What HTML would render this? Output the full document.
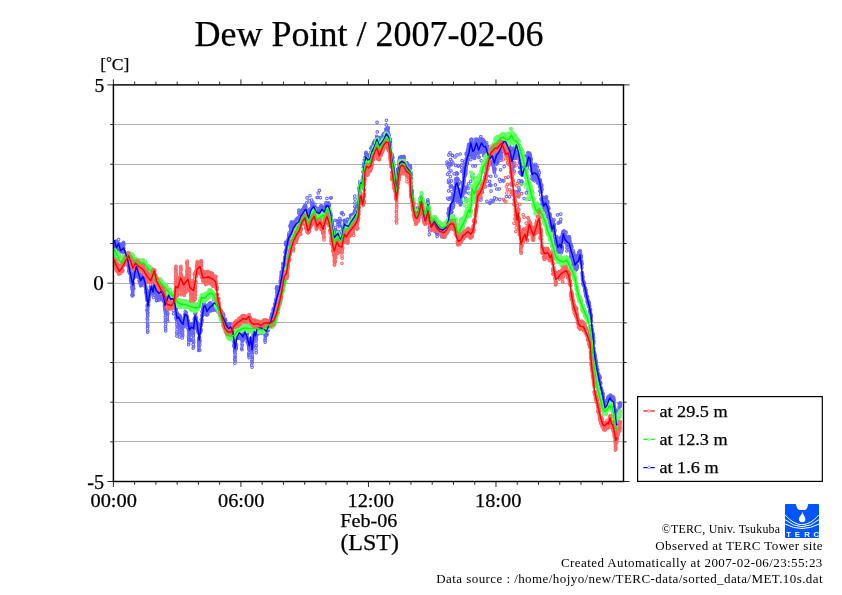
<!DOCTYPE html>
<html lang="en"><head><meta charset="utf-8"><title>Dew Point / 2007-02-06</title>
<style>html,body{margin:0;padding:0;background:#fff;}body{width:842px;height:595px;overflow:hidden;font-family:"Liberation Serif",serif;}svg{display:block;}text{font-family:"Liberation Serif",serif;fill:#000;stroke:#000;stroke-width:0.25px;}</style></head><body>
<svg width="842" height="595" viewBox="0 0 842 595">
<rect x="0" y="0" width="842" height="595" fill="#fff"/>
<g stroke="#adadad" stroke-width="1" fill="none"><line x1="113.4" y1="441.50" x2="623.5" y2="441.50"/><line x1="113.4" y1="402.50" x2="623.5" y2="402.50"/><line x1="113.4" y1="362.50" x2="623.5" y2="362.50"/><line x1="113.4" y1="322.50" x2="623.5" y2="322.50"/><line x1="113.4" y1="283.50" x2="623.5" y2="283.50"/><line x1="113.4" y1="243.50" x2="623.5" y2="243.50"/><line x1="113.4" y1="203.50" x2="623.5" y2="203.50"/><line x1="113.4" y1="164.50" x2="623.5" y2="164.50"/><line x1="113.4" y1="124.50" x2="623.5" y2="124.50"/></g>
<defs>
<marker id="mr" markerWidth="5" markerHeight="5" refX="2.5" refY="2.5" markerUnits="userSpaceOnUse"><circle cx="2.5" cy="2.5" r="1.3" fill="none" stroke="#ff6464" stroke-width="1.05"/></marker>
<marker id="mg" markerWidth="5" markerHeight="5" refX="2.5" refY="2.5" markerUnits="userSpaceOnUse"><circle cx="2.5" cy="2.5" r="1.3" fill="none" stroke="#64ff64" stroke-width="1.05"/></marker>
<marker id="mb" markerWidth="5" markerHeight="5" refX="2.5" refY="2.5" markerUnits="userSpaceOnUse"><circle cx="2.5" cy="2.5" r="1.3" fill="none" stroke="#6464ff" stroke-width="1.05"/></marker>
</defs>
<polyline fill="none" stroke="none" marker-start="url(#mb)" marker-mid="url(#mb)" marker-end="url(#mb)" points="515.8,153.1 576.7,262.2 124.7,255.2 428.6,208 303.3,214.4 162.8,299.1 373,146.1 264.2,327.8 228.3,332.5 259.3,329.4 144.5,280.7 581,256 261.4,332.6 224.1,323.3 224.1,320.6 467.5,151.4 134.7,270.6 548.3,206.9 204.7,308.8 543.2,202.5 573.8,264.3 160.8,292.3 311.6,211.6 153.7,292.3 615.4,413.6 137.3,274.4 220.1,310.9 304.8,205.9 162.9,292.1 331.5,221.6 143.5,278.1 450.3,186.6 197.8,327 593.2,336.8 447.3,164.9 188.5,330.3 613,403.5 147.6,312.8 150.5,289.7 408.9,167.9 546.9,213.9 534.7,176.6 173.6,313.7 478.3,199.9 540.6,194.7 327.7,208.7 132.2,294.6 461.3,203.1 311.8,207.9 353.7,215.4 472.9,149.9 236.6,335.6 347,225 262.9,331.2 568,239.2 542.4,202.1 193.6,341.1 313.3,206.1 213.5,310.3 502.6,140.9 456.9,182.7 419.7,203.3 288.8,238.2 237.4,334.7 613.6,397.1 610.5,399.3 327.3,209.3 472.5,155.6 348.3,227.3 333.2,230.3 618.9,412.8 439.3,229.7 360.8,181.9 562.9,236.4 381.7,140.2 568.9,240.8 173.3,299.2 399.6,158.9 521.6,181.5 341.4,236.5 316.6,215.1 435.7,226.9 427.9,201.7 249,348.9 511.5,167.1 198.7,350.5 488.2,150.7 359.8,184.5 343.4,230.1 364.7,161.7 433.4,228 271.1,317.3 272.5,315.9 328,206.9 388.3,133.6 469.3,144.2 199.9,344.6 495,155.6 603.6,403.4 190.8,325.8 586.6,297.6 313.1,207.7 201.2,323.5 230,326.8 550.8,229.9 370.6,159 534.8,170.5 244.2,330.7 570.2,244.1 451.8,216.7 216.9,306.1 567.7,244.2 184.8,320 533.3,168.2 250.8,338.6 336.2,234.7 234.8,359.6 201.4,323.4 261.4,332.2 399.4,161.8 199.3,338.6 598.9,378.6 127.3,257.5 246.2,337.7 347.3,222.4 458.5,189.4 436.9,230.1 436.7,232.5 135.1,268.5 172.1,298.7 273.4,314.1 491.8,157.2 538.8,183.1 278.6,288.2 294.9,221.8 452.6,155.5 505.8,141.7 585.4,289.1 387.9,128.2 526.8,156.5 371,153.8 237.3,337.7 583.9,285.3 503.2,137.7 171.9,306.8 146.3,292.3 222.9,317.4 118.2,245.2 294.4,227.4 506.9,153.1 456.6,172.7 145.1,279.2 374.8,140.9 297.1,224.6 505,137.1 404,157.2 598.6,377.2 342.4,229.8 606.1,405.6 461.6,192 208.9,305.5 196.7,325.6 153.6,297.5 415.6,210.3 328.3,208.1 547.3,203.8 299.2,210.8 359.7,185.9 424.2,211.5 233.7,336.4 266.2,329.8 210.4,302.9 378.1,145.8 294.1,226.5 280.2,286 493.2,158.1 276.6,289.1 429.7,215 206.1,306.1 409.1,169.4 468.7,188.1 155.6,289.9 571.6,246.5 495.5,159.5 293.5,229.7 275.7,303.1 444.1,233 147.3,310.3 576.5,269.5 365.5,159.5 173.8,299.2 457,181.7 226.2,323.9 206.4,306.9 235.8,347 170,293 212.1,305.4 208.2,307 389.1,135.6 433.2,229 472.9,166 246.6,338.4 315.7,210.9 525.1,175.2 582,263.7 400.3,161.7 592.7,334.7 497.4,160.2 294.2,222.5 240.8,330.9 227.8,323.7 122.9,247.7 518.4,145.3 521.4,171.3 555.3,243.6 606.5,406.1 510.9,148.4 520.3,157.3 581.5,261.3 589.4,306.1 520.9,183.2 206.3,306.2 496.6,198.9 505.4,149.7 416.9,211.3 226.5,327.3 379.2,140.2 234.2,339.1 574.2,261.3 358.2,204.5 252.6,341.8 290.3,225.3 551.3,225.6 196.2,318.5 261.2,332.4 253,346.2 337.6,237.3 158.8,289.1 463,191.6 475.5,139.4 221.3,318.6 491.9,154 504.2,149.3 301.3,218.7 335.6,227.8 212.4,309.8 544.7,212.3 377.3,131.9 152.9,291.9 447.9,226.6 596.5,366.4 265.2,328.2 598.6,374.9 506.7,146.3 508,154 429.3,234.6 516.9,146.5 359.3,190.2 491.6,156 616.7,426.4 184.8,315.4 531.2,163.3 156.4,296.6 501,149 607.1,400.4 466.4,153.3 475.6,144.2 503.9,180.9 371.4,147.1 506.2,141.7 189,324.9 127.9,260 208.7,305 562.4,234 547.6,202.3 222.3,315.3 179,323.3 343.1,232.7 219.4,309.4 119.5,245.9 117.2,244.4 289.1,232.9 144.5,281.8 507.9,141.4 332.4,224.4 364.8,161.2 274.9,304.4 197.5,329.2 297.4,221.5 451.1,164.4 451.8,212.1 369,159.9 377.2,138.9 486.7,151.6 244.6,330.3 544.1,204.6 390.4,142.1 231.9,333.6 278,293.2 483.9,155.3 115.5,248.4 143.1,279.2 565.2,236.7 509.8,151.8 619.9,405.3 563.9,242.4 201.7,321.1 538.8,175.8 597.3,371 396.2,190.6 155.1,285.5 376.2,140.5 147.7,316.2 377.1,122.4 589,303.2 440.2,229.2 308.9,214.1 533.9,172.6 209.8,309.6 322.5,208.8 235.8,347.3 363.9,163.4 532.4,172.3 374.1,142.5 198.5,331.4 529.3,154.8 115.4,248.7 599.4,379.4 489,152.3 243.7,338.5 340.3,239.4 188.5,336.4 354.3,214.3 188.2,321.5 210,303.2 579.6,254.3 182.1,323.5 264.2,328.9 533.6,176.3 281.4,275.6 164.5,306.3 495.9,176.1 287.7,240.9 379.7,146.6 616.9,423.6 583.9,284.2 500.6,169.8 553.3,227.5 295,223.6 424.1,210.7 214.2,305.9 141.8,276.1 488.1,150.7 574.7,265.1 602.6,398.7 335.2,220.3 399.1,168.5 347.9,225.6 157.7,295.4 329.8,211 228.8,326.8 136.6,263.9 567.4,244.6 206.8,312.2 242.2,337.2 183.8,326.1 576.5,264.6 338.2,237.6 263.9,328 427.6,203 402.8,163.7 191.7,324.4 187.1,317.4 439,229 529,157.1 591.3,317.5 226.3,324.2 304.1,214.2 135.3,267.8 139.4,279.8 551.9,227.5 586.3,296.5 578.4,259.2 256.1,350.4 460.3,201.9 213.5,308.6 141.8,278 496.6,156.3 401.7,164.9 466.2,167.9 399,165.3 446.4,232.2 537.7,175.1 235.3,348.3 529.2,159.9 521,173 438.1,227.9 274.6,309.4 474.9,144.7 182.6,327.9 148.1,306.4 293,225.8 411.4,178.3 470.8,142.2 225.9,327.8 530.5,157 354.8,218.5 391.9,160.2 116,250.8 276.3,301.2 122.7,248.7 501,150.8 281.1,277.4 323,209.2 496.4,154.4 582.4,278.8 202.2,315 299.5,219.1 482.9,141 171.7,299.1 439.5,227.5 518.4,191.5 279.7,291.6 293.9,230.8 577.9,261.2 415.7,213.4 400.1,164.6 376.6,138.3 222,314.8 474.7,158.5 479.6,150.1 338.2,236.8 550.9,222.6 321.9,208.9 583.1,283.9 372.1,153.3 204.8,305.5 252.2,347.4 411.8,193.5 207.3,307.9 179.6,337 461.9,195.8 587.2,296.4 120.5,245.1 115.9,250.2 398.6,169.7 179.2,334 503.8,135.2 124.5,251.8 355.6,215.8 525.4,156.6 486.2,151.4 581.9,267.5 510.3,152.1 442.4,227.4 445,227.5 460,195.4 430.4,218.7 311.1,212 302.6,210.1 533.5,178.6 317.1,211.5 482.6,139.9 358.4,202.2 458,199.1 122.7,244.9 198.9,339.2 167.5,298.1 352.8,214.9 393.8,172.4 460.4,204.3 176.5,318.5 136.7,265.9 209.5,305.6 199.3,341.4 235,356.5 158.9,292.9 527.3,166.5 127,255.9 167,298.3 309.3,200.9 138.3,272 410.2,165.9 468.5,159.5 393.9,166 393.6,166.8 447.6,174.3 321.2,206 432.6,220.5 242.6,337.8 509.3,155.9 335.6,229.7 232.1,332.4 489.5,162.2 447,223.5 216.4,307.6 300.7,215.4 401.9,164.7 337.5,224.4 566.7,241.2 463.7,178.2 579.3,255.7 479.3,145.6 526.9,163.9 492.5,154.8 201.5,319.5 262.4,326 139.2,281.2 530.8,158.5 392.7,157.8 309.9,209.4 421.7,203.7 611.1,398 330.8,215.2 566.8,247.8 141.9,276.7 416.1,211.4 264.4,328.6 571.4,250.8 452,208.5 301.5,215.6 411.9,192.7 303.8,207.4 504.8,137.6 193.5,327.1 442.5,229.3 234.8,347.7 556.6,243.2 120,251.4 543.7,207 324.6,213.1 464.2,177.5 516.3,149.2 256.1,334.6 465.1,163.9 500.2,147.5 175.1,302.2 581.2,256.1 309.2,218.4 306.9,215.4 521.6,181.2 234.2,340.5 372,153.5 116.3,242.1 444.3,229.6 247.8,340.4 393.4,169 537.2,179.9 222.1,317.6 315.4,211 189.3,325.2 478.6,148.8 466.4,158.7 556.7,238.8 347.1,225.1 554.5,236.6 144.8,279.2 522.5,172.9 201.1,330 288.7,237.2 239.6,330.9 453,202 182.7,321.5 280.9,282.4 373.8,142.9 216,307.8 151.6,288 149,294.6 209.6,304 584.7,288.1 129.5,272.2 169.9,300 587.9,301.2 217.1,303.4 551,228.7 420.8,197.1 422.4,208.5 498.2,158.5 259.7,330.6 270.1,325.7 116.9,245.3 125,255.2 181.9,328.5 602.7,396.4 605.1,403.3 563.4,233.8 528,165.3 371.7,154 577.8,261.1 570.6,250.7 335.1,233.4 141.7,277.1 143.1,280.6 604.5,407.8 559.4,247.4 147.4,310.4 396.9,185.3 409.8,172.5 412.2,193.5 179.4,327 199.1,338.9 544.3,204.7 260.8,325.9 538.1,180.4 431.3,223.1 131.1,275.4 186.9,317.7 327.7,207.7 317.6,213 178.7,317.9 438.2,224.4 156.7,297.5 156.2,290.3 511.5,165 446.6,222 151.1,289.4 291.1,225.3 331.5,220.8 260.5,332.5 562.8,232.9 425.8,213.3 427.2,206.1 166.6,297.3 560,246.9 449.5,216.6 253.1,341 349.6,225.1 441.8,236.2 119.6,246.1 259.4,325.6 365.7,158.8 211.1,306.1 264.7,327 599,380.7 356.2,208.4 138.4,270.3 399.4,162.8 434.8,222.5 233.2,330.9 147.5,328.1 185.7,316.8 423.5,217.4 560.9,240.8 521.9,169.6 264.8,327.4 453.3,207.5 514.7,150.8 531.3,162.9 443.8,230.4 585.5,293.4 489.5,155.9 215.1,305 309.2,211.8 130.4,273.4 244.2,330.3 243.9,338.1 473.3,152.7 506.4,196.5 376.2,140.2 187.4,327 303,214.2 124,252.7 197.1,321.7 389.6,141.1 132.3,288.9 611.4,402.2 193.5,325.3 559.4,250.3 266.3,328.8 376.8,141.6 296.9,223.1 581.5,261.2 321.6,208.3 443.8,228.2 299.3,219.4 206.9,309.6 271.6,317.1 543.3,197.4 437.8,225.9 225.2,320.1 339.5,225.1 198.5,330.2 597.1,369.7 133.8,277.9 273.5,313.3 263.5,326.3 537.2,173.5 114.6,241.7 284.9,258.1 436.6,232.6 550.5,220.6 345.9,225.9 450,152.7 469.4,150.2 582.9,277.4 610.8,397.2 203.3,309.5 263.4,327.8 538.3,174.8 159.5,298.8 127.8,258.8 289.8,236.2 422.3,205.7 379.3,141.6 535.2,165.8 575.6,262.3 432.9,221.6 540.5,180.1 151.3,287 524,164.9 400.8,160.3 282.5,274.2 200.2,330.6 522.6,171.3 440,229.8 158.2,294.8 375.3,144.2 580.7,253.9 452.8,194.5 280.9,281.4 257.7,332.9 530.9,159.8 609,401.4 336.5,235.9 175.4,307.1 518.8,196.8 287,243.6 471.6,139 377.2,139.7 387.9,129.3 254,330.6 182.4,330.5 138.6,270.9 467.2,157.4 218,308.8 291.3,224.1 355.1,214.4 613.9,400.5 391.5,161.2 537.9,175.1 173.4,310.4 520.5,166.8 493.9,169 289.7,234.6 468.2,151.7 585.8,293 609.4,396.5 353.8,214.5 514.5,148.8 521.3,181.1 458.6,197.3 142.2,282.6 199.8,340.6 451.7,161.1 512.9,156.7 573.1,262.1 517,155.3 541.4,199.5 202.3,312.1 213,308.4 353.3,215.3 598,372.8 611.8,401.2 240.9,331.5 449.6,214.7 319,216.8 539,181.3 344.2,226.3 204.4,304.2 574.5,266.9 363.2,171.9 291.1,229.4 426.9,210.4 209.2,304.1 483.6,140.6 117.2,247 613.7,398.6 194,328.8 215.8,308 156.4,287.6 137,266.4 369.3,162.3 314.9,208.9 370.5,157.6 418.7,214.4 149.6,294.7 178.4,317.9 427.1,213.5 330.8,213.8 245.6,332.5 188.8,331.1 183,324.6 432.6,223.7 555,240.1 544.5,209.1 560.8,219.4 247.4,341.3 569.6,242.8 357.9,206.1 455,197.4 258,331.7 511.3,184.9 187.7,320.5 559.8,244 267.4,327.4 507.7,145.8 167.1,298.2 392.8,163.2 391.2,158.1 450.5,176.6 366.3,157.7 280.1,289.4 142.4,281.6 253.5,341.3 553.4,227.2 367.1,159 596.4,365.4 427,213.8 578.5,254.8 164.7,304.7 198.8,345.4 270.1,325.3 299.4,216.8 190,327.9 617.4,424 443.7,227.8 327.1,209.3 117,245.4 461.4,201.5 121.1,249.3 144.8,277.9 269.7,322.3 550.8,229.4 280.4,282.9 346.6,228.3 176.1,308.9 596.7,366.7 251,343 237.8,335.1 311,213.4 157.3,296.6 160.3,291 239.1,336.3 245.2,329.7 340.8,237.2 300.7,214.8 195.7,312.8 154.4,286.9 465,167.1 258.6,325.4 481.2,151.9 324.1,211.1 558.7,246.3 358.9,199.7 590.4,309.5 430.9,222.9 345.2,224.7 560.6,239.2 252.3,356.2 491,164 600,377.8 190.6,340.5 159.3,290.8 180.2,320.6 141.5,275.4 386.9,136 600.2,382.8 317.5,212.7 560.7,238.4 582.3,272.5 238.3,337.1 510.3,157.7 532.6,170.1 234.1,344.6 197.2,323.2 432.7,221.2 204.1,303.2 458.2,184.7 411.9,190 256.5,333.4 328.6,202.9 319.6,208.6 476.2,142.1 153.3,287.7 499.8,199.4 558.1,245 316.1,208.2 372.8,152.6 147.4,323 184.2,323.5 301.6,214.1 493.1,156.4 148.5,299.8 429.7,225.5 432.4,222.8 314.1,210.7 198.7,341.6 277.9,295.6 172,304.8 415.9,211.9 300.6,214.4 450.3,210.1 516.4,145.8 342.2,212.5 536.2,176.7 491.1,162.6 606.9,406.5 318.7,213.1 385.1,133.2 481,197.4 396.1,190 591.6,326.8 267.1,330.6 462.1,160.5 373,146.5 165.3,308.2 315.2,210.3 157.4,293.6 309.6,217.1 347.7,227.2 603.6,402.1 574.8,262.8 557.9,248.4 615.3,411.4 560.3,242.1 331,197.9 217.1,304.7 180.6,317.4 573,263.9 407.2,165.4 374.5,141.9 417,210.8 234,346.4 483.1,151 466.5,158.7 407,170.1 428.3,209.2 202.6,311.1 295.6,227.1 229.7,329 565.3,240.2 196.1,318.7 511.7,167.3 322.6,210.2 170.8,302.6 381.8,140.8 387.7,137.3 431.6,224.5 161,287.3 254.4,336.6 242.7,339 608.8,396.6 453.1,201.5 546.1,205.3 474.5,157.8 226.8,330.5 537.3,167 600.9,388.9 497,160.4 135.5,270.3 374.7,143.2 493.7,159.2 496.8,189 559.7,246.3 459.3,197.6 366.8,161.6 314.3,208.8 374,142.8 125.8,258.2 215.6,307.2 528.1,153.5 590.2,310.5 145.4,282.6 352.5,216 221.7,316.2 478.9,156.9 509.5,155.5 228.6,324.8 258.1,331.8 524.9,166.2 180.9,318.3 312.7,204 167.7,313.2 497.7,155.8 386.7,132.7 341,237.5 335.2,239.2 401.9,164.9 347.2,224.3 485.5,155.8 339.8,223.3 617.6,417.4 274.8,308.4 403.2,161 198.1,331.7 502.6,151.3 614.6,409.8 212,305.1 579.4,252.1 474.5,151.4 441.2,225.8 138.1,277.3 453.6,205.1 593.8,341 566.9,251 401.5,161.8 182.4,326.9 478.4,152 137.1,272.7 493.5,161.7 503.3,135.6 202.6,312.7 286.1,249.8 241.1,333.1 547.5,206.7 508.5,155.8 151.3,286.3 367.8,155.6 116.3,241.8 521.8,184.1 548.5,208.4 198.8,346.7 500,144 588.5,303.1 150.8,292.9 126,259 515.9,158 179.5,316.7 147.3,305.1 560.7,240 595.2,355.2 134.2,272.4 292.5,233.1 401.9,162 575.2,257.5 386.4,130.5 448.7,168 460.8,195.7 420.3,199.9 619.7,407 598,374.2 400.4,161.2 554.2,224.2 376.4,144.2 560.2,242.6 235.6,345.2 619.3,403.5 173.7,306.8 295,224.4 457.6,192.9 526.1,161.2 413.1,201.1 330.4,213.2 455.1,194.9 485,151.9 531.5,169.6 468.5,156 517.5,153.5 260.9,326.8 455.8,193.8 384.3,137.7 236.3,348.5 457.9,194.6 123.4,250.2 552.2,230.8 488.6,157.2 266,334.5 335.9,237.5 452.1,199.1 238.7,332.5 506.1,144.6 370.2,161.4 238.7,330.8 461.8,192.9 236.7,335 439.8,233.7 412.1,191.2 170.9,298.5 344.6,222.7 292.6,231.7 265.2,327.7 472.9,147.7 609.3,401.2 518.6,151.7 115.4,245.2 145.8,288.5 171.3,298.3 565.9,232.1 463.3,186 350.6,215.2 541.9,189.7 451.2,206.6 447.7,198.2 251.9,352.3 538.1,179.8 492.5,153.1 189.9,329.1 321.8,209.1 253.3,336.1 316.8,215.2 352.4,217.5 273.7,308.5 475.5,141.8 601.6,391 128.5,260.8 363.2,176.7 367.3,161 231.7,331.7 282.2,275.7 212.4,309.3 127.5,262.4 135.6,267.8 455.7,165.4 255.1,331.8 448.8,166.6 609.9,399.9 146.6,297.3 158.5,289 428.8,208.9 191.7,326 338.2,237.7 198.8,338.1 614.2,406.1 432,223.8 355.8,208.2 317.5,213.4 223.6,314.5 350.2,222.8 426.6,212.2 524.1,163.9 549.3,218 574.9,270.1 448.4,213 463.5,186.7 511.7,168 347.5,222.9 564.1,230.9 446.1,223.9 183.7,324.7 310.7,212.1 305.5,206.3 223.6,319.3 344.1,226.1 456.8,174.7 166.4,299.7 541.7,184.9 491.4,149.9 560.1,244.2 322.2,209.3 155.5,293.4 395.2,181.1 485.8,153.5 397.1,185.9 494.5,197.9 484.6,143 520.2,162.8 591.8,329.3 516.1,192.7 437,229.3 369.6,160.8 588,304.1 406.9,169 540.3,190.9 606.6,402.3 221.6,319.6 545.4,197.5 534,165.3 178.2,319.4 360.5,185.5 447.6,227.2 398.9,170.3 240.5,335 181.1,326.9 501.9,141.7 584.7,288 157.8,289.9 251.2,340.9 465.7,174.3 267.8,330.6 251.5,348.5 421.9,198.6 502.3,142.8 273.4,313.9 266.4,328.9 290.8,233.5 281.1,279.8 176.9,333.4 327.8,206.6 286.5,249.7 413.8,207.5 133.2,287.1 572.4,259.2 154.8,290 495,162.2 398.9,168.2 161.7,287.8 393,161.8 575.9,261.9 466,169.7 222.9,313.1 542.9,209.7 417.6,212.9 449.4,215.2 365.1,159.9 498.7,147.9 454.5,189.2 340.7,239.5 344.3,220.5 462.1,183.6 205.6,310.1 265,340.1 176.9,315.3 352.1,219.1 554.2,224.9 578,256.8 309.7,210.8 326.6,207.2 246.4,334.3 215.3,302.9 135.1,270 616.6,425.8 114.9,242.5 541.9,189.3 143.4,283.1 376.5,144.1 406.2,163.4 125.7,254.9 131.5,280.2 249.7,341.8 167.3,297 181.8,328.3 127.6,261 170.7,299.6 339.8,218.3 612.8,404.8 189.4,328 572.9,261.8 245.3,329.6 374.3,141.8 301.7,210.3 603.3,400.8 344.6,223.8 317.3,212.8 594.6,353 379.7,143.7 480.1,143 161.8,288.2 216.7,309.5 346.4,228.1 327.1,209.2 439.2,228.9 389.2,138.9 513.3,150.3 439,226.8 204.7,307.8 136.6,264 489.8,154 246.7,334.3 530,160.3 520.6,163.7 176.4,319.4 301.4,217.8 336.2,238.8 295.3,228.4 436.8,232.1 562.3,246.5 389.2,138.4 413.7,202.3 324.8,213.1 253,346.2 257.2,326.7 337.3,234.8 456.4,180.5 408,167.2 511.3,148.1 174.7,303.9 150.1,292.2 307.8,216.9 194.3,322.1 609.8,400.4 461.4,195 510.8,151.2 604.4,404.5 159.2,299.6 488.5,154.5 406.5,165.8 175.9,308 600.3,382.8 585,289.8 589,304.3 481.1,147.7 612.8,402.1 123.7,243.8 377.3,137.3 465.6,171.1 175.8,314.2 590.9,317.1 197.8,324.2 318.8,212.2 141,283.9 249,346.6 205.5,308.9 574.8,269.9 484.9,144 197.5,328 542.2,204.4 183.8,325.1 475.7,145 345.5,227.3 368.5,159.9 564.4,239.1 446.4,231.7 528.3,181.2 272.7,314 198.3,329 257.8,332.9 524.8,167.1 289.4,236.8 520.4,162.7 582.7,276.8 193,329.3 608.3,396.6 292,233.1 284.1,265.9 564.9,239.6 356.3,209.9 265.3,336.5 502.9,145.4 242.1,340.4 577.4,265.8 322.4,211 509.3,159.5 475.2,143.7 551.7,224.4 258.1,325.4 237.4,335.3 253.8,339.6 400,164.2 464.2,180.4 165.6,315.5 185.8,320.3 247.1,333.5 619.9,406.4 426.2,216.5 324.4,210.5 452.5,201.5 415.7,212.8 391.2,154.7 182.6,334.2 344.8,221.9 418.3,213.6 421.8,203.5 531.7,165.7 606.4,404.6 283.1,268.7 372.1,151.9 421.5,199.3 147.6,313.1 308.2,216.1 478.7,151 271.8,316 235.2,357.6 283.7,266.1 177,320 272.8,316.7 534.6,173 175.1,302.1 521.2,162.2 435.4,231.4 167.3,319.2 252.6,342.7 478.1,153.2 355,216 513.7,163 245.3,331 543.9,206.8 338,237.2 420.6,198.4 229.1,327.8 122.3,246.9 481.7,145.6 190.2,339.5 523.5,162.6 262.8,331 229.9,325.9 273.3,313 522.3,175.2 279.9,288.3 421.2,199.6 366.4,159.4 580.4,260.7 149.7,296.3 164.7,303.8 150.4,286.9 433.1,227.9 592.2,333.5 290.4,226.5 498.7,144.7 270,325.9 498.2,153.9 262.5,326.6 315.6,210 183.3,322.9 472.4,156.4 277.7,296.3 535,165.6 265,334 548.1,209.4 449.2,211.9 382.8,140.1 228.8,324.7 583.5,283.5 520.7,173.7 460,198.2 543.6,207.2 405.1,163.4 380.1,146 436.3,226.5 521.2,162.5 164.2,301.9 487.7,155.9 562,249.1 325.6,205.3 228.2,326.8 297.9,223.9 256.1,336.7 570.1,245.5 119.3,247.3 279.6,289.6 381.1,144.5 397.3,180.1 555.5,245 524.3,163.6 393.2,168.8 261.9,332.9 130.2,269.5 268.3,329.1 486.9,201.3 339.3,223.7 388.6,135.7 312.4,209.9 322.4,209.2 380.8,138.8 248.4,343.3 276.2,300 442.9,232.6 479.5,143 354.3,219.4 512.8,166.7 547.8,201.6 138.8,276.3 314,208.3 526.8,160.5 495.2,162.8 276.5,288.7 311.1,213.2 186.3,318.4 429.5,213.9 550.7,228.9 385.5,137.7 141.4,277.6 509.1,142.5 489.7,181.4 132,287.2 417.6,208.3 460.4,198.6 176.4,316.8 443.2,236.5 498.4,150.5 457.9,193.6 530.7,159.9 457.4,183 130.2,273.8 165.4,326.7 272.1,315.4 519.3,158 218.9,305.3 170,292.3 160.2,296.3 479.5,150.2 132.8,291.5 300.9,218 566.4,236.8 452.7,197.7 230.9,327.2 223,316.7 589.9,311.1 167.3,295.3 145.9,289.2 488.7,147.5 330.4,215.7 199.5,337.4 599.1,379.9 152,289.9 252.1,349.6 484.8,155 433,220 476.5,195.2 312.2,205 454.1,173.8 198.1,330.6 324.3,212 470.6,142.5 164.1,298.5 362.7,180.5 602.9,394.2 448.8,209.9 366,154.1 367,157.5 498.9,144.4 470.5,151.8 607.4,406.3 515.4,153.4 372.3,152.9 497.8,150.5 408.5,173.1 325.7,205.2 386.4,132.4 294.7,226.9 381.5,146.2 241.8,335 176.9,336 284.7,257.5 592.4,334.3 501.7,156.1 389.1,139.9 298,218.1 437,231.5 212.7,307.4 418.5,210.2 318.3,193 481.2,160.8 181.7,328.2 500.4,147.2 476.8,205 512.6,172 175.4,305.9 114.8,242.3 356.7,214.3 364.9,164 147.2,318.7 613,403.9 525.7,172.5 326,206.4 125.2,255.9 467.7,155.9 540.6,186.6 577,255.7 326.8,205.5 136.8,264.4 373.3,147.7 485.2,143.3 617.1,425.4 181.1,325.4 612.4,396.9 136,266.2 593.1,334.4 276,299.9 379.5,145.9 282.9,263.6 575.3,256.7 386.3,124.9 460.7,201.6 359.1,188.1 138.2,277 176.8,312.2 575.4,260.1 348.2,226.8 219.8,315.3 149.2,293.2 533.1,171.1 298.1,223.4 348.9,228.2 404.7,167 140.2,274.3 131,275.6 523.4,164.6 192.4,331.5 417.4,209.8 173.1,298.3 241,335.8 451.6,205.6 399.7,160.2 311.7,200.1 298.6,224.5 538.4,176.8 592.2,332.1 525.2,174.4 407.6,166 465.5,166.9 348.7,226.2 144,279.2 580.2,256.2 246.3,338.3 267.7,324.5 322.1,207.4 336.5,235.3 132.8,283.7 184.3,320.3 528,152.6 581.2,263.6 459.6,193.3 295.8,224 334.7,234.2 222.9,320.1 547.1,205.5 235,349.6 242.8,338.2 238.9,332 599.1,377.5 610.5,399.6 524.5,168.7 139.6,281.4 592.9,333.2 617.3,424.3 606.9,403.8 239.9,332.4 179.5,332.4 511.8,192.7 252.2,357.4 503.6,136.4 548.9,208.6 571.8,257 263.2,331.9 378.9,141.5 544.8,202.7 333.7,231.5 566,232.7 364.3,160.2 361.4,181.6 468.6,146.4 485.7,155.9 301.6,212.7 609.8,398.9 580.9,257.3 601.2,389.1 186.2,312.5 579.6,255.3 214.3,303.4 267.6,325.1 466.3,153.7 613.6,399 133.1,285.1 527,166 127.6,264.2 598.3,375.5 531.4,169.4 507.5,141.4 438.3,223.2 132.8,284.3 288,242 186.6,317.9 440.4,228.8 603.3,398.8 210.3,303 150.5,292 551.5,222.1 510.9,162.8 485.2,149 152.7,287.1 449.2,209.1 181.5,327.8 200.5,329 287.6,243.5 172.6,297.2 182.4,324 277.3,295.6 220.1,313.7 426.4,214.1 191.8,324.4 528.2,158.1 482,140.1 125.5,253.2 163.7,300.6 232.9,333.9 416.4,212.1 445.3,224.9 320.6,214.2 525.7,177.2 314.9,208.2 554.5,233.1 237.7,333.5 513.6,165.9 144.2,275.5 519.3,153 511.9,167.7 380.1,141.1 207,309 295.1,221.5 256,335 380.9,140.8 486.6,147.5 365.7,157.4 118.9,248.3 184,323.6 223.9,323.5 531.7,169 593.1,339.8 468.8,193.3 353,214.4 523.2,163.9 406.7,162.9 541.6,187.7 333,227.9 235.9,346.5 608.1,403.9 169.5,294.4 357.1,214.5 168.8,294.7 285,256.8 400.4,162.5 364.8,164.7 207.4,311.5 126.6,254.1 585.9,292.2 196,321.2 306,213.3 463.9,183.3 382.8,138.6 151.5,288 482.4,150.7 420.5,198.7 605.5,406.7 234.6,343.3 145.7,289.7 567,239.8 258,333.7 158.7,289.5 479.4,149.4 570.2,247.6 204.9,306.4 193.6,342.5 472,175.3 240.8,331.1 314,208.7 464.3,174.6 186.6,318.9 334.6,236 417.6,208.9 140.4,275.3 399.2,160.5 603,396 455.8,193.9 545,205.1 374.9,146.4 258.3,330.5 143.3,285 165.4,306.2 335.5,237.9 408.1,167.4 427.3,205.2 572.2,259.1 517.4,148.7 469,144.6 384.2,133.4 331.6,221.7 270.7,322.9 276.9,292 424.9,216.9 152.8,287.6 386.9,137.9 475.2,155.2 311.4,213.1 342.3,233 232.9,336.1 470,155.3 283.9,267.6 191.8,323.5 330.1,214.1 203.9,305.9 536.4,171.8 310.8,212.1 216.1,308 484.3,144.5 361,186.3 422.2,201.1 530.7,158.5 119,244.3 410.7,176.2 174,298.3 429.2,216.1 362.9,179.2 172,303.4 392.2,155 333.3,234.7 593.4,339.7 247.7,342.8 239.4,337.9 368.6,160.4 482,143 245.3,330.2 312.8,210.9 339,239.6 516.1,158.5 427.5,203.9 412.8,199.5 471.5,141.8 154,290.3 440.8,232.2 591.6,328.7 488.1,147.1 172.3,299.5 346.4,226.8 314.7,210.7 165.6,320.1 242,338.5 607.5,405.9 597.1,372.8 568.2,247.5 192.8,324 326.7,205.5 251.2,343.2 494.5,172.8 490.9,159.5 560.6,237.9 361.3,186.8 328.9,204.4 314.1,210 496,151.3 423.1,207.7 202.4,311.5 610.3,398.2 343.7,230.8 549.2,216 459.6,201.9 242.2,338.8 248.5,341.9 360.4,186.3 285.6,242.4 350,225.4 575.3,270.3 601.6,394.3 463.4,182.4 351.6,216.2 145.2,281.8 464.6,171 326.4,208.6 581.4,262.8 456.6,184.6 402.2,160.5 327.5,203.8 333.3,233.2 471.1,143.6 325.3,207 170.4,293.7 119.9,250.3 323.7,208.8 351.2,222.6 259.2,324.8 255.5,332 231.5,328.3 364.4,164.2 582.7,277.6 361.4,184.3 463.8,181 285.5,252.3 609.3,398.5 557.6,252.1 204.6,308.3 190.5,340.1 456.3,183.9 500.2,145.8 503.4,136 420.9,200.9 552.4,221.4 408,164.6 488,149.2 534.2,175.8 319,214.4 131.3,278.4 295.6,226 218.2,312.3 416.2,215.2 245.8,331 419,213.5 609.5,397.7 366,152.3 465,161.2 501.9,142.4 288.1,241.8 130,266.5 308.2,217.5 281.4,272.1 443.4,237 385.2,133.5 304.6,206.2 541.4,192 432.1,225.9 205.8,311.3 457,154.9 233,333.4 462,193.1 462.4,182.5 183.6,321.7 130.2,272.3 339.8,240.2 212.4,306.5 398.3,171.3 337,220.7 380.5,137.4 570.9,256.5 341.7,236.7 342.3,226.2 612.7,402.9 217.8,307.5 515.8,158.2 601.9,393.2 319.8,209.2 451.6,180.9 446.1,225.4 442.7,230.1 298.8,223.5 128.3,266 362.4,184.2 201.7,319.9 613.9,401.1 321.3,205.8 235.4,345.4 154.7,291.2 292.2,229.1 610.3,398.8 405.7,163.8 557.5,249.8 282.7,270.7 557.3,244.8 275.4,303.3 403.2,159.4 189.7,328.5 590,309.4 382.5,140.9 126,256.9 156.6,300.5 395.5,185 531.7,170.2 519.5,162.2 195.3,313.8 497.3,163.3 567.8,241.4 243.5,338.5 607.6,402.4 185.4,315.5 566.3,242.6 118.4,247 234.9,363.3 250.4,339.9 479.8,144.5 159.8,290.2 598.3,375.3 341.9,236.7 274.3,311.1 618.3,413.7 536.6,174.1 501.3,158.4 540.7,192 548.3,207.8 129.1,270.8 546.6,205.1 221.2,312 411.3,178.4 615.4,418.3 420.2,207.4 343.3,229.5 243.9,332.3 319.6,208 487.5,151.9 586.4,293.8 325.5,208.6 519.2,190.1 298.4,224.6 478,190.2 237.8,335.6 528.8,159.6 192.2,331.5 485.8,172.9 386,133 498.1,157.7 167.3,316.9 504.2,166.6 424.9,218.1 465.9,163.1 326.1,202.6 203,310.3 143.3,282 187.7,324.3 194.7,318 473.1,152.6 193.3,328.6 598.9,379 576.9,259 378.8,143.4 510.9,158.1 517.7,148.4 139.8,274 267.9,330.5 500.5,142.4 499.6,154.8 384.8,137.3 368.9,162.1 274.3,311.7 546.5,199.7 308.3,220.5 594.4,355.5 147.6,309.8 192.2,326.8 486.1,153 163.3,297.4 409.9,168.3 518,152.4 320.3,212.7 254.6,334.5 208,307.7 150.5,290.1 444.9,224.7 189.7,330.2 409.4,166.5 200.5,332.6 267.3,328.9 611.3,401.9 150,290.9 174.2,306.2 620,404.5 377.8,142.8 161.1,291.8 419,214 571.1,244 508.5,148.1 532.9,175.6 420.8,201.7 477.8,142.3 357.9,205.4 370.5,159.1 298.1,222.1 517.6,148.4 527.6,165.6 601.5,389.4 352.4,216.3 262.1,329.7 482.9,139.6 471,139.6 454.7,189.7 123.1,250.8 114.8,245.8 493.6,166.8 345,224.3 369.8,160.8 375.5,145.7 503.8,139.6 148.8,299.2 256,343.6 199.8,350.3 413.9,211.1 211.1,308.6 149,299.6 189.2,340.5 476.6,139 479.2,151.3 519.7,161.4 217.4,307 561,240.6 185.1,317.4 277,292.8 485.3,155.8 212.6,309.2 348.4,225 187,317.8 408.8,172.9 556.7,237.9 341.7,239.6 419.2,212.8 486.1,150.1 603.7,403 471.9,139.7 528.4,155.3 579,252.5 583.3,280.7 386.5,120.3 244.1,336.5 330.9,217.8 302.9,214.8 558.7,246.5 179.7,330.8 389.6,141.2 225.8,326.7 571.6,246.3 228.5,332.4 137.5,271 550.1,214.2 390.9,153.3 471.5,144.4 407.4,164.8 278.6,287.9 156,289.7 251.3,340.6 252.2,349.1 512.4,165.3 233.6,334.4 288.6,238.4 235,350.8 605,406.4 248.8,348.2 452.2,198.2 307.3,211.4 502.5,180.4 292,229.5 310.6,208.9 595.8,361.9 488.9,165.3 410.5,167.3 472.6,150.3 308.8,213.1 290.2,226.5 183,321.4 497.6,160.6 327.8,206.4 559.4,247.9 453.8,194.8 306.7,210.9 188.1,321.2 534.2,178.9 413.5,202.9 157.1,294.1 404.9,166.4 428.8,207.2 379.2,146.3 348.5,227.9 568.2,243.7 365.3,157.2 431.6,225.7 170.9,301.4 286.9,242.1 350.9,215.8 261.8,331.9 493,201 197.9,324.8 318.9,214 530.2,155.5 494.9,168.5 385.8,137.4 338,235.7 125.7,257.2 515.5,152.9 555.9,245.2 559.7,249.4 269.3,324.3 287.1,242.3 332.2,227.8 390.6,152.9 421.6,200.9 418.4,216.1 124.3,251.6 559,249 586.8,296.7 256.7,329.8 270.9,323.2 119.4,246.1 512.8,167.9 126.3,257.8 617.9,420 225,319.4 302.2,212.8 214.8,302.9 177.6,319.3 577.7,257.3 222.8,315.1 305.3,205.2 209.9,304.9 368.2,159.3 347.3,223.8 577.5,260.5 308,216.3 571.8,247.3 459,191.6 484.1,151.2 490.4,163.7 569.2,237.6 466.6,200.8 289.5,234.6 474.3,155 505.9,145.8 472,142.1 301.3,216.8 265.4,334.9 387.8,131.8 361.8,187.1 268.6,326.3 453.8,188.3 208.6,308.7 444.2,230.8 513.5,150.4 142.9,281.5 477.3,140.7 268.2,329.6 425.6,222.4 164.1,296.6 523.9,164.8 396.3,192.5 394.4,174 545.3,206.9 149,297.1 230.8,324.9 183.5,323 429.2,214.4 600.6,383.7 262.6,332.5 185.8,314.6 492,150.9 438.8,227 594,353.4 313.7,206.9 223.3,316.9 239.9,330.2 430.7,220 539,180.8 275.3,304.6 218.5,310.7 467.4,159 528.6,156.6 129.1,271.4 575.5,264.4 326.4,207.1 239.9,338.3 191.5,325.5 179.7,328.8 433.6,221.1 429.6,215 254.1,334 491.2,162.6 477.2,140.8 215.1,303.4 369.1,162.1 375.1,146.9 365.2,161.5 437.3,226.2 125.3,257.9 473.4,149.3 273,315.8 185,316.3 196.8,323.7 146,292.2 496.6,155.2 448.3,163 238,334.1 384.8,140.5 617.1,423.5 317.7,216.1 294.7,228.1 254.1,331.7 132.6,293 307.5,217.6 434.3,222.8 605.7,407.1 140.7,285.7 219,305.9 383.9,136.2 403.9,158.6 483.6,141.3 450.6,214.4 253.1,339.2 555.6,245 116.5,242 203.9,304.2 300.6,212.8 570.7,252 588.9,303.1 319.3,209.1 573,263.7 393.5,164.3 360.8,183.5 540.9,185.8 581.6,261.4 549.3,213.3 615.3,415.3 557.7,242.9 126.7,256.8 552.6,222.2 529.6,158 616,424.2 500.8,149.8 204.5,306.3 441.7,230.6 273,310.4 137.1,274.1 203.8,308.8 355,215.8 178.3,318.8 554,219.9 414.3,216.1 235.1,347.5 616.2,424.5 612,399.1 526.9,157.7 549.1,217.7 237,334.8 465.4,190.6 362.3,182.7 359.1,188.8 463,186 187.8,323.6 517.3,155.6 200.9,325.4 195.5,312.7 135,267.4 337.6,235.2 336.6,234.9 302,212.7 158.6,289.1 390.2,141 429.3,212.3 137,270.8 338.6,231.6 253.7,339.9 229.2,327.3 391.9,161.1 555.1,239 510.5,155.1 426.7,208.6 277.7,294.6 354.7,210.7 518.9,187.9 208.6,305.4 226.3,326.7 600.3,383.7 595.9,360 395.2,180.6 620.4,403.7 129.9,271.9 527.9,164.7 381.4,146 122,250.2 385.8,137.1 579.1,252.1 510.3,156.5 560,242.7 243.5,338.6 591,315.3 363.9,165.1 605.8,406.5 310,195.7 122.1,246.4 318.3,214.5 489,160.4 214.4,300.9 435.3,228.6 413.2,199.6 595.3,358.7 560.5,238.6 615.5,418.4 291.4,224.7 607.7,398.3 322.9,210.6 122.4,251 151.4,286.3 336.9,233.9 128.5,266 390.5,139.4 604.1,404.4 149.2,296.2 517.9,148.6 299.9,219.4 556.7,242.7 545.8,207.5 250,342.1 598,374.6 227.6,326.9 516.2,144.8 460.5,204.9 391.5,160 270.3,322.2 248.6,344.1 604.8,406.3 534.6,180.8 550.2,223.1 456.5,183.8 452.7,198.7 455.5,189.1 230,323.8 405.2,166.2 439.1,224.9 568.5,249.7 318.6,215.5 378.5,142.8 544.9,206.2 198.7,343.3 500.5,145.9 159.3,297.6 269.3,326.3 177.1,314.9 542.9,199.1 524.9,173.3 167.4,308.5 254.2,331.8 215,302 499,144.6 205.3,309.6 265.9,333.8 308.8,214.4 553.1,224.7 255.5,334.8 158.3,288.7 605.5,410.5 218.6,311.6 266.6,330.2 356.9,215.5 446.8,229.3 486,148.9 514.3,158.6 472.7,178.3 290.8,230 367.8,157.5 466.7,162.7 219.6,310.5 608.9,401.8 363.5,167 350,221.9 544.6,211.9 243.4,334.2 437.2,223.7 452,208.4 359.4,191.2 458.3,166.1 474.8,152.2 227.3,327.3 293,225 374.8,141 259.7,327.3 511.5,164.7 152.3,293.8 436.3,232.1 316.9,215.3 260.1,329 385.3,132.8 513.1,151.9 192.6,327.8 477.1,148.6 347.4,219.1 261.1,330.9 530.6,158.1 333,226.7 416.5,216.4 439.6,230.1 548.8,215.5 312.7,209.5 213.9,308.3 382.5,141 248,340 118.1,245.8 348.1,228 239.2,337.9 527.5,166.5 491.9,151.5 187.9,323.3 470,147.1 182.8,324.9 451.4,207.3 233.6,333.9 455.8,187.1 515,155.6 202.8,310.2 285.2,252.3 373.8,143.5 447,162.1 227.2,330.1 561.7,250.9 311.9,205.5 375.9,144.5 469.9,151.6 542.2,206.8 572,252.9 494.2,169 337.5,235.7 403.8,156.3 191.1,329.5 440.9,228.9 124.1,252.7 233.4,331.4 537,175.6 132.5,289.7 415,211.9 413.4,200.3 400.3,164.5 611.3,398.9 439.4,230.7 302.4,209.8 576.1,268.5 611.8,399.5 229.5,323.9 591.9,331.3 430.4,224.9 327,203.5 193.1,327.4 388.7,135.6 140.5,283.2 353.7,218.4 359.8,183.3 344.7,223.2 163.6,300.4 358.9,197.8 553.5,225.9 369.5,155.4 234.6,350.8 572.7,258.1 137.6,269.8 480.2,143.4 302.5,216 412.6,195.2 349.5,227.7 277.7,295.6 215.1,305.2 588.6,303.6 450.9,210.7 595.5,360.6 481.5,151.8 514.6,166 314.3,210.5 283.1,270.7 456,184.9 405.4,166.7 276.2,303.6 147.4,310.8 133.7,288.4 409.6,167.4 589.7,311.7 441.9,236.7 515.5,145.7 422.4,208.1 310.4,214 403.2,160.8 250.2,341.6 414.4,216.1 187.8,320.5 232.5,328.3 486.9,149.6 177.4,318.4 494.2,171.4 468.1,150.7 582.4,275.6 470.6,181.3 384.4,134.8 153.8,291.6 316.9,215.9 149.4,293.6 474,156.6 353.4,215 415.3,214.4 213,308.3 377.7,138.9 543,204.7 347,224.5 459.2,189.2 238.7,332.5 372.7,149.2 202.1,316.6 562.2,236.1 137.9,271.7 360.1,181.6 380.4,138.6 452.5,155.4 161.5,287.4 283.5,267.3 473.8,155.8 518.3,146.2 481.9,148.5 120.4,247.8 142.3,282.2 583.2,284.3 366.4,158 236.3,347 568.8,236.6 254.9,336 620.1,402.8 330.4,216.2 522.1,167.5 570.5,249.3 503.8,137.7 208,312.2 557.3,251.4 406.7,162.8 279.3,288.1 268.8,323.8 320.9,213.6 289.8,236.5 310.4,215.3 157.2,293.8 581.8,264.4 188.2,324.2 375.7,145 573.6,252.4 350.4,224.1 182.7,335.5 567.1,245.1 535.6,164.3 190.9,339.7 299.3,214.4 574.1,254.4 177,324.9 568.2,237.8 474.8,150 496,149.5 380.6,138.8 154.6,284.2 569.8,244.2 333.7,231.1 438,228.6 303.9,212 176.7,313.7 175.9,311.3 424.3,213.5 422.6,207.5 350.8,216.1 167.6,314.6 123.5,242.4 142.6,281.9 167.9,302 273.6,309 351.4,221.9 234.6,342.9 303.8,207.9 365.3,160.2 600.6,382.7 562,249.5 169.1,292.1 220.3,315.7 235.5,348.8 452.7,200.6 340.2,241.8 577.4,256.5 535.7,166.7 120.4,245.8 544.8,212.1 440.4,226.2 245.9,334.2 209.4,310.6 487.2,176 559.1,222.4 211.4,309.7 379.7,145.7 567.5,238.9 341.6,237.1 337.1,236.9 265.1,332.8 343,235.1 490.7,162.5 608.2,404.7 481,199.9 349.1,228.2 250.8,340.3 438.6,229 241.4,334.1 329.9,213.3 284.4,265.3 466.2,166.5 396.6,189.2 459.4,181.5 182.7,331.8 389.6,144.3 268.9,324 184.8,320.4 497.2,161.9 261.8,331.4 537.4,173.3 335,236 583.5,283.4 457.8,199.8 178.8,317.6 214.7,300 235.2,354.1 337.9,234.9 555.3,241.3 606.5,407.2 203.5,306.1 472.1,157.5 419.4,212.3 564.1,235.3 265.4,328.2 195.6,316.5 181.4,325.6 582.6,274.4 203.6,308.8 167.8,299 212,307.5 358.3,204.9 582.2,273.3 572.2,257.9 441.3,225.4 313.8,206.1 547.7,209 421,202.4 492.1,158.4 454.1,196.3 318.3,216.4 287.5,241.2 447.5,225.1 408,165.6 231,329.2 398.2,171.7 484.2,141.1 123.8,244.8 224.7,324 533.9,175.8 405.8,169.2 509.6,150.2 197.5,330.7 607.8,398.7 127.2,260.7 366.8,161.3 367.6,160.5 166.9,296.6 276.3,298 518.3,149.4 401,157.1 279.9,289.6 325.1,212 284.3,263.3 535,165.5 529.3,156.4 514.2,153.1 504.9,137.4 544.3,206 275.5,306.2 198.3,331.8 519,153.6 318.7,215 607.9,403.5 201.1,325.5 249.1,357.6 603,393 181.9,328.2 546.4,203.9 447.9,228 148.2,300.7 458.2,179.5 576.5,264 347.4,219.8 453,163 465.2,175.2 138,274.7 385.8,136.7 146.9,300.2 599.5,384 349.5,227.1 419.5,203.9 422,199.7 449.1,208.4 602.3,394.8 270.8,320.2 131,274.5 384,134.3 247.8,340.8 594.8,355.1 536.6,180.1 610.9,395.2 132.8,287.1 542.8,201.4 265.5,335.3 288.8,235.1 490.2,202.7 307,212.9 180.4,322.5 587.3,301.1 287.4,244.7 128.6,266.8 509.6,146.4 200.2,330.6 293.6,224.3 312.2,204.5 290.6,226.5 188.7,342.8 409.2,169.2 448.7,190.9 449.2,172.2 235.1,347.8 256.2,352.8 565,239.6 247.9,342 584.9,287.5 564.7,237.2 477.1,147.3 360.2,181.6 450.7,213.4 331,197.7 318.1,213.6 230.6,324.5 430.8,227 557.8,241.3 411.9,191 522.2,167.1 529.7,162.1 387.2,136.7 489.9,151 140,274.4 175.1,305.5 207.5,310.1 165.2,304.2 404.5,165.5 353.9,214 449.9,215.5 234.8,348.7 598.8,378.7 538.6,182.9 526.1,157 608.4,403.1 352.7,221.4 136.4,262.6 547.8,210.3 461,202.1 467.7,152.1 153,288.1 473.3,177.5 482.5,139.2 163.3,292.6 210.5,310.2 311,210.2 344.9,224.3 573.8,265.3 361.3,186.9 281.7,272.7 437.6,221.8 596.3,363.4 550.2,223.3 324.7,212.9 332.7,229.7 250.4,340.5 257.4,327.8 596.9,369.4 434.8,218.3 608.6,398.2 162.5,299.4 387.6,133.5 509,157.7 331.1,218.7 218.2,307.3 256.2,333.6 389.5,142.3 591.6,325.7 167.3,310.4 539.6,180.5 146.5,294.7 354.1,213 373.7,148.4 211.1,305.4 193.3,336.2 557.6,250.3 551.9,229.9 406.9,164.7 255.4,335 146.2,289.3 495.7,154.9 587.7,300.5 494.2,169.2 323.9,208 429,209.2 415.1,217.7 373.3,152 405.1,165.9 523.2,163.7 258.8,324.9 610.2,395 320.4,197.8 476.8,146.5 343.7,229.1 603.1,397.1 464.3,191.3 285.1,258.6 520.4,172 445.2,225.1 388.7,138.6 269.1,324.3 149.8,293.4 369.2,161.4 176.3,309.4 402.8,159.4 426.5,211.9 177.3,317.8 512.2,162.2 499,151.9 262.8,330.9 414.8,215 335.1,237.7 524.1,164.9 272.1,315.9 423.6,218.4 364,167.7 210.5,310.6 383.3,134.4 426.3,212.7 414.3,213.4 443.9,226.8 457.6,173.5 161,289 434,219.1 224.6,322.9 339.3,224.2 478.9,157.5 290.8,229.6 176.1,317.6 416.7,212.2 450.6,187.1 119,249.1 148.7,305.1 487.3,146.7 229.1,326.6 551.3,218.9 178.2,319.7 532,175.7 559.4,251.4 424.4,213.9 116.5,246.5 552.5,223 455.4,192.4 167.6,303.1 132.3,295.6 314.7,210.4 545.2,207.5 514.3,149.3 618.8,411.1 162.2,292.7 241.7,348.4 355.7,209.4 165.8,324.5 147.1,299.3 247.3,341.6 285.5,252.3 442.5,225.4 327.1,208 139,271.4 155.8,293.8 375.6,143.2 373.5,147.3 266.5,333.5 346,225.5 382.6,137.6 165.4,310.6 221.1,311.4 437.4,226.2 122,247.6 614,403.6 153.9,293.9 162.7,299.2 286.6,247.8 267.3,328.8 287.6,244.1 317.1,197.5 144.9,279.1 490.8,176.3 342.5,231.7 145.4,287 486.2,148.2 329.8,212.8 281.8,273 200.5,328.8 546.9,211.7 259.5,329.8 491.4,157 343.7,229.5 116,241.3 386.2,129.1 604,404.9 215.6,304 185.1,313.8 523.9,164.4 143.7,278.2 288.1,240.5 221.4,319.2 447.1,225.1 500,142.4 525.3,156.1 416.5,218.5 300.1,221.1 527.2,168.1 574.4,261.8 199,347.7 415.1,213.7 298.4,224.3 468.7,147.2 562.8,232.1 590.6,313.5 255.6,337 462.3,188.2 367.7,158 115.2,245.2 388.4,134.8 511.4,165.8 223.6,315.8 513.2,149.8 503.2,137.7 242.3,336.3 169.9,300.4 345.7,223.1 225.3,319.6 133.9,274.3 238.3,336 190.7,333.8 529.4,199.2 554.1,226 543.7,207.5 296.4,224.8 191.3,332.9 278.2,293.2 339,238.5 619.3,403.8 173,299.7 461.8,164.9 375.7,146 131.2,279.7 270.6,324.9 265.7,334 226.2,328.5 296.1,225.6 256.9,333.6 445.8,225 562.3,236.2 604.4,404.1 139.7,281 487.5,149.7 403,159.5 146.6,295.7 210.9,306.7 597.5,370.3 451.2,208.4 353.6,220.6 440.6,233 563.2,236.4 505.1,146 547.1,216.3 166.8,299.6 409.7,172.7 214.4,303.5 155.4,292.7 403,159.5 328.9,204.7 592.7,334.7 377.1,138.4 199.8,341.8 444.7,231.9 306,210.1 296.8,224.8 451.9,191.5 405.4,165.6 352.3,217.2 395.4,182.5 466.9,164.3 191.4,328 457.6,196.2 419.2,210.7 614.5,409 412.4,198.4 232.8,330.6 372.5,152.6 376.7,136.2 222.1,315.8 166,302.4 206.6,313.3 159.9,294.4 378.8,145.9 572.5,259.3 172,298.4 202.9,308.2 342.5,230 307.5,215.2 420.4,198.2 359,197.1 141.1,281.3 166.8,298.6 329.4,211.1 134.7,271.9 571.1,256.2 401.1,157.5 274.1,309.1 150.3,290 239,338.2 430.5,221 128.3,258.8 299.6,222.3 354.8,206.8 131.1,273.3 424,209.6 175.4,305.2 145.7,287.3 282,274.9 156.6,300.3 252.1,347.6 358.5,203.3 465.5,171.8 502.8,151.5 217.8,306.9 485.5,164.2 593.5,341.5 583.4,282.4 486.7,142.8 473.8,156.7 440.1,229.8 474.6,157.5 606.9,400.6 538.1,180.2 150.1,290.6 531.4,163.8 519.9,161.2 418.2,211.7 371.1,148.5 320.1,208.6 115.1,243.8 545.5,198 586.7,296.7 492.7,150.1 117.5,243.9 403.4,159.3 408.6,168.5 474.1,155.5 127,261 217.1,301.8 189.1,334.3 332.2,226 224.3,319.3 500.7,154.5 465.7,198.3 469.2,155.2 378.5,144.2 458.7,165.5 319.9,212.8 228.4,329.2 193.3,332.7 194.7,319 427.5,203.6 597.1,371.2 350.4,224.4 601.9,391 365.5,157 241.5,331.2 577,266 165.3,317.4 231.2,328.7 170.3,296.1 272.4,313.2 271.8,314.3 305.6,208.7 303.3,211.9 180.1,316 291.5,221.9 604.2,404.5 188.9,331 225,325.7 497.1,163.5 596.8,366.1 412.3,191.6 530.9,159.7 505.8,139.3 254.3,332.5 117.7,242.9 196.8,324.6 504.4,136.1 588.4,301.5 388.2,127.7 263.3,328.5 214.4,300.1 522.8,173.8 539.5,180.8 532.5,170.5 228.4,329.6 315.3,210.1 534.9,170.4 206.5,311.6 206.7,314.9 585.1,290.1 548.8,218.5 293.3,224.7 413.5,201.4 595.8,361.5 174.6,301.9 241.9,339 448.1,220 297.5,222.8 168.1,299.3 135.9,274 299.7,217.7 263.6,330.1 542.3,201.4 306.2,213.2 195,321.3 567.7,238.5 325.4,209.9 579.9,251.7 117.3,247.2 258.9,327.5 177.8,314 392.6,157.3 153,292.1 217.1,304.9 379,139.9 293.7,230.7 519.1,154.7 188.7,340 178.7,321.3 338.8,237.7 564.4,237 489.4,156 486.7,146.5 603.3,403.3 273,315.9 370.6,158.5 302.5,210.9 351.6,216 309.2,218.3 249.4,346.9 533.5,172.5 126.3,260 287.9,243.1 282.5,277.3 278.9,289.8 530.2,155.1 426.5,211.2 576.6,269.4 163.5,300.6 567.2,241 346.7,229.1 420.7,197.9 424.8,213.9 437.8,223.4 375.1,148.1 403.3,160 417.9,208.4 226.8,330.7 355.1,199.1 594.2,355.4 357.8,206.5 577.2,267.8 299.7,220.5 605.2,407.3 614.4,408.4 333.9,234.3 460.2,154 258.3,329.7 310,215.2 544.1,208.9 225.6,320.6 450.7,197.6 540,187.4 234.2,345.9 404.7,166.6 461.7,167.8 563.1,237.5 578.5,255.1 561.4,252.8 381.4,145.3 260.7,327.3 524.9,172.1 338.2,221.5 309.9,216.2 548.1,215.3 358.6,201.1 445.7,225.3 241.3,333.4 253.6,334.4 152,293 155.2,287.9 476.1,146.8 605,405.8 468.9,144.5 415.1,210.3 505.5,142.9 397.7,177.6 401.6,165.1 423.6,209.3 240.4,335.6 403.6,156.8 524,164 173.6,304.9 249.5,345.1 613.8,399.9 504.3,145.6 569.6,239.9 363.2,171.7 476.5,141.4 230.7,325.5 237.2,336.2 482.4,168.8 168.8,292.3 360.8,182.9 199.1,340.1 443.1,230.7 275.9,301.3 395.8,187.5 491,159.8 390.7,147.5 152,290.8 192.4,329.3 553.7,228.8 616.1,424.4 488.7,148.7 217.7,307.5 194.4,319.7 560.4,222 482.4,192.3 115.7,250.1 342.8,227.4 203.2,306.3 332,221.6 476.2,144.1 503.9,137.9 279.1,288 252.8,341.7 545.9,202.7 184.2,323.8 151.8,290.1 164.9,309.6 615.6,419.7 499.1,151.6 508.9,144 215.5,307.6 569.1,236.7 492.7,155.4 442.6,225.5 172.5,300.6 165.5,313.4 360.5,186.5 200.5,330.8 605.9,403.6 459,190.1 459.3,190.7 594,348.5 522,181.8 412.5,195.8 184.2,320.7 316.6,216 227.4,327.6 217.4,305.7 528.4,161 352.1,220.9 201.5,319.3 458.8,198.2 195.9,318.9 390.5,145.1 476.2,189.9 478.7,152.6 543.8,204.3 315.9,210.3 169.4,297.6 490,151.9 564.9,237.6 518,147.4 282.9,264.5 240.6,335.1 404.1,158.1 473.9,156 588.1,300.7 482.6,139.5 524.2,198.5 496.7,164 577.2,267.1 277,286.6 549.5,218 247.2,334.4 345.9,227.1 343,234.5 228.9,325.9 457.4,184.7 366.7,160 305.8,207.6 297.7,218.1 511.1,150.9 592.8,335.8 180.4,325.4 123.4,248.8 447.9,219.7 140.8,285.4 407.4,164.8 450.5,214.1 500.6,147.9 613.4,399.8 398.7,164.9 402.6,163.7 359.9,183.8 610.9,396.7 519.5,172.2 563.8,239.4 308.5,220.4 260,327.8 563.3,234 300.2,219.7 529,153.3 193.7,346.7 548.9,217.2 331.7,220 593.2,337.3 400.7,159 203.5,314.5 418.5,209.3 487,147.2 354.9,217.1 570.6,253.3 541.7,186 126.7,258.1 158.1,288.4 180.3,319.2 378.1,142 265.1,327.4 361.5,181.5 506.9,154.9 397.7,170.2 290.2,234.3 568.5,245.4 584.3,282.3 368.6,161.2 271.3,321.3 211.6,304.5 163.2,294.1 148.3,299.9 204.9,304.7 284.3,263.4 493.4,201 146.8,297.6 194.3,323.7 429.4,227.9 306.7,202.8 425.6,217.5 443.7,229.3 206.9,311.2 277.2,295.3 323.5,208.3 463,192.5 333,228.8 478.4,144.8 223.9,322.7 157.6,291.9 307.1,197.9 186.5,317.5 407,163.7 439.3,228.4 181.3,325.5 141.2,280.1 394.5,177.6 362.4,183.9 182.5,324.6 305,211.2 318,197.4 356,207.7 300.3,215.9 392.1,154.8 339.9,233.4 331.7,222.8 376.3,143.7 201.8,321.7 395.5,183.6 343.4,214.6 131.7,282 495.7,159.9 205.2,311.6 235.5,349.5 291.8,231.9 433.6,226.7 148.1,304.2 372.6,152.1 298.2,221.9 595.4,357.8 496.6,161 552.9,222 143.8,276.8 211.6,310.5 512.9,166.7 394.7,178.8 172.9,296.7 297.4,220.3 350.6,217.6 162.9,293.1 524,171.1 443.6,235.3 383.2,135.4 187.1,325.3 383.8,137.8 307.6,216.7 295,221.6 508,158.7 413.9,213.4 135.5,268.4 516.7,152.3 262.2,325.2 387.2,130.2 128.9,270.1 220.8,316.7 377.5,140.6 219.5,309.1 450.9,205.5 399.9,164.3 446.9,222.2 288.4,240 373.1,152.5 495.9,154.9 582.5,276.1 584.2,284.5 252.5,344.7 256,341 192.9,330.5 612.5,401.5 377.1,141.4 396.8,188.2 188.7,344.8 482.7,140.4 269.9,326.4 161.8,289.6 319.4,190.4 183.3,322.5 364.1,170.4 300.3,217.2 253.3,335.1 257.1,327.1 254.8,335.3 318.5,216.4 512.4,171.7 229.9,332.1 480,145 166.6,298.4 160.9,293.4 519.8,167.4 373.3,143.6 472.3,145.8 552.2,223.5 416.6,210.8 396.1,188.8 372.1,153.3 309.4,217.3 123,245.8 461.2,193.7 241.3,337.5 498,162 308.9,212 331.2,220.7 447.3,226.1 354.8,203 553.7,229.7 470.1,152.2 515.7,147.4 448.5,216.1 486.5,148.4 330.2,215.3 475.3,155.4 437.6,223.5 480.5,142.6 382.3,144.2 331.9,224.2 601.5,390.2 155,288.6 219.2,306.5 229.8,324.3 327,198.4 244.4,329.8 470.8,148 489.5,185.5 362.8,181.3 526,172.2 403.9,158.2 293.8,229.5 285.8,244 467.5,162.9 147,293.6 526.6,168.6 165.7,328.7 529.8,153.3 209.7,307.1 355.7,214.3 393.9,173 541,191.9 211.6,310.4 388,127.9 404.2,165.1 136,265.5 595.2,357.9 502.1,139 492.4,155.5 179.2,324.3 236.2,347.2 514.6,155.9 341.5,213.3 216.6,304.5 162,291.2 366.1,153 558.1,250.8 416.7,213.7 455.5,194.6 195.7,323.8 460.4,199.5 535.5,167.5 332.4,224.5 172.8,294.7 435.6,230.3 148.7,301.3 552.1,230.1 280.3,281 286.7,246.5 137.4,273.9 316.4,215.3 377.6,139.8 152.7,290.8 229.3,326.5 397,185.8 557,236.9 362.9,180.5 550.6,223 170.4,301.2 447.7,227.5 238.9,332.3 520.2,160.6 605.7,405 223,316.3 489.7,159.8 601.6,391.9 238,336.9 518.9,180.6 448.9,199.5 379.9,147.7 166.2,302.4 493.2,166 392.2,156.9 367.6,161 328.6,203.7 512.2,162.4 363.6,167.8 153.9,290.6 189.2,332.8 300.8,218.7 489.7,156.9 446,227.5 444.7,229.2 592.2,329.8 319.4,209.4 588.6,306.4 589.2,302.5 424.6,211.4 267.1,330.8 381,139.8 586.2,295.2 506.3,147.9 395.7,184.3 425.1,217.6 242.2,345.5 494.5,170.4 198.8,349.8 211.1,310.8 213.3,309 505.5,143.2 329.4,205.7 335.5,229.9 599.8,377.2 620,405.4 120.5,244.4 213.2,305.6 142.6,281.7 588.6,301.9 524.6,166.8 129.4,267.4 293.6,223 418.2,208.6 164,298.2 331.6,222 378.1,143.3 132.6,291.5 484,155.4 521.4,163 177.1,329.1 225.8,330.5 193.3,339 431,225.7 391.7,160.4 614,406.3 575.5,260.3 282.3,276 165.6,311.1 619,412.3 240.2,334.4 362.1,183.2 385,133.2 501.3,153.5 323.1,210.8 349.6,223.8 144.2,281.5 367,161.5 302.7,213.4 286.3,250.5 451.5,185.8 266.7,333.4 404.6,163.3 157.5,293.2 578.1,258.3 390.9,154.3 405.6,167.7 192.8,325.3 589.4,305.2 402.6,164.2 224.5,323 493.4,162.3 527.3,167 278.3,289.4 556,242.9 353.3,215.2 609.5,397.3 409.3,166.6 415.2,217.9 397.7,173.8 312.8,202 425.5,222.5 133,285.9 209.3,304.2 168.4,298.8 571.1,248.7 406.4,167.6 536.9,174.9 246.9,335.5 180.1,319.2 271.2,322.4 501.9,143.8 431.5,226.7 460.1,197.8 362.9,178.4 619.1,413.1 317.4,213.6 264.8,327.4 276.7,287.2 157.8,297.1 248.7,346.2 371.7,155 539.2,180.8 489.8,203.3 384.6,137.3 205.6,306.7 518.8,153.7 259.1,324.9 334.1,237.3 120.9,245.8 447.5,225.3 123.8,251.2 220,311.9 151,289.5 438.2,225.9 313.1,208.9 487.4,155.4 590.5,310 165,307.9 126.8,256 356.4,209.9 292.4,233 125.5,254.7 448.9,154.9 208.7,305.5 265.9,335.1 154.9,286.5 449.4,213.3 168.6,300.3 618.5,410.1 468.5,150.2 305,209.7 341.7,240 171.3,297 455.2,197.9 228.1,326.7 480.8,136.6 160.2,295.6 426,217.6 448.7,180 244.8,328.9 169.7,293.7 448.7,228.5 171.4,298 147.3,307.1 487.3,181.2 323.3,208.4 557.4,248.2 556,243 466.5,154.9 445,230.6 284.6,262.6 507.2,145.1 233.8,337.6 191.6,326.8 226.6,325.3 261.5,332.7 153,288.8 513.4,149.5 419.4,211.7 156.9,300 339.8,221.8 321.1,206 139.2,274.7 179.4,328.3 443.6,234.6 397.3,181.2 123.6,245.3 172.5,300.6 512.1,166.3 465.3,188.4 600.8,387.1 388.9,134.2 223.7,324.9 285.7,254.5 561.2,238.8 532,169 439.6,224.9 395.2,179.6 386.7,137.5 392.7,157.3 169.3,293.3 585.1,291.3 252.3,359.4 580.7,257 230.2,324.4 333.9,233.4 459.5,195.9 146.2,293.1 136.3,263.4 533,179.6 559.1,250.5 357.4,209.6 313.3,207.5 397.9,169.2 450.6,163.6 432.1,225.9 182.3,338 471.5,143.6 196.6,322.8 125.2,256.6 555.1,230.4 416.1,215.7 399.9,157.3 551.4,224 427.5,204.9 248.5,345.6 606.5,402.4 302.3,215.4 285.2,257.5 492.1,153.8 572.3,255.2 489.3,151.3 249.9,339.6 424.3,215.4 142.6,282.4 532.5,166.2 526.3,162.8 454.6,199.3 312.5,207.1 240.3,336.5 549.7,215.4 303.9,209.1 242.5,335.6 289.1,236.2 251.7,346.2 203.2,308.9 245.5,331.5 343.7,229.1 579.8,252.4 398.7,171.2 127,257.9 612,402.2 198.8,332.4 274.4,309.2 252.2,362.8 237,336.3 506.2,143.1 471.2,139.8 220.3,310.1 165.3,322 444.3,229.6 490.3,154 248,338.3 356.5,212.8 507,151.4 597.6,373.6 281.2,274.5 578.7,253.8 566.1,240.8 121.6,249.2 152.5,290.3 408.7,171 116,241.2 436.8,226.5 132.7,295.6 304.1,211.7 379.3,145.8 533.5,175.4 308.1,217.6 386,129.5 552.9,225.5 380.9,139.2 232,332.1 152,287.9 159.4,299.9 476.6,141.1 464.6,174.4 457.3,178.4 328.3,204.9 164.6,305.6 307.8,212.7 423.2,217.3 490.9,159.7 504.4,136.1 219,307.1 351.2,219 155.9,291.9 236.1,348.4 466.7,187.9 246.7,337.2 302.7,212.9 540,191.1 422.9,209.1 499.7,153 270.3,320.5 230.6,328.8 124.7,255.4 526.6,163.3 516.8,152.1 301.8,212.1 432.4,223.5 493.7,165.6 214.2,299.2 185.1,317.8 274,310.4 268.8,323.6 597.6,373.7 124.5,253.1 243,340.5 179.7,315.4 435.2,219.7 260.5,332.5 453.7,205.5 129.4,269.1 500.7,143.5 129.3,269 507.6,139.7 546.1,198.5 169.9,294.4 141.7,275.9 595.4,358 406,165.2 441.5,225.2 148.6,302 280.1,288.9 540.1,186.5 193.4,335.1 163.9,300.3 117.8,243.5 234.4,342.3 450,210.6 231.2,326 564.6,235.8 305.8,206.5 292.9,223.5 602.3,394 286.8,248 153.4,289.7 386.6,137.3 165.1,308.1 333.9,232.6 296.8,225.1 255.3,333.1 410.6,175.4 128.8,265.1 145.3,281.7 455.4,183.3 174.3,305.8 447.3,223.6 116.9,251.3 410.9,174.8 296.2,222 454.5,200.6 332.3,223.6 405.8,164.9 499.2,155.2 456.6,188.2 296.3,219.4 495.2,157.9 583.1,280.5 249.2,349.9 464.4,174.7 121.9,250.6 339.3,226.6 126.9,258.8 430.1,223.1 476.7,153.1 293.8,230.9 181,325.7 248.8,354.1 466.8,160.2 477.7,141.7 556.2,243.5 501.5,156.8 454.5,190.1 485.8,186.6 602,393.1 381.8,143.3 188,320.9 340.2,238.3 280.9,278.1 132.1,286.5 224.3,323.7 189.6,329.4 378.5,144.6 480.5,140.1 338.6,233.9 260.7,331.8 523.2,162.5 558.6,252 118.3,246.8 294.4,227 185.3,311.6 410.6,168.8 559.1,252.3 249.1,352.5 454.8,200.6 198.2,330.8 198.9,333.4 351.8,215.1 264.7,327.2 147.8,330.7 526.2,158.3 169,293.1 280.7,282.3 578.8,257.8 306.6,213.2 374.1,143.8 463.1,170.6 394.2,172.9 552.8,222.2 304.5,211.1 613.4,399.5 528,190.3 518.8,156 501.6,157.9 224.8,319.4 193.4,330 319.6,209.8 334.2,236.3 450.5,159.4 394.3,174.8 538.5,170.2 351.3,217.3 469.9,154 370,160.6 248.6,344.9 283.8,267.1 345.2,222.4 340.5,241.7 255.9,347.5 158.2,291.8 590.9,316 278.9,293.1 195.3,313.7 289.3,237.2 484.6,144.3 573.9,265.8 567.5,240.5 303.6,214.2 474.4,155.9 509.3,147.9 165.2,306.2 163.3,292.2 463.2,192.3 334.6,238.2 580.4,257.5 535.7,165.9 523.7,164 401.4,157.6 431.4,226.2 124.8,255.8 478,143.1 410.8,174.8 414.7,211.8 483.2,146.6 464.7,176.3 204.1,305.1 463.8,173.9 304.8,206.2 420.1,200.9 346.3,227.4 118.7,243.4 606.1,403.6 368.3,158.6 429.5,211.5 579,252.3 535.9,166.2 408.4,169.1 451.4,197.8 430,217.9 322.1,211.9 608.3,399.8 259.7,329.6 292.5,233.3 276.5,299.8 549.5,221.6 446.3,222.7 520.8,165.7 329.7,211.6 140.4,283 411.5,182.4 354.7,218.6 257.4,331.4 427.9,202.1 323.6,210.9 503.1,144.1 226.7,330.6 308.6,216.5 208.1,310.1 457.7,201.8 209.1,307.4 483.1,146.8 349.4,225.9 490.1,155.3 167.6,298.9 340.3,220.3 528.7,161.3 341.2,238 256.5,332 320.6,215.1 179.4,322.5 504.9,137.7 255.8,337.8 217.5,302.3 320.4,214.5 484.2,146 387.2,135 453.2,202.6 523.1,166.4 442.3,236.4 147.7,332.3 232,331.6 290,234.3 306.6,214.4 550.2,217 152.3,293.4 142.6,280.8 555.1,239.4 190.2,333.4 462.7,195.9 482.5,140.1 249.1,346.5 279.4,290.6 136.2,266.3 282.3,275.5 147.7,309 305.9,210.3 585.6,290.1 191.1,325.1 407.4,165 444.6,227.8 326.4,206.5 494.8,153.3 612.1,399.3 619.9,405.9 545.2,206.1 449.7,213.5 298.9,210.1 299.7,218.9 434.7,217.6 445.2,226.6 337.2,235.9 116.5,242.6 266.9,334.7 207.8,313.9 252.2,353.8 263.8,331.8 537.5,171.9 520,167.7 183.2,324.6 193.8,328.9 337.8,236.4 222.5,314.5 463.8,177.4 616.7,423.4 193.7,333.2 614.8,409.7 206.1,310.6 398,169 452.9,203.9 137.8,270.4 496.3,163.8 162.3,297.4 256.3,336.3 220.5,315.4 177.7,316.4 430.4,225.3 568.8,240.8 604.7,403.3 435.6,228.4 411.6,185.9 121.4,244.5 150.8,290 321.1,208.1 128,262.4 490.3,155.9 448.2,213.4 614.9,409.7 478.6,153.1 134.8,269.8 232.6,327.2 303.1,216 145.7,285.6 264,332.9 175.7,308.7 440.6,227.7 539.8,184.8 465.9,173.2 468,148.9 470.4,153.4 355.4,212.6 341.9,236.7 525.4,175 218.2,306.4 396.7,190.3 327.7,207.4 469.8,153.4 480.8,139.5 154.6,286.1 263.1,328.8 411.5,187.6 463,190.6 369.5,159.6 329.2,204.9 319.8,215.9 266.8,335.1 169.3,298.1 309.4,210.1 357.1,213 594.5,352.5 494.7,168.9 410,168.4 377.5,137.5 343.7,230.5 600,377.8 473.2,144.6 474.3,152.5 277.7,295.5 240.3,334.8 428.2,204.2 350.9,218.4 215.9,308.6 141.3,277.8 213.8,304.8 607.1,406.9 376.8,141 227.8,329.2 553,220.9 298.4,224.9 548,210.6 145.2,279.8 597.3,369 590.4,311.1 347.9,227 558.3,245.2 578.3,259.1 154.4,283.6 212.4,306.8 458.9,192.9 261.6,332.8 466,199.8 367.9,158 616.4,425.7 415.8,211.6 182.4,322.9 305.2,207 431.5,224.8 192.2,333.1 250,343 189.1,328.7 442.9,234.4 368.1,154.9 167.2,295.1 461,196 487.7,146 505.1,148.4 174.6,303.5 360.6,183.1 160.6,291.2 193.1,329.1 340.5,237.2 238.4,334.9 168.7,297.9 609.9,398.4 449.5,182.9 372.5,152.6 536.1,171.2 189.2,336.8 587.3,298.1 225.5,320.5 394.8,179.2 561.1,237.4 323.6,207.4 394.4,176.3 617.1,424.6 233.1,338.4 355.4,215.5 524.8,169 278.9,290.8 443.1,234.1 505.6,142 435.4,231.5 554.2,228 204.8,305.5 407.5,165.1 551.9,225.4 574.6,262.7 618.1,417.7 256.8,327.8 591.5,320.8 434.1,220 251.8,350.5 581.3,257.5 610.6,399.5 557.6,214.9 138,276.4 181.4,326.4 178.3,315.9 362,180.5 285.9,244.6 554.5,234.6 287.3,241.7 267.4,327.5 584.3,284.9 251.9,361.1 197,323.2 422.7,209.9 231.5,330.4 614.8,411.4 190,335.7 289.7,238.3 155.4,292.8 564,233.2 231.6,330 213.9,299.5 451.6,212.1 406.1,165 177.9,316.5 268.1,330 171,299.2 177.6,314.2 468.5,146.1 534.3,176.9 414.8,211.7 121.8,249.1 433.4,226.4 284.7,259.9 590.9,317.1 382.1,144.1 281.7,272.6 138.9,276.6 574.6,269.3 516.6,141.9 356.8,215.3 579.7,255.5 602.6,394 251.8,352.3 540.6,182.1 394.9,179.9 492.2,154.8 338.5,232.8 171.5,297.3 552.7,221.5 383.4,143.5 357.8,206.3 577.7,261.4 546.7,203.6 115.7,243.4 135.4,272.4 509.8,150.7 212,309.5 471.8,147.5 180.6,317.6 329.2,206.1 325.7,204.5 587.6,296.9 512.7,169.5 363.6,167.9 481.3,170.9 509.9,148 265.2,342.1 171.7,305.5 397,186.8 118.8,245.3 437.2,234.5 596.2,364.1 409.2,169.3 284.7,262.2 587.5,299.3 241.7,337 342,236.5 323.1,210.8 242.8,339.3 491.1,191.1 507.1,153.9 123.1,247.2 404.6,164.4 140.5,284.3 431.9,223.8 176.7,317.7 215.7,304.9 161.3,292 159.6,291 461,197.1 298.8,212.6 168.9,292.7 433.8,223.1 394.6,176.7 558.5,247.5 436.4,229.1 556.9,245 563.6,231.2 357,214.7 328.6,209.2 542.2,205.9 546,204.6 322,212.1 244.4,329.7 484.6,144.6 570,241.4 138.7,275.6 160.1,297.4 207.3,309.3 268.4,329.1 186.9,315.7 499.6,149.8 314.5,208.2 242.2,341.4 364.8,164.4 387.3,135.5 221.2,311.1 185.6,316.5 384.7,140.9 127.8,259.3 448.8,222.4 234.9,352.8 420.1,201.4 147.6,320.1 316.5,215.9 354.5,219 274,308.5 451,170.9 418.3,209.7 605,406.1 566.4,241.2 174.2,304.5 508.2,177.1 220.9,316.9 458.4,183.3 184.6,318.7 515.2,154.8 467,186.3 315.8,212.6 587.4,302.2 243.2,334.9 436.3,225.1 518.8,149 608.3,403.6 361.8,187 320.3,212.7 401.3,158.6 134.4,273.8 513.9,155.7 189.1,333.3 196.5,323 454.9,198.9 341,234.5 197.5,327.2 206.5,309.3 428.5,206 421.2,201.7 616.3,423.3 540.9,191.5 521.9,174.7 275,306.1 435.1,219 591.2,315.1 271.7,315.1 546.4,196.7 592.7,335.1 207.6,314.8 495.5,158 571.8,257.3 167.3,306.4 508,147.5 502.2,145.1 143.7,278 157,300.6 572.5,258.4 358.2,206.5 355.7,209.1 350.6,219.2 259.1,326.8 213.3,308.7 250.8,342.6 447,233.2 174.9,300.8 260.4,331 202.3,315.2 436,222.6 118.1,243.3 599.3,377.8 203.6,311.5 128.8,270.8 522.8,164.3 499.8,148.2 337,236.2 434.3,221.4 358.6,201.7 286.3,249.7 543.5,201.5 541.3,198.7 160,294.8 491.1,200.3 251.9,346.5 423.1,214.9 569.4,243.4 456,193.4 165.7,310.9 448.4,182.2 534.1,175.3 526.4,192.9 210.6,310 251.8,365.1 336.6,233.5 380.2,144.8 480.1,138.2 589,303.4 456.2,181.4 431.2,225.2 466.9,162.3 469.3,155.5 411.5,190.1 193.2,348.1 424.9,217.4 493,153 332.5,229.5 396.3,192.9 599.6,375.8 514.8,147.2 168.2,295.3 307.2,212.4 594.8,355.5 275.7,306.3 501.1,160.2 351.7,215.8 340.8,241.6 118.6,239.6 580.6,259.8 363.6,167.1 455.6,178.9 565.3,241.2 179.5,317.2 495.9,155.3 161.3,286.8 263.4,330.8 412.9,200.8 304.7,208.1 304.6,211.3 326.7,207.2 423.8,213.5 242,349.8 589.5,306 246.2,338 305.1,211.4 571.3,249.9 321.6,208.1 147.7,324.8 516.3,150.1 537.6,182.9 504,140.3 294.1,228.8 457.4,185.6 344.3,220.3 450.3,210.3 494.8,170.1 481.7,151.1 133,294.9 481,150.5 480.2,195.2 292.7,228.5 367.4,162.6 580.1,250.5 468.9,146.2 339.1,239.1 318,215.2 548,215.4 132.8,289.7 530,162.8 325.8,207.3 575.9,266.2 283.5,268 199.2,340.1 122.3,249.7 601.4,389 441,230.5 410.8,174.9 402.3,163.1 617.4,419.8 147.5,309.4 477.6,142.2 354.4,218.9 576.4,265.5 269.2,322.3 282.7,267.8 419.7,201.4 591.2,319.8 435.9,224.2 427.8,199.9 573.1,265.4 244.7,335.4 441.6,228.2 503.8,136.5 251.4,346 334.3,238.2 618.3,412.7 452.3,197.8 368.3,159.7 252.4,344.1 306.3,212.4 618,414.3 193,326.8 286.9,243.9 532.7,173.9 210.8,310 398.4,169.6 335.9,232.3 555.5,246.3 480.7,144 451,212.5 155.9,292.7 346.1,226.4 495.4,184.9 120.9,245.8 513.4,149.2 458.7,197.6 115.5,249.1 465.5,171.8 199.7,339.9 472.9,148.4 287.8,244.1 542.4,204.9 373.4,144.7 131.2,282.9 343.2,230.7 116.7,248.8 536.8,173.3 500.3,181.5 531.9,178.7 426.8,209 130.2,268.4 479.9,147.4 316,207.5 612.5,399.2 183.5,326.9 188.8,339 464.4,161.8 239.4,329.7 249.4,345.2 441.4,225.2 274.7,308.7 519.5,158.9 227.9,327.9 424,214.6 449.2,163.8 440.8,232.8 353,216.2 295.3,222.2 263,328.1 320.9,206.3 470.8,141.9 119.7,248.4 406.2,166.5 453.5,197.6 121.6,250.5 311.5,211.6 561.6,251.3 496.7,158.5 565.5,240.1 481.1,143.6 579.8,254.9 165.6,312.3 166.1,302.5 413.8,203.9 129.6,273 365.7,153.7 462,191.5 291.5,224.4 391.3,155.2 242,344 216.3,310.2 168.2,294.2 399.8,157.8 179.9,318.8 163.2,296.3 368.6,162.1 436.3,226.4 209.1,308.5 244,338.1 390,144.3 472.1,147.8 395.8,186.4 147.8,326.3 607.4,406.1 262.2,327.3 469.8,147.8 323.7,207.4 311.8,203.3 409.6,166.8 454.2,187.8 231.5,332 179.8,316.6 351.1,218.8 396.4,191.9 162.9,291.9 530.3,155.9 491,185.3 553.9,225 586.7,296.3 392.7,160.2 346,228.7 562.1,247.7 517,152.5 506.6,147.2 174,299.3 340.4,239.4 140.2,275.6 570.7,256.3 325,206.7 289.9,236.5 249.1,344.8 502.4,142.5 249,355.7 170.4,302.9 593.6,337.7 156.3,288 429.7,231 378.4,146.3 265.3,338.4 120.6,246.8 143.9,278.6 283.8,266.6 225.6,324.3 159.1,290.3 411.1,172.8 615,415.9 383.6,138.2 507.9,144.3 436,228.2 132.9,288.8 279.3,290.9 139.6,273.5 517.4,152.9 464.8,169.6 323.1,210.3 132,281.3 590,310.8 485.8,145.8 345.6,225.1 554.7,236.2 186.6,320.5 497.9,153.5 576,266.9 382,143.1 412.6,202.4 563.1,235 189.7,326.3 566.2,242.3 445.4,228.4 157.2,296.6 257,331.9 246.1,335.7 225.6,324.2 134.5,273.4 525.8,173.3 275.4,307 519.2,158.5 423.2,213.9 587,297.4 556.5,240.5 462.7,188.7 220.5,315.6 334.7,234.2 222.4,314.1 358.1,203.3 476.6,143.1 249.7,347.5 423,212 410.1,165.6 370.2,161 584.5,285.8 484.8,144 425.2,218.3 594.1,351.5 147.7,312.5 504.6,136.8 201.8,319.9 600.2,383.5 357.4,212.4 498.6,150.4 469.1,145.3 478.3,144.3 243,336.3 292.1,229.1 245.1,329.5 227.9,328.9 507.3,144.5 315.3,211.2 603.8,403.8 328.9,204.4 585.9,290.7 619.4,412.8 508.7,156.1 270,325.4 349.9,224.1 522.4,173.3 134.2,276.2 400.9,160.2 475.5,148 169.2,292.1 430.2,222.7 536.3,171.2 483.3,152 453.7,199.1 348.7,229.7 232.1,334.9 222.7,316.8 445.8,226.2 549.7,215.4 288.4,238.7 236.6,344.8 277.5,295.5 528.8,161.6 324,208.6 283.5,267 214,299.8 153.7,291.4 179.4,323.5 611.6,400.4 616,423.3 250.2,345.9 388.9,138.6 539.4,172.7 464.5,167.8 142,281.3 161.7,288.1 428.5,205.2 200.8,330.9 613,402.1 176.8,322.5 488,150.2 273.8,310.1 179.2,324.6 329.5,209 434.1,222.3 457.8,200.2 194.5,318.9 301.4,214.8 563.6,238.7 256.3,345.7 562.8,238.9 288.8,235.9 324.7,212.3 502.6,151.7 597.7,369.8 179,326.6 121.2,244.6 217.9,306.9 454.2,187.6 370.2,161.5 382.2,142.4 330.9,216.1 310.7,209.8 211.6,304.9 455,157 534.8,166.4 539.2,180.6 366.4,158.3 272.8,314.1 258.6,325 342.7,226.5 304,211.6 318.1,213.3 349.1,228 275.8,304.7 317,213.5 583.6,285.3 237.4,335.2 565.9,235.8 194.7,325.1 416.9,216.2 583.8,285.8 173.3,302.1 229.5,323.9 565.1,238.6 467.2,159 182.3,324.6 315.9,210.5 611.1,401.4 461,193.7 221.4,317.7 585.8,290.1 148.1,305.2 134.2,276.2 481.3,151.3 269.5,323.8 341.3,238.2 467.8,150.6 315.1,207.1 185.9,314.1 144.1,277.5 224.9,319.1 257.2,326.9 456.9,179.7 477.4,140.1 573.3,250.8 281.5,272 279.2,291 140.5,284.8 278.4,289 393.2,166.3 380.1,145.9 521.7,193.6 611.6,400.2 324.5,213.6 216.5,307.5 573.8,264.1 121,248.9 495.6,162.5 536.2,176.3 476.1,143.8 421.6,199.4 605.4,403 544.1,206.9 434.6,220.6 161,287.5 117.3,250.3 213,309.1 434.7,217.7 138.9,273.8 487.2,147.9 614.6,408.3 510.4,153.4 194.4,323.9 516.5,191.9 349,227.6 417.4,208.1 307.1,212 578.6,253.4 182.8,320.7 524.3,167.2 369.9,160.8 261,324.7 236.4,338.5 599.6,380.7 256.3,339.4 357.4,211.9 247.5,342.2 472.3,155.3 216.7,307.4 478.3,144.2 550.3,225.5 499.3,188.9 497.3,163.2 207.2,309.8 419.6,205.7 371.2,148.2 592.5,335.3 119.4,246.8 283,271.3 450.2,214.9 602,394.3 267.5,325.1 177.8,316 566.9,240.5 312.4,211 598.1,374.9 311.9,205.2 130.6,277.5 320.8,213.3 513.8,157.5 310,215.9 514.3,171.3 558.3,223.2 369.1,160.5 574.2,258.5 506.6,150.8 195.3,312.7 539.8,181.3 393.2,167.7 433.6,226.6 177.2,315 470.5,154 569.4,240.8 353.6,215.4 480.8,144.4 609.6,401 118.6,246.1 596.4,365 437.9,225.6 133.9,277.4 339.9,240.8 255.8,334.3 405.6,162.7 172.8,294.7 473.1,150.8 451,165 326.1,205 602.7,398.6 256.1,333.3 563.6,234 296.9,220.8 255.2,337.7 196.4,317.8 429.7,223.2 481.8,142.4 515.1,147.3 390,147.5 230.2,324.2 278.4,289.7 529.8,162.5 251.5,350 425.4,216 569,236.8 130.7,280.5 238.6,332.3 271.3,318.4 191.3,328.1 119.9,250.9 329.3,208.7 429.9,217.3 536.7,172 205.7,309.9 417.1,208.3 352.5,219.4 548.9,216.2 370.8,158.9 448.6,221.7 316.3,212.1 401.3,156.7 187.6,325.2 407.6,167.2 261.4,332.4 264.4,332.8 343.3,229 400.9,158.3 133.4,285.2 473.5,156.5 132.8,285.9 585.8,295.4 123.7,247.9 383.4,136.9 499.4,179.3 386.7,128.7 250.2,340.1 194.1,328.1 393.5,168 438.5,226.6 177,331.9 345.3,225.5 535.6,166.5 330.6,215.9 386.6,134.1 266,334.2 269.3,323.8 208.3,306.1 272.7,317.6 290.9,231.9 297.2,218.5 514.5,154.2 464.6,172.3 477.1,189.3 244.8,329.4 117.7,244.9 425.4,221.5 561.3,249.1 272.2,319.3 456.6,180.2 556.2,243.3 249,349 612.4,401.2 349.1,227.8 594.8,356 336,237.2 327.5,206.4 239.4,329.7 619.1,407.3 121.1,244.7 131.7,279.1 160.2,297.2 130.8,277 272.1,314.9 347.7,227.6 527.5,166.6 247.2,337.6 482.1,142.1 437.2,236.5 462.6,185.8 271.2,318.6 402.3,161.6 565.2,237.3 585.1,290.9 182.1,325.2 540.1,186.4 227.1,330.8 498.9,144.2 440.8,233.2 120.1,252.9 545.9,206.5 520.5,172 470.8,159.6 255,330.7 147.6,315.1 391.4,157.9 561.8,249.3 177.2,326.7 307.9,212.2 441.8,233.7 314.9,204.3 280.7,281.2 417.9,208.3 159,293.6 356.3,214.6 457.2,178.7 449.9,214.6 306.7,214.8 385.6,138.2 296.6,225.9 489.3,158.6 600.8,390.3 354.3,218.9 296.2,222.2 398.3,170.1 136.1,265 433.3,226.6 525.8,160.3 590.1,312.2 459.2,192.3 508.3,154.8 383.8,137.1 509.6,196.8 543,215.4 593.8,343.2 387.6,131.7 218.5,311.9 493.9,163.1 166.4,305.2 179,322.4 296.5,225.3 345,224.5 604.4,403.9 144.6,282.2 165.6,311.7 312.9,203.9 423,206.9 336.1,236.1 556.1,244.4 245.1,332.8 442.1,234.1 565.7,242.4 461.6,171.2 499.4,150.4 364.2,167.1 515.1,155.7 537.4,172.1 385,138 174.3,301.1 232.7,331.4 241.8,336.4 292.2,231.4 282.3,272.5 371.5,149 475.8,153.4 413.2,199.8 254.8,335.6 151.8,289.8 452.7,200.3 371.7,154.7 392.1,155.9 397.4,177.1 361.8,182.9 303.1,215.1 465.2,192.7 313.5,206.4 259.9,326.7 221.6,318.4 616.6,422.4 264.6,332.7 161.9,289 195.1,313.3 124.4,251.8 218.7,310.8 463.2,182.8 546.5,197.4 426,214.2 195.6,314.2 165.7,331 252.1,367.2 490.1,184.8 580.6,257.8 134.9,268.7 338.8,233 125.2,255.2 618.2,416 381.9,140.7 186,318.4 493,156.4 594.9,356.3 352.4,215.6 418.7,215.3 285.6,244.5 219,305.8 333.4,233.7 248.1,339.7 257.9,334 615.8,422.7 560.8,214.1 322.6,210.3 569.5,243.2 618.7,410.2 328.2,208.1 270.8,322.2 310.3,215.1 371.4,148 393.9,171.9 518,144.6 532.2,167.4 586.4,296 508.5,148.8 554.8,239.2 336.8,236.6 205.5,307.9 382.8,139.1 250.6,340.4 219.8,313.2 194,326.1 465.3,165.9 569.7,238.3 360.4,185.9 237.5,332.5 446.6,221.8 344.4,221 483.4,148.4 175.5,307.7 120.2,250 220.7,317.2 532.2,171.6 133.6,288.7 589.5,306.8 235.2,361 558.7,247.2 468.6,183.7 208.9,304.9 584.2,284.7 510.7,152.7 558,250.6 573.6,253.8 189.3,331 210.5,303.9 165.8,301.1 354.8,196.1 390.2,148.8 383.4,135.6 187.3,327.4 356.2,215.5 475.4,165.9 242.5,334.9 459.8,202 296,224.2 313.3,206.5 333.6,232.7 162.3,299.8 588,300.8 566.5,242.7 384.1,133.8 551.7,222.1 362.5,181.4 617.7,422.4 220.8,316.5 182.2,326.1 231.2,330.5 133.2,283.1 483.9,155.4 477.1,143.9 164.9,304.8 487.7,156.9 246.2,333.3 223.2,315.6 390.6,151.7 201.2,324.1 421.3,200 149.7,294.2 600.7,389.9 517.4,153.8 438.7,226.9 402.5,164.1 596.3,364.6 596.1,361.4 233.7,340.7 388.1,131.6 429.1,209.9 381.3,144.6 463.1,193.4 527.1,162.9 428.3,205.1 167.7,321.1 291.3,222.8 529.3,159.2 139.2,277 514.1,155.2 408.2,172.7 375.2,145.2 279.9,289.7 133.3,286.8 383.2,137.3 462.5,186.5 525.4,156.5 270.3,325.4 296,220.9 297.8,222.4 319.4,211.5 268.3,329.6 445.5,231 608.9,399.3 522.8,165.7 260.2,327.8 122.6,243.9 304.5,211.3 432.2,227.3 126.2,258.4 376.1,144.1 476.7,197.4 434.4,218.8 133.4,286.6 129.5,271.7 619.6,406.5 450.5,215.7 154.2,295.3 506.5,146.1 193.2,344.6 219.8,313.2 325,210.7 274.6,310.1 588,302.4 359.6,186.9 539.1,179 437,233.2 414,211.8 370.8,152.2 618.3,416.5 567.8,242.1 508.6,144 374.4,145.4 227.2,331 463.9,174.7 258.7,328.2 165.8,301.4 490.5,158.3 320.4,214.1 293.2,223.5"/>
<polyline fill="none" stroke="none" marker-start="url(#mg)" marker-mid="url(#mg)" marker-end="url(#mg)" points="345.2,232 324.5,218.1 343.7,234.2 451.5,216.3 369,164.1 235.6,330.2 450.6,219.8 286.3,268.8 389,139.2 182.3,302.3 552.9,246.5 166.7,286.8 491.8,153.2 557.1,258.7 280.7,298.7 275.2,322.9 204.9,300.6 449.9,222.3 344.5,225.5 559,259.1 278.1,307.3 213.7,296.8 339.4,239.2 154.8,276.2 307.4,221.9 499.1,143.7 534.1,199.5 273.1,320.7 429.6,211.3 272,323.6 344,230.3 386.3,139.5 439.2,222.5 226.8,330.5 609.8,403.4 120.6,266.2 574.4,272.1 303.8,215.2 576,285.8 261.1,329.8 311.8,218.6 144.9,263.8 464.2,221.9 216.5,307.6 231.5,338.4 442.9,225.8 220.6,318.2 553.7,252.2 343.2,233.9 278.8,304.3 529.5,188 324.3,215.4 283.1,289.8 211.3,294.4 556.5,260 580.2,299.1 160.9,281.5 455.2,221.7 586.3,318.6 407.1,171.7 231.7,338.8 523.6,160.6 401.3,160.5 555.8,253.1 234.2,336.9 423,201.9 433.5,217.2 179.8,301.4 545.1,223.6 366,159.8 121.9,261.2 618.3,417.5 204,297.1 301.4,224.2 336.7,242.1 525.3,169.2 174.8,301.2 299.8,225.6 331.9,231.9 408.2,170.2 279.6,304 207.8,296.2 255.1,326.6 431.9,225.8 408.4,170.2 525.2,168.9 265,329.6 133.1,256.4 533.7,205.5 248.1,330.1 155.4,277.4 301.9,222.4 137.3,263.5 380.4,150.5 277,313.6 404.3,161.4 425.5,212.7 463.5,217.7 557.1,258 188.1,302.1 142.5,261.6 372.2,155.1 133.4,263.4 298.1,223.8 579.9,296.4 615.5,423 566.8,257.5 236.8,332.2 184.4,300.9 583.1,309.5 202.3,295.4 218.2,311 404.3,165.3 570.3,271.6 611,406.3 187.6,305.7 124.8,257.7 118,254.2 285.2,280.7 241.2,329.2 440.1,224.7 616.5,428.3 223.6,321.6 557.2,259.2 549.4,237.1 371.7,157 171,294.4 370.8,156.6 339.8,241.5 576.6,285.4 509.5,138.6 482.8,163.7 264.2,327.4 531,189 244.9,327 606.9,408 196,309.9 506,137.4 344.2,226 169.8,295.3 419.5,205.8 580.3,297.3 541.7,213.5 451.5,217.7 232.8,335.7 409.1,175.5 121.7,259 261,331.2 514.6,140.3 265.1,324.7 501,139.5 562.2,265 136.2,263 340.1,245.1 579.1,301.7 357.6,210.5 416.6,216.4 129.8,253.2 341.6,239.8 115.1,254.1 285.1,281.4 521.6,149.1 547.1,231.9 507.8,144.9 275.7,318.5 288,265.2 465.5,214.1 523.7,157.4 134.8,264.5 508,139.7 464.2,221.8 609,404.1 359.3,193.5 472.7,199.3 443.6,231 338.4,240.5 115.4,255.4 350.5,227.6 416.5,218.9 302.1,222.6 250.4,331.7 558.5,257.2 425.8,216.9 233.5,337.2 518.3,141.8 505,138.5 544.7,219.2 457.7,231.3 484.6,163.9 619.8,416.4 596.5,383.5 415.6,210.9 584,312.8 378.1,144.1 144.6,266.4 433.8,222.4 319.7,221.6 483.6,169.4 571.6,269.9 460,229.7 257.2,326.6 239,328.3 289.2,257.5 354.1,223.1 528.5,195.8 603.5,412.7 228.7,332.4 116.3,256.8 422.8,199.5 214.3,294.4 591.5,341.6 132.8,256.4 267.2,323.4 278.6,305.5 206.9,292.8 253.4,329.2 178.8,304 477.8,186.9 385.3,136.7 343.4,233.8 522.4,158.1 225,326.2 589.9,331.9 250.5,329 553.5,251.1 374.7,152.5 425.7,213.8 586.7,316.3 461.9,218.2 206,294.9 294.1,235.7 598.4,390.8 567.6,263.9 214,294.4 432.6,221.8 448.1,219.5 497.5,137.6 312.4,214.1 536.3,205.6 393,163.5 616.1,426.8 221.2,318.9 302.2,219.4 199.2,306.3 402.5,166.3 148.7,270.6 503.8,139.5 459.6,228.3 606.9,410.4 549.5,239.3 619.4,414.8 581.5,305 145,264 529.5,182.8 524.9,170.4 464.7,218.1 503.8,140.5 193.3,309.7 423.4,203.8 244.6,324.8 480.7,184 572,271.6 127.4,255.1 535.4,212.7 367.7,164.3 528.1,180.6 545.6,222.4 228.2,337.4 134.4,260.8 576.3,285.2 145.6,262.9 139.1,265.8 346.7,229 386.5,133.8 230.1,339 535.2,213.8 171.8,295.7 581.9,304.4 263.8,330.3 475.7,185.4 608.6,402.9 406.8,173.2 132.3,259.2 144.1,263.4 348.6,230.5 510.4,142.1 230.2,339.1 393.1,165.9 334.7,237.8 185,304.2 295.3,231.1 340.7,240.9 188.3,303.1 476.5,185.8 580.6,301.1 138.6,265.9 205.1,295.2 310.7,214.3 276,319.2 155.5,279.7 454.1,221 555.5,254.5 518.8,149.3 540.3,210.9 553,247.7 164.3,288.4 389.6,147.4 150.8,272.9 304.5,213.5 513.9,138.4 293.6,239.2 277.2,311 375.7,142.7 324.1,212.4 262.3,327.3 347.2,226.5 394.6,182.1 269.1,322.2 426.8,207 337.6,235.4 418,212.4 158.6,279.5 497.3,146.3 172.8,293.6 425.2,212.5 469,210.8 575.3,280.5 154.6,277.7 482.5,171.8 302.8,218.2 209.2,291.7 492.5,148.3 514,135.5 342.4,241.4 494.3,146.6 250.9,327.9 532.5,191.1 286.7,267.3 284.3,284.5 284,286.5 325.8,215.8 171.4,295 307.6,220.7 358.3,203.3 579.9,298.7 126.6,260.3 541.4,210.4 245.6,326 271.3,323.3 358.5,200 560,257.9 510,140.1 171.9,292.8 270.2,323.9 288.4,255.6 169.1,294.7 568.9,264.8 351.3,224.9 181.3,303.5 397,186.8 282.7,289.5 478.9,184.9 376.4,143.4 517.3,146.3 199.1,304.8 226.3,331.7 422.5,203.2 399.3,171.9 396,193.6 279.2,304.8 221.7,317.9 480.6,183.9 440.5,222.6 328.2,209.8 297.6,227.3 473.8,198.5 175.9,296.2 472.9,187.9 509.3,134.9 569.5,263.2 612.2,409.4 334.1,240.2 247.8,330.6 535.6,211.2 556.8,257.2 179.2,303.2 216.4,305.9 465.2,219.1 199.4,303.9 442,223.8 389.4,146.6 427.3,204.8 274.5,320.9 479.4,180.9 375.2,146.5 590.4,334.3 593.8,365.1 502.4,134.3 586,316.1 440.1,227.6 429.4,207.5 174.7,301 157.4,283.6 350.3,227.6 488.2,155.7 335.8,237.1 275.9,319.3 224.6,325.8 195.7,307.2 374.3,147.3 615.3,422.8 369.4,163.2 389.1,145.6 138,264.8 438.8,227.7 492,154.6 397.9,181.1 480.8,184.9 316.1,218.8 527.1,180.7 587.6,320.8 426.2,216.8 491.5,151.8 393.3,171.4 476.7,190.9 248.4,328 427.6,209.3 126.8,260.1 308.8,223.9 554.9,256.3 610.7,404.8 294.7,234.1 511,128.6 551.6,240.6 352,223.9 530.3,190.9 147.5,267 202.4,295.4 602.9,405.7 179.9,305.9 309.1,220.3 436,220.5 575.1,276.9 142.4,262.1 135.6,258.6 314.3,210.3 609.3,402.1 368.1,166.3 512.5,142.1 123.4,256 402,167.2 178.8,304.2 358,209.1 350.9,227.8 212.9,292.7 312.3,216.7 281.7,294.5 551.5,241.3 231.9,335.2 231.8,338.9 315.1,213.9 465.4,214.4 141.2,264.1 220,310.2 311.9,217.2 276.4,315.9 604.2,408 513.5,140.4 300.1,226 194.9,307.1 289.6,255.6 616.1,430.6 375.9,141.2 537.4,204.9 144.3,266 157.1,279.2 563.6,263.7 401.5,165.8 407.9,171.7 364.3,169 370.3,159.1 114.9,251.4 501.8,142.7 213.8,293.3 313.3,209.9 321,218.2 456.2,224 590.8,335.1 313.6,209.9 584.9,313.5 403.6,161.6 294.7,233.9 617,425.2 484.7,167.4 487.6,159.6 442.1,229 186.9,302.4 240.4,331.7 516.9,146.2 541.8,213.9 170.3,291.4 526.2,176.7 523.4,162.6 321.4,213 277.6,314.6 427.1,208.5 159.9,283 457.6,235.2 499.3,144.6 136.9,259.9 158.3,284.6 166.2,285.5 620.2,412.3 566.9,257.4 270.8,325.8 255.9,325.5 558.8,258.4 351.6,222.7 153,278.3 398.6,173.2 307.4,221.7 185.7,306.9 180.3,306.4 325.1,218.2 325.4,216.6 450.9,218.3 267.1,324.1 119.9,259 425.7,213.8 355.1,222.3 406.3,171.7 339.3,235.9 417.3,215.1 175.7,301.7 232.2,333.6 524.6,161.6 476.9,177.5 505.4,135 489.2,154.9 396.7,191.1 591.8,346.9 518.1,144.5 173.4,296.3 191.4,304.2 526,176.8 600.7,397.8 277.8,313.2 134.2,264.5 560.9,259.2 613.3,413.5 397.5,186 391.3,162.4 316.8,216.4 287.1,268.8 292.8,238.1 440,227.2 345.9,230 212.4,292 360.4,186.2 598.4,393.5 475.7,182.6 162.4,283.1 447.9,219.6 117.5,254 147.9,269.7 498.3,140.5 306.3,220.9 561.6,265.1 560.6,261.5 195,305.2 303.2,219.5 279.1,304.8 213.6,298.2 409.5,174.4 255.8,325.5 496.6,145.6 234.7,335.1 271.2,325.2 295.7,229.9 201.2,298.2 564.3,260 159.3,283.7 208.2,297.4 127.5,254.8 429.6,211.9 251.7,328.3 398.2,175.9 404.7,169.1 300.7,224.3 222,318.5 615.8,428 242.9,329.4 582.8,311 489.9,157.5 159.4,285.4 442.4,229.6 525.8,175.7 430,214.8 563.5,263 273.5,324.5 120.5,265.5 546.5,223.2 156,277.5 259.7,332.5 249.9,328.8 343,238.2 470.6,172.3 559.5,256.5 329,208.9 272.5,323.3 470.6,194.1 210.3,290 319.5,221.7 369.7,161.1 429.1,209.5 515.3,140.3 334.7,243.3 365.3,161.8 260.1,332.4 388,140.4 283,290 207,295.8 306.7,222.3 267.7,327.5 367.7,167.2 279.5,306.3 224.4,325.6 275.3,322 234.5,335.4 383.5,139.8 613.1,412.5 184.8,302.9 378,141.9 197.9,309.6 379.3,146.7 124.7,256.7 447.8,219.8 256.7,330.6 450.8,221.2 611.8,402.6 391.5,163.5 343.1,237.4 204.6,299.7 517.3,146.5 154.5,277.7 551.8,246.1 247.5,331.3 600.9,402.4 605.3,410.6 371.5,158.6 306.5,217.7 498,141.2 154.2,272.6 230.2,337.1 161.7,282.1 317,220.2 588.9,321.4 587,315 190.1,302.9 451.8,217.6 262.9,327 303.4,220.7 617.2,424.8 491.2,151.5 372,152 136.7,262 460.8,219.7 292.1,243.4 231,337.1 539.4,214.5 531.7,197.2 271.4,321.6 394.9,183.7 412.6,200.4 229.6,334.9 611.4,404.3 459,228.9 353.2,221.4 475,191.9 364.8,170 520.5,150 556,259.8 328.5,214.6 589.8,331.3 498.4,136.4 290.7,247.3 273.3,320.9 167.4,293.1 447.4,225.5 547.5,229.4 365.3,161.4 401.3,160.8 469.2,206.7 342.2,242.9 540.2,211 547.9,234.5 596,380.2 325.3,217.9 457.4,234.2 435.2,220.5 288.9,259.3 289.6,253.6 455.6,223.4 371,155.2 137.2,264.2 398.8,174.7 359.1,200.8 149.3,269.9 304.9,212.9 541.9,213.9 288.4,256.9 522.9,152.6 270.6,321.7 526.5,169.7 401.7,167.4 495.8,138.9 424,213.1 481.5,171.6 182.6,300.8 485.2,158.2 389.8,150.1 195.4,304.7 260.6,329.1 492.9,147.8 389.4,147.3 436.4,224 270.4,321.8 577,287 351.9,225.7 277.5,313.9 598.1,392.8 560.5,257.1 476.8,178.9 504.3,139 441.4,224.9 432.8,224.6 194.2,309.7 168.8,294.5 578.2,290.7 519.7,153.6 389.7,146.6 499.8,142.5 191.1,308.5 175.7,296.8 559.7,259.7 593.7,363.7 578,292.6 250.8,329.2 118.8,258 205.2,293.8 466,206.5 354.8,222.9 298.4,225.1 213.2,294.1 506.4,144.9 338.1,237.1 196.5,309.8 448.4,218.6 417,211.3 118.9,256.3 361.5,185.1 132.4,261 255.9,326.2 136.6,265.8 609.3,405.2 375.5,148.8 388.1,136.5 249.7,329.7 152.8,278.1 209.1,290.3 277.4,312.3 230.3,337.5 170.8,296 393.2,169.8 477.8,186.6 583.5,308.4 271.8,327.1 545,221.4 139.7,263.2 325.7,216.2 227,331.5 444.9,223.6 147.8,265.8 575.8,282.5 556.6,257.3 159.6,284.6 417.8,212.3 123.9,259.3 617.5,427.6 189,306.3 468.5,206 464.3,205 198.5,304.2 419,207.6 418.3,212 594.1,364.2 613.1,415.4 307.6,222.2 393.9,175.2 335.3,243.9 589.4,327.7 501.6,142.8 219.9,312.4 293.3,241.4 254.6,328 500,142.2 500.4,140 143.6,265.5 606.5,411.8 531.5,191.6 203.5,294.5 541.6,215.2 295.9,234.8 327.9,211.8 182.7,302.9 361,181.9 412.7,199.4 441.6,229.6 254.9,327.6 312.9,213.3 176.7,298.5 243.6,325.3 243.7,327 445.5,227.1 233.9,337 218.7,307.4 567.3,258.6 336.8,240.7 484.2,163.3 533.6,206.3 121.7,261.8 582.6,310 135.1,264.4 309.5,219.3 595.9,377.1 221,319.4 183.7,302.3 581.6,306.2 304.8,212.3 430.5,222 326.7,213.1 465.8,214.1 442.6,224.7 610.6,407.5 173.1,294.2 183.3,303.8 375.1,148.4 585,314.5 618,418.1 333.4,238.3 359.8,193.4 238.2,331.2 447,224.8 376.9,143.3 378.9,147.5 201.4,301.6 204.4,295.4 598.7,390.2 408,168.4 356.5,218.3 408.4,169.3 427.7,209.4 548.3,230.6 606.8,407.9 619.7,414.5 359.9,191.8 231,338.5 607.9,404.6 178.8,303.7 516.1,139.7 512.1,136.6 479.2,181 489.4,154.8 244.5,325.8 348.9,228.2 361.9,183.5 473.8,194.6 542.5,213.8 378.2,143.7 380.5,146.5 348.7,230.5 343.5,234.7 354.9,216.9 126,257.6 207.3,294.7 355.7,220.7 462.9,227.7 415.2,210 525.9,187.5 450.7,218.3 274.1,323 396.6,188.4 514.5,141.8 492.3,145.9 278.1,307 433.7,218.1 579.2,296.8 222.3,321.6 340.8,237.1 520.3,150 299.1,226.3 381.6,144.5 387.8,136 349.8,222.5 515.9,143.1 268.6,328.3 311,214.5 453.9,217.6 149.3,271.2 270.1,324.3 432.6,224.6 124.6,258.1 445.8,227.1 249.2,329.3 212.8,292.1 177.8,300.9 473.9,201.5 500.6,141.9 467.9,213.4 548.3,234.9 489.3,154.3 382.6,145.8 508.1,140.9 514.6,136.9 566.8,259.5 618.8,418.1 188.3,304.2 453.2,215.5 217.1,303 385.6,133.5 223.2,321.6 467.5,217.1 559.9,257.7 260.8,330.9 599.8,397.2 350.4,228.2 266.6,326.8 586.6,315.1 348.4,229.4 234.6,332.8 270,323.5 253.3,328.8 366.4,158.4 442.7,224.4 247.8,330.9 500.6,135.4 390.9,157.7 328.6,213.4 593.9,364.4 282.2,291.8 146.5,267.5 379.8,149.8 375.4,146.1 265.6,330.5 136.4,262.6 338.6,239.8 596.5,382.5 536.8,206.8 233.9,336 383.5,139.6 619,413.4 182.1,302.3 117.7,253.9 130,253.5 614,414.3 566.8,260.1 507.1,134.2 302.1,218.5 605.8,411.1 354.3,222.5 585.5,312.1 406.3,171.3 610.2,403.3 151.2,269.3 150.6,273.7 440.6,223.6 321.8,216.7 468.9,213.7 310.1,220.6 441.6,227.8 253.7,327.8 215.3,301.1 518,139.6 186.2,306.4 437.7,227 264.3,331.5 397.6,181.5 137.3,260.4 384,138.8 253.4,330.2 221.8,317.3 492.3,148.7 334.3,239.3 331.8,229 238.2,330.8 510.3,143.2 449.5,217.3 370.8,156.1 415.4,210.1 311.4,216.5 520.1,152.3 282.2,293.4 194.2,311.1 330.9,222.4 527.1,180.8 342.5,235.6 451,218.5 410,172.9 309.1,219.9 544.3,216.8 475.5,188.3 117.9,253.8 597.5,384.8 315.7,216.5 304.1,212.8 589.4,330.2 407.2,168.8 352.2,226.1 602.1,405.7 419.7,202.4 285.2,282 312.8,212.2 137.6,261.1 547.7,232.5 317.4,218.5 139.5,260.7 491.7,150.4 208.1,298.1 352.9,222 222.8,321.1 120.4,261.9 149.9,267.7 156.1,282.4 489.2,156.7 235.6,335.3 424.6,209.8 161.1,284.1 454.7,221.6 547.4,233 413,198.2 603.4,411 440.7,223.9 154,274.1 470.4,213.2 180.3,307.2 533,197.1 118.4,256.9 190.6,307.5 484.4,165.6 469.7,212.1 541,210.4 471.5,199.4 585,313.9 410.3,176.7 612.7,409.5 520.2,146.5 590.1,331.9 312.8,212.9 392.5,162 190.4,302.9 562.4,259.8 601.1,403.2 420.2,203.7 141.2,265.3 295.9,231.5 186.9,302.2 151.8,276.2 521.5,149.2 490.4,149.2 240,329.5 446.5,225.3 131.2,258.7 291.3,246.3 358.2,210.1 150.5,270.7 348.5,229.6 486.5,161.8 149.4,271.1 422.7,201.8 197.2,304.3 522.1,155.4 384.6,140.7 376.1,143.4 371.4,157.2 157.8,284.2 547.4,226.6 135,264.7 461.5,218.9 289,258 182.3,305 143.2,264.3 254.2,326.3 143,259.7 523.4,162.4 283.6,290 233.2,335.4 130.1,253.8 152.9,277.9 290.5,247.7 488.3,154.2 399.2,172.4 154.3,274.6 554.4,252.4 520.7,153.8 279.9,303.8 561.3,262.6 356.8,217.5 481.4,181.3 349.5,225.3 408.2,169.8 402.2,164.8 268.7,323.7 337.9,232.7 400.1,162.2 196.7,304.4 236.9,329.1 534.3,205.9 185.4,307.8 517.5,143.6 122.6,263 362.5,179.9 484.9,166.3 509.8,142.2 125,261.8 188.1,303.7 477.2,185.6 282,294.2 424.1,208.4 321.4,216.2 148.6,267.8 419.3,206.9 172.5,298.7 516.3,140.2 231.1,338.6 197.2,307 256.4,331.3 430.4,220.8 517.8,145.9 269.5,325.2 463.2,222.2 585.8,314.5 525.6,170 185.3,307.8 454.4,221.4 470.2,199.1 474.3,188.6 223,321.1 246.5,327 263.9,328.6 496,138.6 469.5,213.8 291.8,240.1 594.8,373.6 136.2,262 605.1,410.4 393,164.1 336.4,239.3 478.3,192.5 134,263.4 466.7,216.8 505.2,134.1 130.6,255.8 593.3,363 446.1,228.4 511.7,136.6 412.9,201.6 531.2,190.6 295,231.2 145.4,263.1 174.8,295.7 250.2,328.6 166.5,286.8 149.5,270 507.3,136.3 605.8,407 366.3,160.2 529.7,183 367.8,167.7 410.7,171.6 188.6,306.8 155,274.5 403.3,162.2 358.9,197.7 298.9,228 478.7,176 551.5,241.6 254.4,327.2 183.6,301.5 171.5,295.7 608.6,405.9 413.3,205.6 209.8,290.1 133.4,262.7 331.7,228.9 363.3,178.7 526.4,167.8 283,290.3 348.6,230.2 138,259.7 418.9,209.9 493.9,148.3 302.6,220.1 493.7,149.8 210.9,293.2 173.6,300.3 202.8,297.4 517.8,145.3 261.9,327.8 342.4,240.6 241.7,325.9 490.3,156 156.7,279.2 373.3,152.5 453.7,218.5 163.9,290.2 589.8,330.7 318.7,216 259.2,328.8 116.4,256.4 192.5,310 139.7,261.4 600.4,397.8 192.2,304.8 230.5,334.4 164.3,290.4 241.2,326 579.4,299.4 220.5,318.9 231.4,339.8 411.7,193.8 233.6,333.5 217.3,307.2 599.7,395.3 182.9,304.7 213.8,293.9 540.4,207 498.3,138.7 258.8,332 141.7,266.6 205.5,298.5 485.5,155.7 605.9,414.3 258.5,331.9 120.9,265.4 536.2,205.3 532.3,191.9 421.4,192.5 574.6,273.3 544.5,222.7 141.5,264.4 247.6,327.4 568.4,261.4 381.9,142.2 357.2,216 474.6,194.9 588,316.9 468.2,209.5 501.2,138.9 417,211.8 493.2,152.9 416.6,217.8 203.7,295.4 548.7,231.8 262.7,332.6 572.5,272.1 150.4,269.2 508.3,139.5 373.3,150.3 145.3,261.4 471.7,177 552.3,239.5 494.8,146.2 561.8,265.2 546.8,230.4 612.5,411.3 153.1,278 517.4,139.7 318.8,219.4 467.4,216.6 572.8,273 142,266.7 473.8,196.4 116.5,257 447.2,224.4 538.4,210.7 545.1,224.9 387.8,138.5 154.6,279 483.1,166 280.2,302.2 472.3,192.3 370.2,161.9 251.5,330.6 519.4,152.8 135.6,260.1 333.5,235.4 486.8,156.4 445.9,228.3 613.8,412.7 155.4,279.5 118,253.5 352.8,218 354.3,219.6 532.2,196.5 372.3,153.2 127.9,256.4 431.2,217.4 247.2,325.5 274,321.2 313.4,209.6 363.8,171.9 123.8,257.2 398.1,179.1 190.6,308.7 377.7,145 135.6,261.3 281,295.1 360.2,188.1 181.9,302.3 526.2,177.5 175.4,297.3 243.3,328.6 208.9,296.7 343.8,234 281.4,293.1 491.8,145.9 329.6,215.1 543.3,217.2 490.7,150.4 510,143 474.3,191.1 507.1,134.2 212.9,292.2 562.5,258.3 558.4,262.5 524,163.8 605.7,407 477.4,191.3 436.3,222 602.2,408.9 132.8,255.7 403.7,163.3 487.9,154.7 315.8,213.2 319.6,219.9 251,327.3 153.8,275.2 456.9,230.4 184.1,306.3 516.2,142.3 569.6,262.3 165.9,285.7 425,216.1 615,427.7 532.8,192.9 453.1,223.1 500.2,141.5 501.6,136.8 248.5,327.9 442.9,225.5 447.2,225.9 170.5,291.5 270.8,322.7 236.2,334.9 473.4,177.2 485,163.4 242.5,329.1 506.3,144.2 504.7,135.7 185.3,307.8 529.1,182.1 477,187.1 115.6,255.2 224,327.3 312.8,212.4 612.4,411.2 217.4,306.6 488,155.6 578.6,295.9 364.6,170.1 240.3,327.6 225.6,330.1 294.4,233.6 118.5,259.6 232.6,335.9 410.8,171.9 120.7,266.1 589.3,328.5 386.6,133.2 347.7,227 462,226.1 305.9,219.9 556.9,258.9 456.2,228.3 226.2,332.2 586.8,315.7 135,265.1 619.6,415.6 369.3,159.5 583.1,305.6 520.7,149.6 164.5,288.4 269.7,324.5 495.1,149.5 530.1,192.7 605.6,409.1 482.4,169.7 415.1,214.5 536.4,209.6 168.1,295 536.8,208.4 471.2,193.9 152.6,275.6 342.8,241 598.5,393.2 558.5,257.2 577.8,293.9 587.1,319.7 336,240.3 222,316.7 508.9,133.2 349.2,224.2 290,250.5 240.5,331.2 392.7,163.4 393.9,173.5 442.8,225.4 527.9,178.2 247,325.6 200.5,297.7 223.3,321.6 503.3,142.3 597.5,389.9 555.6,253.5 363.3,179.8 237.3,331.5 433.7,222.6 168.1,292.6 483.1,161.2 461.4,220.4 362.3,183.5 517.8,148.7 484.7,161.2 460.3,224.2 164.9,284.1 496.9,137.9 424.9,211 581.7,306.7 379.6,147.8 179.3,301 192,303.9 193.8,304.4 183.3,300.9 428.1,210.1 177.8,300 307.1,222.7 371.1,153.6 497.9,141.6 150.1,268.5 504.2,136.4 382.2,141.6 600.8,400.7 326.1,215.6 177,299.3 119.1,255.7 171.4,295.1 420.7,201.4 514.2,143.4 451.4,221.3 386,139.8 495.8,139.3 214.5,297.6 428.7,211.8 216.6,308 204.5,294.4 320,214.8 210.5,293.8 431,220.8 476.3,191.4 253.6,326.3 605.5,411.9 181.6,306.3 344.7,232.2 493.7,145.2 451.2,220.4 278.6,305.9 241.3,326 202.9,298.2 257.6,329.6 562,264.2 241.6,325.9 363.1,181.4 266.9,326.9 439.8,226.7 165.9,286 531.6,195.2 520,153.4 313.9,209.3 353.2,221.7 571.6,268.3 194,305.7 186.5,302.6 364.6,170.9 284.9,276.7 368.5,160.9 139.9,264.4 278,312.7 322.2,212 463.7,220.4 340.9,238.9 137.1,266.4 176.5,299 409.9,173.2 291.1,247.2 349.6,222.7 206.5,296.6 374.3,147.8 132.1,258.5 253.9,325.5 352.6,222.8 268.1,327.4 393.7,170.8 140.8,266.2 320.3,217.7 138.6,263.6 522.5,154.2 597.2,386.1 237.5,331.3 611,403 578.8,297.5 120.2,258.7 200,301.9 228.6,337.5 199.6,306.8 547.7,232.7 326.1,209.4 374.4,148 553,245.5 383,145.4 462.3,229.8 204.2,298.3 577.2,287.2 340.2,243.7 617.9,419.5 585.9,315.4 283.2,287.7 219.6,315.2 498.5,140.7 516.6,140 614.9,424.6 614.7,418.5 252.3,328.9 619.5,414 610.5,405.3 216.3,305.9 538.5,209.1 319,221.9 337.4,239.6 339,235.4 599.1,394.8 151.4,268.6 297.7,229.4 118.2,254.2 471.1,211.7 383,140.6 216.3,306.6 562.8,259.7 513.4,138.3 342.8,240.1 140.8,266.8 181.2,300.6 495.6,141.3 470.5,213.9 274.4,320 525.8,174.6 519.4,145.2 388.4,135.2 361.3,183 267.8,325.5 217.8,305.8 308.5,220.1 119.7,259.7 167.7,293.8 549.7,235 485.1,156.8 592,349.7 611.2,405 285.9,271.2 592.3,349.9 481.1,183.1 415.9,218 431.5,224.1 508.5,142.5 501.2,142.8 327.3,213 180.6,303.4 582,306.7 588.7,320.8 453.7,218.9 601.1,405.1 475.8,188.7 141.3,264.6 228.1,337.6 374.3,147.4 156.5,275.9 375.6,145 532.6,192.3 570.5,271.5 381.6,143 532.4,193.3 558,258.6 203.7,294.8 480.2,180.4 582.3,304.8 495.2,148.4 171,291.7 248,328.7 530.3,195 371.7,153.5 581.1,303.4 603,408.3 618.2,417.7 441.8,225.5 512.7,142.3 188.3,302.6 380.9,145.1 579.7,299.2 537.5,204.1 202.9,296.2 205.8,299.1 317.8,218.5 565.3,264 407,168.8 596.1,382.7 419.8,200.3 416.1,216.3 134.9,264.8 145.8,267.7 190.5,307.7 506.3,146.5 334.2,238.8 381.1,143.6 270.6,323 123.3,258 571,269.9 125.4,257.8 345.4,232.6 589,328.5 220.5,314.8 255,329.2 332.3,229.3 334.3,241.8 115.7,256.3 337.1,235.9 415.7,214.3 313,215.8 426.7,212 339.4,238.7 509.3,133 493.2,148.9 355.7,219.7 471.9,195.7 261.2,328.6 209.7,290.2 367.2,162.4 478.3,191.7 329.9,212.7 226.8,331 351.1,222.1 203.9,294.6 559,259.6 616.8,431.5 273.8,326 491.2,151.8 355.4,215.9 235.1,331.4 119.6,258.5 402.1,162.2 454.6,221.5 225.9,329.6 334.6,242.1 164.6,289.4 306,219 578.5,295.6 494.1,146.2 159.8,279.2 418.1,212.6 566.5,257.9 119.2,261 250.5,329.4 325.3,217.4 527.6,198.4 272.3,325.8 313,216.1 189.2,308 129.4,255.5 417.1,210.7 298.7,229.3 306.6,222.1 587.8,315.9 196.4,309.9 335.6,242.9 185.1,306.2 302,222.5 303.9,217.7 415.3,210.5 122.4,258 157.4,283.9 549.8,235.2 315.5,214.5 148.3,269.4 148.3,269.8 389.2,145.3 200,300.9 135.2,264.9 384.7,138.7 285.4,273 602.6,404.5 229.7,335.2 423.7,212.4 263.7,326.3 191.8,304.4 459.3,228.3 584.4,310.6 517.9,147.6 406.4,170.8 118.2,253.9 210.7,289.8 289.6,252.3 510.8,138.4 473.4,197.9 601.4,406.1 352.7,220.2 240.8,330.6 396.4,190.7 301.6,218.3 176.2,296.7 478.5,190.4 486.7,161.9 538.8,209.7 201.9,295.4 195.1,304.3 463.5,218.1 157.8,280.4 491.7,148.8 410,170.9 142.4,260.7 411.8,195.7 526.2,185.3 227.1,331.1 457,234.2 511.7,138.7 491.1,153.8 531,193.2 142.4,262 386.5,133.3 562.7,257.7 432.2,225 371.4,157.6 552.7,249.5 469.8,208.8 194.5,309.8 523.2,159.8 537.5,204.7 590.7,333.3 254.4,325.5 333.6,235.9 455.8,223.2 291.9,242.2 147.3,267.9 169.3,292.3 142.9,259.7 472.4,186.7 610.2,405.8 227.6,337 160.6,286 456.3,226.6 145.8,266.7 194.6,307.7 436.7,219 224.3,328.3 394.7,180.3 600.5,399.3 459.6,228.9 160,280.4 376,143.6 355,220.9 439.9,224.4 189.9,302.8 446.8,228.8 424.1,207.6 312,217.1 165.7,287.1 161.7,283.6 477.3,186.7 525.8,175.8 432.9,223.1 342.7,232.1 191.4,306.1 335.2,244.5 491.6,146.8 216.1,305.6 136.6,262.3 602.9,404.8 174.2,300.7 232.8,335.1 608.4,405.9 584.8,315.1 196.7,305.8 164.9,289.2 575.8,283.8 328,211.8 427.8,209 164.9,286.7 123.1,257.7 578.7,297.9 525.6,174.3 430.3,220.3 364.2,170.2 175.4,300.3 234.8,333.8 330.7,217.5 436.8,221.2 541.8,213.3 451.7,217.6 568.2,259.8 594.7,372.2 268.1,325.1 457.3,235.5 504.5,134.6 457.1,234.1 280.7,300.4 296.8,230.9 246.3,327.5 301.3,217.2 552.3,240.3 408.1,172 465.9,202.4 343.7,233.5 470.9,210.8 364.2,169 526.5,171.7 411.4,190.1 316.4,215.3 290.4,247.2 436.1,220.9 362.1,183.4 511.7,139.2 373.9,148 147,269.7 208.7,296.8 267.5,324.5 229.2,338.7 419.7,200.7 486.8,162.5 411.3,188.3 160.9,279.8 387.6,142.3 258.9,331.7 328.3,212.6 390.6,149.6 305.2,217 297,229 532.2,191.6 417.7,211.1 590.6,335.1 533.6,206 591.2,334.3 292.1,243.8 311.2,214.7 232.4,335.3 310.4,222 178.4,302.8 391.4,162.2 566.2,256.8 253.9,326.2 341.8,240.5 244.4,325 156.1,282.3 259.6,329.2 151.5,268.7 432.3,224 127.7,254.1 300.2,225.5 358.8,196.4 408.7,175.2 341.2,239.2 481.9,169.2 225.9,329.1 569,263 480.4,175.3 326.9,211 328.1,210.5 593.4,362.2 280.5,301.2 239.5,329.8 263.2,332.3 444.2,228 412,199.9 573.8,275.7 554.5,251.8 244.8,328.9 457.9,230.5 334.3,244.7 264.8,331.2 558.4,257.5 141.7,267.1 568.5,259.4 283.5,287.8 181,303.3 455.3,222.8 322,217.2 151.1,272.7 608.4,408.8 554.8,253.9 614.2,415 133.8,261.9 439.2,228.2 446.8,227.3 522.2,157.7 468.5,209.9 142.1,262.9 195.1,310.5 349.9,222.1 174.1,298.3 297.4,230.3 505,140.8 192.9,310.7 445,227.1 216.2,306.6 493.6,143.4 270.9,322.3 551.4,240.8 211.7,291.4 235.5,332 617.6,423.4 305.8,219.8 183.1,302.7 320.2,214.7 335.8,242.9 476.1,189.9 456.4,226.9 464.2,221.7 453.2,216.9 419.1,204.5 237.8,330.8 319.1,221.6 495.6,138.1 143.5,265.7 198.5,304.2 556.4,257.7 218.9,307.8 421.9,196.7 284.1,280.2 212.5,292 324.9,218.4 405.8,165.6 309.8,218.4 391.9,164.1 431.5,223.5 552.6,246.1 539.8,214.3 258.9,327.4 509.5,137.1 267.8,323.7 599.9,398 277,313.9 524,164.3 220.7,318.5 236.4,331.3 255.4,326.5 492.6,149.3 584.3,309 442,225.6 353.6,217.1 160.6,286.2 328.8,209 347.9,228.5 322.1,217.4 580.4,300.4 469.5,213.7 494.5,145 284.9,282.3 591.6,341.1 401,166.5 178.5,306.7 521.1,184.9 437.8,225.4 612.4,410.4 491.3,152.1 391.3,162.9 595.6,374.4 272.7,321.9 251.8,331.5 192.1,303.9 355.3,215.6 323,211.6 470.5,207.3 345.8,231.1 565.6,259.6 377.6,145.1 360.6,182.9 259.7,332 585.5,315.8 548.9,232.3 117.2,255 193.4,304.6 460.5,221.9 272.8,323.1 318.1,218.9 275.5,320.5 503.2,142.7 318,219.5 560.6,259.8 340.9,237.3 114.7,250 608.8,403.1 185.6,307.3 473.1,196 129.1,259 499.9,142.2 498.8,141.9 182.4,302.6 311.8,215.2 555.3,257 186.7,302.5 597,384.5 510.7,134.1 492.7,151.1 433.6,217.4 365.9,162.9 217.8,306.9 527.9,177.2 292,238.7 298.3,223.7 135.9,260.6 611.3,404.2 220.2,311.3 276.1,317.8 551.1,239.7 296.6,231 362.9,180.1 351.9,222.2 368.9,165 595,371.4 514.8,137.2 143.9,266.4 248.7,325.8 381.8,142.4 445.4,223.9 397.1,182.7 299.5,224.8 529.2,185.4 265.9,327.3 564.8,263.3 368.3,165.3 503.8,139.4 414.3,212 615.8,427.2 321.1,217 466.1,200.3 200.9,300 198.8,304 470.6,212.4 136.8,263.3 328,211.5 163.3,286 324.9,218.3 370.3,162.6 203,297.1 218.5,312.4 536.7,210.2 412.3,199.1 496.8,138.2 286.2,272.7 204.2,299.1 174.4,301 285.9,272.6 572.7,274.9 382,142.1 118.6,259.1 442.3,226 493.1,148.4 372,154.4 126,256 463.5,221.6 511.9,132.5 209.2,293.4 429.9,215.2 149.1,270.9 571.3,268 438.2,225.2 124.6,256.7 363.7,176.1 301.9,222 612.5,410.6 531.4,191 581.3,303.8 347.2,229.7 414.4,212.2 459.7,225.9 357.3,215.4 151.6,272.9 235.8,332.9 434.3,219.3 516.6,143.4 392.3,164.5 359.7,190.6 296.3,229 556.2,256.1 123.7,260.3 353.6,218.8 365.2,165.2 394.3,176.6 162.9,284.3 137.6,261.9 387.9,138.5 466.3,215.2 283.6,287.5 295.7,229.4 394.9,182.2 571.3,267.5 474.1,195 494.9,146.1 191.7,304.5 483.5,167.9 467,211.9 390.5,149 559.1,256.3 438.8,221.3 348,228.3 193.5,303.8 132.1,257.7 501.9,139.3 448.7,222.1 370.7,156.6 135.4,259.9 207.1,296.7 363,181.7 128.9,259.9 608,404.9 177.4,305.8 287.5,266.5 466.4,214.3 526.2,184 128.6,255.3 593.4,360.7 208.5,297.7 545.8,223.2 368.6,164.5 402.9,168.1 372.7,156.8 468.2,213.8 397.4,182.6 381.8,142.7 523.2,157.9 183.4,305 363.9,173.4 483.2,166.6 607.3,406.9 324.7,218.2 380.2,151.5 500.3,142.5 306.1,219.8 429.4,208.1 318.6,220.6 339.8,241.8 374,148.1 128.4,254.9 531.9,194.4 210.9,295.4 143.4,261.9 128,255.4 497.8,139 607.6,405.3 490.9,147.5 341.1,239.9 394.3,180.7 614.1,412.9 420.3,205.1 258,328.6 183.6,302.4 293.4,241.8 322.8,216.1 164.2,286.2 607.6,405.9 315,212.7 288.7,258.7 452,217.7 464.7,216.2 457.8,233.5 502.7,135.9 129.2,259.6 386.5,138.7 320,214.9 265.1,330.3 544.9,224.9 227.3,336 363.4,177.9 304.4,214.8 378.1,143.2 218.9,310.1 428.3,207.4 590.5,335 616.9,431.2 143.1,262.3 267.4,324 417.8,213 418.6,212.3 117.5,254.3 272,327.1 116.1,252.8 387.4,141 488.7,159.8 292.5,242.7 181.5,300.8 389.8,144.9 212.3,291.2 292.9,239.9 264.7,329.6 116.7,255.2 522.9,153.4 398.5,174.8 351.4,227.1 225.8,331.1 472.1,194.6 471.7,185.4 192.3,309.1 445.1,228.1 120,259 294,233.4 451,219.8 273.3,321.7 266.1,329.3 146.1,264.2 492.2,150.7 165.8,287.1 322.2,217.2 488.3,152.6 264.5,330.7 222.6,318.3 487.5,163.5 331.2,223.6 452,220.2 179.1,306.5 265.7,328.4 295.9,233.9 121.1,260.6 391.5,159.9 359.2,194.6 551.8,245.9 283.2,291 561.8,264.5 161.2,281 416.2,217.4 439.6,225.1 337.3,239.4 405.4,170.3 421.4,193.8 431.8,226 257.5,326.5 287.4,262.1 602.5,404.1 333.9,239.1 529.9,183.9 535.5,212.1 565.4,263.7 546,224.8 340.6,239.9 587.2,315.2 274.8,320.1 443,225.5 549.7,239.3 345.2,231.7 281.4,293.5 574.5,273.1 408,170.8 293.1,236.1 379,150.3 543.4,214.1 448.4,219.1 338.3,240.5 383.6,139.7 585.6,314.2 128.3,254.7 414.8,212.4 597.9,387.5 471.1,202.2 564.1,259.6 582.6,310.7 376.5,140.5 521.3,149.1 291.5,244.7 241.9,325.9 474.3,184.6 122.5,260 563.6,263.2 259.1,332.1 485.8,162.8 212.7,291.9 435.1,219.1 149,271.4 236.8,329.3 282.5,290.8 171.3,295 245.4,325.4 583.2,307.8 240.7,331.6 570.6,267.5 221.6,321.3 387.1,136.4 552.3,244.1 471.1,204.1 533.9,199.5 447.4,221.5 584.3,310.3 533.4,200.7 223.8,323.6 365,167 572.9,273.7 207.5,293 219.3,312.3 329.2,209.6 462.6,226.3 513.6,138.5 250,327.9 123.9,261.3 550.3,240 570.1,267.3 128.5,255.6 326.9,210.3 509.5,136.8 607.3,407.7 241.8,328.2 176.9,302.1 400.8,164.8 479,183.1 437.6,225.4 315.8,218.7 434,216.7 420.9,198.5 438.2,221.9 436.4,221.3 230.6,336.9 378.3,149.3 434.9,218.2 202.2,299.3 538.2,211.2 584,313.3 129.6,253.9 530.6,185.7 315.1,215.2 229.5,337.6 400.7,165.2 237.8,327.9 563.5,261.7 304.4,214.1 354.6,221.1 562.8,261.4 513.8,141 159,280.3 575.6,279.1 490.6,148.6 144.7,266.5 560.2,258.3 317.1,219.2 350.9,224 481.6,172.6 500,142.3 569.3,262.1 550.1,240.2 521.1,153.8 370.7,156.5 547.1,232.2 480.5,179.5 370.5,162 240.1,327.2 604.1,412.9 141.4,265.4 362.8,179.5 615.3,421.9 414.3,208.1 471.2,172.6 219.2,312.1 601.4,405.9 514.9,141.8 553.8,247.5 256.4,330.7 557.4,259.3 256.8,326.8 271.4,323.4 353.6,218.2 385.5,134.3 290.3,250.5 561.3,265.1 143.5,264 593.4,361.9 163.2,288.4 435.4,218 475,193.2 508.5,139.8 490,159.2 424.1,207.7 594.9,370.7 620.2,411.7 453.9,221.7 418.7,211.2 184.1,303.9 360.8,183.3 333.3,239.5 466.9,216 206.7,293.9 390.4,147.7 537,215.7 156.7,280.1 150.4,273.6 122.2,260.1 409.7,173.8 191,307.1 170.1,290.5 128.9,258.6 545.6,222.3 358.7,197.2 595.7,375.9 264.5,328.4 224.6,324.7 409.2,173.1 292.2,243.7 297.8,228.5 595,371.3 377.2,139.2 376.1,141 601.5,406.3 115.9,256.3 539.5,208.9 210.1,290.6 339.5,240.6 572.4,272.5 309.3,219.5 377.9,143.7 341.5,240.3 434.7,219 129.7,253.9 138.4,263.5 245.9,326.9 567.3,258.7 588.6,320.4 552.5,244 458,230 369.4,164 119.4,260.2 226.7,330.7 314.9,209.2 413.3,204.1 169.7,293.4 219.1,310.5 297.8,227.8 261.6,330.7 378.9,146.7 614.7,420.4 231.2,338.3 600.2,397.5 313.8,209.1 620.1,410.6 358.5,201.3 332.7,231.8 214.9,300.7 572.3,272.9 346.6,230.5 318.6,218.6 584.1,313.1 394.2,172.3 543.3,214.9 522.9,152.8 185.5,301 251.6,328.7 214.3,294.8 561,263.2 458.7,228.7 355.8,218.4 542.3,212.1 206.4,294.1 369.3,160.8 337.6,239.8 596.8,383.4 234.1,337.2 383.9,138.8 509.9,142.3 130.5,257.6 386.8,135.8 545.5,222.2 379.2,147.9 385.2,140.6 242.5,328.3 584.8,316 175.6,299.8 594.6,370.2 372.7,149.8 423,201.9 472.2,173.7 155.6,280.6 424.8,213 367.9,167.9 469.3,212.2 294.3,238 255.5,325.9 263.2,329.8 249,330.6 359.1,200.2 392.1,166.8 504.8,137.8 460.6,223.7 526.5,177.4 235.1,330.9 605,412.3 487,154.4 475.2,190 274.1,321.3 373,150.5 141.2,263.2 412.8,199.2 124.2,263 296.4,233.8 492.6,150.8 291.3,246.3 280.5,302.1 375.8,142.6 204.1,295.9 238.6,332.1 345.8,231.7 393.7,172 541.5,214.4 398,178.5 413.6,207.5 215.3,303.5 529,184.8 197.9,308.9 439,228.4 510.5,140.6 587.1,317.4 189.9,302.7 187.1,301.6 514.8,136.5 538.9,207.6 535.4,203 410.8,180.6 596.4,381.1 464.9,219.6 140.5,264.3 289.1,255.2 346.6,229.2 377,141.2 257.4,329.6 585.3,311.8 453.3,218.1 162,285 182,302.4 392.2,165.5 525.9,182.7 500.6,141.3 594.2,363.6 313.2,215.6 198.2,306.2 402.2,167.2 219.8,314.6 394.5,179.3 516.5,137.5 320.6,217.5 304.5,212.8 588.4,317.7 243.4,328.4 585.5,314.5 130.3,255.4 189.5,304.8 260.3,328.5 562.1,264.2 569.7,265.2 146.6,269.2 411.2,185.5 155.3,276.2 465.1,216.8 159.1,283.9 510.1,136.5 435.5,218.4 405.1,167.1 465.1,218.2 445.3,223.1 263.6,328.8 332.1,227.8 602.4,407.3 527.2,185.1 226.4,329 352.3,223.8 351.1,221.1 213.1,293.5 357.5,212.5 354,223.2 386.2,140 489,161.3 281.7,294.8 171.5,295.4 305.5,215.4 306.7,215.3 400.1,161.1 426.4,212.4 174.2,299.7 258.8,328.8 266.3,329.5 508.6,144.6 390.7,155.2 613.7,416.2 536.9,214.1 252.5,327.5 470.6,212.2 177.2,301.9 301.1,217.8 599.3,400.1 362.4,188.5 541.5,214.7 518.8,148.7 117.1,252.6 244.1,325.5 533.2,205.1 200.4,301 567.8,258.7 115,254.3 525.2,168.4 387.5,137.6 169.2,292.2 232.9,333 604.6,414.7 479,181.5 523.8,169.5 251,326.9 534.6,209.2 610.1,404.1 193,309.3 259.5,328.1 238.5,333.5 277,313.3 550.7,238.5 449.6,220.1 214.9,298.3 213.3,296.3 231.5,339.4 228.3,337.6 156.4,277.9 372.4,151.4 606.6,410.4 346.4,229.4 540.6,207.4 578.6,295.9 289.2,251.5 478,190.4 434,222.7 497.5,140.8 403,161.3 206.9,297.3 303.1,214.1 201.5,295.5 413,199 242.2,325.9 431.5,218.7 515.2,140.5 134.6,262 323.5,215.3 522.5,160.5 356.9,213 238.9,328 321.6,218.2 248.5,325.4 257,326.7 188.4,305.9 247.3,329 279.2,307.1 550,236.4 249.8,328.1 280.1,304.5 576.2,288.9 291.5,241.8 422.2,201.1 268.4,328.3 144,266.4 368.4,167.6 314.3,210.6 179.2,300.1 114.9,251.2 228.7,333.4 468.7,206.7 442.6,226.3 485.1,169.2 472.1,192.9 181.6,302.3 544,222.6 197.6,304.2 613,408.6 240,330.9 415.3,210.9 242.7,330.2 238.3,333.7 422.3,199.2 315.4,212.3 276.3,318 526.7,168.9 325.1,218 152.4,269.7 508.9,140.5 587.3,322.4 440.5,223.7 557.4,257.6 162.2,287.7 401.2,166.2 278.2,306.5 326,213.6 380.4,144.9 243.2,327.2 453.4,219.7 179.6,303.1 574.8,273.8 256,330.8 507.1,137.4 428.6,206.7 414.9,212.7 282.4,289.4 249.4,331.4 327.6,212.9 274.8,319.1 131.4,257.4 524,159.1 604.9,411.8 488.2,157.4 200,303.8 235.2,336.2 158.5,278.6 405.3,169.6 594.5,364.6 360.2,186 517.6,140.5 532,194.5 120.9,264.7 382.8,139.8 572.3,272.3 163.3,288 233.1,333.7 449.2,221.1 578.1,290.1 461.1,223.4 371.9,153.4 581.6,307.9 170.7,296.2 359.5,196.3 209.8,290.1 540.7,212.7 550.8,234.9 387,136.6 128.1,256.6 446.6,223.1 327.5,213.7 434.3,217.3 400,161.7 222.6,319 189.5,303.3 573.2,274.6 570.5,269.5 525.1,169.9 388.3,139.4 318.3,219.7 571.2,267.5 569.7,263.7 395.4,184.8 138.9,263.3 220.4,313.8 552.1,239.9 281.4,293.1 319.7,217.2 462.8,222.9 295.1,236.3 284.6,277.8 264.1,329.4 278.4,306.1 559.4,256.5 588.1,318.8 459.8,228.8 400.2,163.9 585.8,311.4 132.5,254.3 344,233.2 338.8,240.5 298.6,228.8 473.5,174.5 192.6,304.6 295,234.9 463.1,226.3 123.1,258 524.9,171 329.5,214.5 248.5,325.4 365.1,169 356.2,215.7 268.5,326.9 177.3,300.7 154.1,274 603.7,409.1 149.7,267.2 475.6,190.6 272.2,327.4 609.3,405.9 418.9,210.8 254.5,329.9 498.9,145.2 439.5,225 591.6,343.6 120.1,259.2 385.2,134.9 290.5,248.1 421.1,198.2 259.3,325.9 366.7,160.4 499.8,144.2 501.9,143.9 396.1,193.8 581.6,304.5 229.7,336.9 181.2,302.8 197.3,304.2 451.2,223.7 168.9,294.9 331.8,228.1 243.5,327.5 478.3,191.1 190.8,309.1 239.6,329.9 276.6,315.9 599.1,392.3 586.2,315.9 261.9,327.6 137.9,260.7 380.1,149.8 539.4,210.7 470.5,200.6 179.6,300.1 239.3,327.1 512.9,134.8 510.6,140.6 180.1,307.3 435.6,216.8 511.5,138.5 403.8,162 197.6,305.4 145.1,263.7 531,187.6 354.7,221.1 267.5,325.9 156.7,279.5 265.5,330.6 454.4,221.6 334.9,244.4 219.9,311.8 395.1,186.3 299.4,221.4 301.1,217.8 232.4,333.7 555.4,254.4 326.2,211.2 347.5,229.4 618.4,415.5 223.6,321.6 583.4,310.6 507.4,145 302.3,219.9 487.2,162.7 286.8,271.8 184.4,304.3 370.2,161 291.4,241.5 437.2,224.6 597,384.2 420.9,197.7 305.1,212.1 506.2,146.8 242.6,328.1 402.1,162.7 412.4,196.9 210,292.9 535.9,207.9 240.2,328.9 136.2,261.4 215.2,303.4 205.8,299.3 616.6,427.5 449.4,222.4 176.8,302.9 422,201.5 535,204.6 519.4,149.7 583.6,307.1 340.2,242 513.9,136.6 252.7,329.1 528.1,179.7 269.2,322.5 200.6,300.3 467,208.5 487.5,163.7 155.1,275.9 368.5,161.7 611.4,404.2 409.5,174.7 323.9,218.5 466,216.2 512.2,142.4 138.6,261.9 588.8,321.8 271.4,321.5 167.1,290.2 526.7,171 416.6,216.4 260.6,327.8 563.4,260.5 420.4,204.9 233.8,335.4 117,257.2 229.1,336.1 165.3,287.3 554.5,255 425.3,213.4 433.1,223 480.1,185.8 173.9,300.5 467.6,212.4 115.4,254.9 320.7,216.2 346.1,225.4 308.8,224.1 228.3,338 130.3,255.1 361.2,185.3 579.4,300.4 465.5,220.5 570.5,268.8 582.3,309.9 552.3,240.9 135.1,262.9 163.6,283.9 436.7,219 366,160.7 393.4,171.2 152,272.4 614.2,413.9 550.8,234.4 566,258 299.9,224.4 343.2,233 486.3,162.1 344.8,228 486.1,160.1 196.7,304.8 534.9,204.7 232.2,336.7 447.2,224.5 443.6,225.2 144.3,265.9 374.6,151.4 323.6,218.6 574,273.6 131.9,258.7 396.1,191.6 336.2,240.5 485.7,161 461.2,222.2 143.6,261 480.8,183 314.1,212.3 115.1,253 577.6,294.2 448.4,224.7 468.7,204.8 181.2,300.6 615.7,426.7 225.2,330.7 610.6,406.2 421.5,198.1 527.4,181.7 598.5,390.4 253.9,326.3 461,231.3 515.4,140.5 502.8,133.9 561.2,259.9 133.6,262.9 224.7,328.9 576.6,287.3 593.2,354.4 131.4,257.2 501.4,134.9 116.9,252.8 355.3,220.4 388.7,138.1 122.4,262.3 447.7,220.1 560,256.5 316.4,219.6 211.3,291.9 158.3,283.4 190.9,310.2 178.3,301.5 318.4,218.3 193.4,305.7 222.4,318.6 341.9,243.1 381.6,142.6 182.3,302.6 150.2,267.9 527.7,183.7 117.6,254.4 410.8,176.3 226.4,331.3 352.6,219.3 383.2,140.8 559.4,258.6 253.1,330.7 198.6,304 395.4,183.4 243.9,329.7 121.3,261.9 432,225.6 151,273.2 302.8,219.2 204,297.3 547.2,231.9 277.5,312.7 265.5,328.9 472.2,194.1 441.7,226.7 453.8,222.1 406.6,173 427.1,206.3 617,427.7 564.4,257.4 408.9,175.3 477.8,185.2 497.8,137.7 190.3,303.6 266.1,327.3 200.2,300.6 467.1,211.4 421.7,194.6 161.2,283.7 156.9,279.4 555.1,253.6 258.2,328.5 267.1,323.3 503.7,141.4 227.8,333.8 250.3,331.7 129.3,259.9 537.2,214.1 546.8,230.6 212,292.1 480.3,179.6 495,147 439.2,223.4 403.3,162.5 345.5,231.8 460.5,224.5 278.8,304.8 384.1,138.9 225.5,330.6 398.9,174.4 534.2,204.7 479.9,180.2 221.4,315.1 467.9,212.7 200.8,298.5 326.6,212.4 312.2,217 386.8,136.4 140.7,265.1 207.9,296.5 346.8,226.9 384.1,142.4 357.5,214.6 242.2,326.9 257.9,328.9 147.4,268.5 446.1,227 310.7,215.7 393.1,167 236.6,328.9 363.6,175.2 487.5,162.4 231.7,338.9 261.9,328.3 236.5,329 595.6,377.4 458.4,235.2 604.7,410 458.3,233.2 435.1,221.9 199.4,306 600,399.2 539.1,208.7 274.9,320.5 593,358.6 616.9,429.5 452.6,222.3 152,269.5 487.8,162.6 494.4,146.6 175.7,299.3 184.5,307.1 557.4,258 222.4,321.1 406.9,172.9 527.8,183.1 559.3,259.4 306.9,222.3 177.6,303.2 502.7,134 302.8,215 131.7,256.3 317.8,218.1 533.9,199.1 373,152.7 197.4,304.4 160.3,280.2 145.5,263 345.5,231.3 366.4,160.8 262.6,328.5 316.3,220 342.7,240.2 235.4,335.3 324.4,216 276.4,318.1 342,243.8 167.1,293.7 409.3,172.5 339.1,240.1 193.9,303.9 237.1,328.3 546.5,226.5 487,163 249.6,331.2 403.2,160.6 129.2,259.4 507.6,141.1 211.2,292.7 450.2,217.4 153.4,272.7 501.6,142.1 549.1,231.7 481.5,171.7 245.7,324.9 565.2,263.8 139.4,262.2 305.4,216.4 474.9,189.2 617.5,426.1 326.3,209.6 557.9,262.1 298.4,228.4 256.1,331.2 367.4,165 173.7,299.7 275.7,320.3 530.8,185.9 173.3,296.1 513.1,142.6 493.3,149.3 140.2,260.1 496.2,144.1 489.8,158.1 529.7,182.6 590.8,331.8 147,270 425.9,216.6 402.2,164 150.7,273.2 285.9,270.9 620,413.8 565.3,264.4 568.2,259.3 413.9,205.6 136.2,262.5 566.1,262.3 188.7,305.9 498.7,141.1 166.2,286.8 542.7,218.9 263.7,330.8 384.6,139 411.2,184.8 414.6,211.5 274.4,321.7 270.4,321.8 508.2,144.4 453,222.2 328.9,208.4 572.7,272.3 138.9,264.8 365.3,165.5 190.4,309.5 125.5,258.8 223.8,323.7 472.5,195.5 308.8,223.9 371.5,159.4 496.1,142.2 584.5,311.6 488.9,152.7 166.7,287 352.2,223.8 128.7,255.4 158.7,283 468.4,208.7 286.5,268.4 546.3,228.2 493.4,145.1 380.3,148.6 321.5,214.7 378.4,148.3 322.6,216 239.7,328.8 589.2,327.4 347.3,231.4 202.4,298.6 473.4,196.2 290.8,248.5 434.1,217.3 140.2,260.7 517.1,145.9 551.5,244.3 431.9,224.8 122.8,263 426.4,216.4 319.1,221.4 408.5,171.4 577.2,293.7 130.1,253.8 589.5,327.6 207.6,294.9 505.6,139.6 479.2,181.5 162.5,285.4 528.4,181.9 564.9,259.8 293.8,240.5 240.8,332.4 527.3,182.4 201.1,301.1 391.1,157.7 258.3,331.8 317.4,215.9 305.4,214.3 290.7,250.9 222.1,319.4 428.5,209 293.4,239.8 513.9,139.1 573.9,273 191.3,309.2 597.4,386 472.8,199.4 402.5,167.7 420.1,203.1 317.2,217.9 278.8,303.7 567.8,259.5 167.2,293.9 478.6,183.9 184.6,305.8 542.6,214.2 153.4,278.3 580.3,297.9 444.1,227.8 539.9,215.4 323.4,213.6 189.6,302.6 389.6,148.6 319.5,220.3 380.2,149.6 614.9,425.5 535.7,210.3 379.5,147.2 152.2,272.9 218.8,307 404.1,161.6 189.4,304 226.7,328.9 126.5,259.9 128.6,257.6 281.8,296.8 399.4,165.3 213,292.2 534.6,208.3 123.5,256.1 499.6,142.7 576.8,283.8 167.4,293.5 227.9,336 618.7,413.8 420.7,199.6 376.5,140.3 126.2,258.9 460.6,223.4 195,305.6 324.1,212.3 476.9,181.7 490.6,154.5 176.2,297.3 527.5,182.7 507.9,137.5 430.9,220.9 245,326.3 614.4,416.5 436.9,222.1 486,162.4 575.7,277.4 603.7,411.9 169.7,289.6 471.3,195.7 239.2,327.9 608.5,406.7 147.2,267.1 330,212.1 163.5,287.6 201.5,295.4 432.4,225 334.8,237.4 316.8,220.4 479.6,179.5 521.8,151.5 185.1,307.2 387.3,139.6 537.6,206.1 438.5,221.5 187.3,304.1 206.1,296.3 539.9,214 609.4,402 560.5,256.8 458.9,230.5 308.3,219.4 568.7,264.3 611.7,404.8 228.8,333.4 569.3,262.3 495.6,138.9 495.2,139.6 619.2,412.8 317.7,216.8 180.7,303.4 234.1,336.9 596.3,380.9 394.6,178.6 490.4,151.5 488.6,158.2 332.5,234.4 463.3,219.9 482.1,171.6 254.5,326.3 196.9,307 550.4,235.1 248.9,325.4 394.3,178.2 332.2,228.1 320.7,213.6 398.8,175.3 194.1,307.6 249.2,330.4 328.9,208.9 147,269.9 200.2,300.6 242.7,330 334.5,245.3 320,214.7 309.2,220 203,296.1 387,136.8 336.9,239.1 563,260 479.3,183.1 616.5,426.6 592.2,350.3 359.4,194.9 502.5,134.2 330.1,214.6 372.5,154.6 577.4,294.6 258.1,327.4 537.8,205.2 464.8,218.7 506.6,139.9 581,300.4 220.1,311.5 352.9,218.6 120.9,263.6 309.8,220.1 399.6,163.4 303.1,217.2 358,213.2 322.5,214.4 410.3,174.5 366.2,158.3 568.7,260 471,210.8 546.4,222.7 363.3,170.5 449.9,218.4 213.8,293.2 294.1,236.4 383.1,141.3 261.3,329.3 437,224.9 385.2,138.8 168.5,294.1 264.1,330.5 307,223.1 241.4,329.8 518.6,141.8 617.2,423.9 347.8,227.4 338.8,238.7 182.4,300.8 441.1,228.7 544.1,221.8 193.2,306.7 612.1,410.2 169.5,289.2 412.3,199.5 444.6,223.7 318.9,219.2 279.6,301.5 122,258.5 360.3,184.5 413.6,208.2 441.4,224.9 164.6,289.1 296.3,230.4 236.3,333.3 262.7,332.7 617.8,420.7 435.4,218.3 496.6,143.1 145.7,263.3 307.4,223.1 385.6,135.9 524.6,161.5 320.5,218.4 350.3,224.4 452.6,222.9 390.1,151.4 577.7,295 457.9,229.3 477.4,189.2 298.4,222.9 223,321.3 162.9,283.6 301.5,224.3 603,408.2 287.3,267 142.7,260.8 276.1,316 563.9,262.7 233.6,334.7 329.3,209.1 337.6,234.3 397.3,181.3 347,225.2 546.4,229.5 259.2,327.4 467.2,199.4 221,318.3 412.8,202.4 471.7,204.2 539,209.4 331.3,224.1 461.8,220.7 530,194.5 162,287.8 361.5,182.8 307.9,222.3 196.1,309.9 186.1,304.7 516.6,138.2 175.2,300 245.2,326.6 210,290.5 378.3,150 392.7,162.2 478,185.2 298.7,229 452.2,220.6 333.6,235.7 251.2,328.1 173.9,298.3 542.8,218.2 137.9,260.1 463.9,219.7 477.6,191.2 300.2,225.3 225.3,331.8 356.2,216.3 330.4,217.7 155.3,274.7 118.8,256.8 353.2,217.3 498.8,145.1 287.2,269.5 269.8,324.4 216,306.3 168.3,289.2 436.1,222.5 360.9,182.4 160.1,279 287.7,265.8 249,325.4 230,338.6 170.2,291.5 447.5,221.4 211.6,293.8 571.7,272.1 233.5,334.6 165.2,287.6 445.4,222.4 317,219.5 170.5,295.1 528.3,178.3 457.2,232.9 384.5,138.3 592.9,357.4 395.2,184.5 344.5,230.7 598.8,394 369.9,164.8 127.3,257.2 600,396.5 200.9,299.1 163.8,288.2 144.9,266.4 550.4,235.5 276.5,315.4 580.5,300.7 331,226.4 159.7,280.4 184.7,302.6 565.4,260.4 448.6,218.5 596.2,378.7 618.6,414.2 303.8,220.4 385.7,133.5 564.5,262.2 332.4,231 519.2,141.2 571,271.9 600.8,400.3 310.6,215.5 365.6,164.1 443.7,225 483.3,166.7 116.8,256.7 482.7,167 143,260.7 433,222.5 157.2,280.4 614.5,416.8 448.6,218.7 444.5,228 162.3,288.1 127.7,252.9 181.3,301 147.8,265.9 391.8,165.2 390.4,152.6 529.1,197.7 479.9,184.3 148.2,270.8 186.4,302.1 565.7,262.6 180.6,303 237.4,331 467,210.5 344.1,232.9 469.1,200.3 509.2,140.3 288.5,257.9 292.8,241.1 457.1,233.9 534,199.1 314.7,209.5 215.7,299.5 140,260.5 424.4,208.1 219.5,312 238.9,328.3 246.3,326.8 202.1,297.6 152.1,269.6 212.2,293.5 175,300 449.3,221.5 175.8,295.2 459.4,231.9 514.2,143.5 125,259.4 338.7,240.7 496.3,143.2 564.4,259.7 427.8,209.6 426.5,211.5 256.7,326.6 242.2,326.2 192.3,308.2 368.7,164 416,218.4 605.4,412.5 405.6,163.3 606.1,414.4 507.4,142.3 464.6,222.1 265.7,329.3 260.6,330.2 168.6,294.8 616.2,428.6 430.5,220.7 520.5,149.5 556.7,257 426.1,218.6 329.3,209.1 301.6,222.7 567.9,259.6 540.5,208.2 255.5,325.8 127.1,260.1 505.6,136.9 411.4,190.5 169.3,290.3 609.9,405.5 612.8,410.1 459.1,236.7 198.3,308.6 122.6,263 140.7,266.9 217.1,305.7 583.7,305.7 538.8,207.2 172.3,293.3 327.5,213 328.3,212.2 501.5,139.8 180,307.3 127.3,257.3 354,222.9 329.8,214.3 311.4,214.4 168.6,295.2 167.9,294.5 183.1,300.9 235.8,336.1 425.7,213.6 524.3,159.6 430.6,219.4 493.1,151.1 567.6,261.4 305,211.8 613.2,412.7 404.8,164.6 524.5,159 266.6,327.2 609.9,405.1 425.2,214.7 570.6,271.1 349.1,226.7 478.6,188 568.6,261.2 467.6,214.5 602.2,407.7 294.9,236.5 485.8,161.4 230.9,334.2 157.3,281 374.9,151.4 408.8,173.7 160.3,284.1 483.8,166.3 433.3,217.4 271.6,324.9 533.4,204.9 246.5,325 448.1,220.1 187.3,305.6 590.7,335 313.8,209 248.2,327.4 532.6,195.1 404.5,168.5 126.8,261 179,302.6 580.7,301.7 405,169.2 284.8,276.4 145.2,262.9 554.1,251.8 119.5,258.3 212.9,293.3 357.5,213 559.7,257.5 354.4,223.3 548.7,229.8 230.4,336.4 486.6,165.9 294.1,234.2 275.5,317.6 340.2,242.1 599.1,399.4 429.6,212.8 282.1,293 239.2,327 356.9,215.1 460,230.3 597.7,386.3 117.7,252.9 138.2,261.9 584.7,310.9 131.1,254.3 458.5,229.5 544,216 597.2,383.3 521.6,150.9 287.9,262.5 351.7,223 574.8,280 209.4,290.2 582.2,310.4 379.4,148.9 239.8,330.2 333.3,240.9 471.7,199 516,138.9 290.1,247.1 261.5,327.4 282.8,289.1 156.4,280.2 388.9,140.1 502.7,133.9 487.9,158 373.5,147.4 244.1,326 611.2,405.1 132.5,255.4 594.1,365.4 536,204.8 454.9,221.7 272.6,324.3 327.4,212.7 552,246.4 606.6,410.4 261.6,326.9 347.8,225.9 278,307.9 471.7,200.3 131.6,254.9 286,272.5 271.1,324.3 184,307 473.6,201.2 483.8,166.4 562.3,263.7 384.3,140.7 187.6,302.2 591.2,338.5 376.4,143.9 576.1,285.2 519.9,153.8 588.5,319.7 120.6,265.5 454.4,220.1 433.2,217.8 442,224.5 172.9,293.8 323.9,219 227.5,336.6 287.3,269.4 187.9,307.1 137.4,260.5 419.6,202.9 388.6,137.1 502.8,142.8 499.6,143.6 526.6,171.3 251.8,329.8 362,183.4 150,270.4 178.1,303.3 475.1,190.8 327.3,211.2 438.5,221.7 280.6,302.4 395.7,185.7 295.4,230.5 470.5,212.8 369,161.8 152.9,276.8 443.2,225.5 572.9,273.3 603.6,409.9 545.3,221.3 395.8,191.2 341.9,242.3 516.8,146 332.9,232.9 523.5,164.3 500.8,140.6 444,226.2 573.5,273.4 504.1,136.5 196.4,307.2 611.8,408.8 284.1,279.6 426.1,216.1 257.8,328.7 427.1,206.4 423.3,202.5 469.5,211.7 479.9,183.2 573.5,277.8 426.7,211.4 478.2,192.5 182.9,306 469.7,215.2 449.7,222.8 429.1,211.7 524.7,169.7 299.4,224.1 481.6,171.3 178.1,302.3 489.9,157.6 398.1,179.7 588.1,316.5 124.1,263.1 160.4,286.4 381.2,143.8 256.2,330.9 402.6,166.6 322.3,216.7 448.1,224 334.9,244.3 468.6,205.4 317.8,221.1 166.4,285.5 536.3,205.7 430.1,217.1 575.6,282.4 281.1,295.2 237.2,331.2 192.9,306.1 313.6,209.4 167.6,292.4 341.5,236.6 479.2,181.5 519.7,152.7 344.5,232.2 474.3,189.9 298.8,228.5 229.2,336.5 475.8,186.1 606.4,413.6 463.6,200.1 206,295.2 279.1,304.6 476.8,186.8 152.6,275.6 455.3,218.6 549.7,236.1 465.1,219.3 548.3,232.5 198.3,305.6 335.3,243.3 152.2,269.5 295.4,230.2 476.5,188.1 189.7,306.9 177.2,305.1 452.2,215.8 480,186.4 252.1,331.7 556.6,257.9 544.2,215.6 550.3,234.5 127.9,253.5 357.1,214.9 170.1,295.4 308.4,221.6 597.7,388.6 455,221.6 411,180.9 211.5,293.6 249.1,325.9 430.1,219.5 404.2,162 440.6,222.5 139.9,262.3 280,302.3 602.6,405.5 543.6,219.1 598.7,392.6 582.3,306.2 324.1,216.4 348.3,229.1 495.5,138.3 286.7,267.1 209.1,295.6 218.3,308.3 157.2,281.1 565.7,261.7 268.9,325 405.6,167.9 434.9,220.3 542.2,213.9 133.5,261.9 538.2,206.5 124.4,262.1 592.6,355.8 227.6,335.8 195,306.7 227.8,337.1 548.7,230.4 512.7,143.5 166.7,287.9 618.2,419.7 310.2,215.3 202.6,296.5 309.8,218.8 131.8,257.9 310.4,215.1 439.2,223.7 407.3,168.7 455.1,220.2 619.7,416.4 458,235 391.9,163.2 363,184.3 125,262.3 171.7,297.6 365.6,162.2 512.6,142.4 171,297.9 374.1,148.1 434.4,218.6 503.6,140.2 473.2,197.9 401,163.4 266.6,325.5 410.2,172.5 364.6,169.3 131.3,257.2 306.7,216.6 403.1,162.5 355.7,219.7 554,247.9 579.7,301.3 557.9,261.9 141.8,262.5 206.8,294 253.9,326 312,218.9 461.2,222 506.4,146.9 508.8,135 321.8,219.6 592.5,355.2 553.2,251 477,181.8 151,275.1 463.7,223.5 594.2,362.4 595.2,370.7 244.7,325.5 331.3,226.8 583.7,312.6 147.7,266.6 557.6,261.7 409.4,174.2 400.6,168.2 526.8,199.7 390.1,151.2 383.6,139.9 310,221.5 544,216.2 187.3,304.4 211.7,291.6 472.2,191.8 401.7,167.3 247.1,326.3 218.6,307.5 312.5,216 193.8,304 153.7,273 413.4,199.8 340.3,241.5 510.6,138.8 509.2,138.5 421.3,198.8 195.7,307.9 204.9,300.4 392.2,162.4 616.5,426.1 211.4,294.8 554.2,252.4 450.3,218.1 204.7,300.4 260.3,326.7 474.5,191.2 579.6,300.1 263.5,327.3 357.1,217.1 424.9,210.8 541.1,212.9 407.6,172.5 144.5,266.3 473.6,180 127,260.6 497,146.5 374.8,151.6 443.3,225.3 569.9,262.8 446.3,224.1 392.9,162.9 349.5,225.2 581.1,299.2 246.1,327 609.2,404.1 494.1,149.1 229.8,336.1 366.1,162.6 499.1,142.1 404.9,166.9 591.7,342.7 379.9,149.1 124.4,260.9 553.2,248.6 238.8,329.8 460.1,224.6 116.2,257.1 466,217.6 217.1,306.2 273.9,322.2 499.4,143.6 617.6,424.2 448.9,221.2 518.4,145 323.5,213.9 428.8,212.4 518.5,143 459.1,235.9 325,218.3 618.5,414.7 133.1,262.8 521.6,149.8 449.1,222.1 341.1,239.5 206.3,296.7 456.6,232.6 377.2,138.9 329.5,216.3 414,204.9 539.3,213.4 326.5,209.7 240.7,332.1 327.1,213.1 245.5,324.9 245.2,324.8 115.2,249.8 269.5,323 180.6,302.1 246.2,325 160.2,279.2 225.1,325.6 518.6,145.3 390.6,155.9 172.4,299.5 364.3,168.4 504.4,140 236,335.3 208.2,296.8 483,166 155.6,277.9 609.6,404.2 332.1,230.7 382.5,139.9 440.8,222.7 562.6,260 452.8,223.4 180.3,307.4 529.4,188.7 441,227.8 455.8,219.1 530.4,190.6 123.4,256.8 381.3,143.4 565.1,263.6 423.4,209.2 252.5,327.8 613.8,417.4 571.9,274.6 146.7,269.4 308.2,220.7 588.6,319.9 119.7,257.7 466.6,211.8 146.2,267.8 556,256.2 142.1,263 511.1,129.2 236.7,328.7 195.5,307.4 360.9,181.2 395.8,188 422,201.1 116.2,256.7 288,262.4 330.9,221.2 186.4,304.5 305.9,220.8 533.7,207.2 216.5,306.2 583,310.7 223.8,324.3 122.3,258.3 252,328.9 606.3,413.7 293.3,240.8 323.5,215 578.3,298.3 607.9,407.6 119.3,260.1 298.3,224.4 595.5,375.6 299.6,225.6 165.4,289.7 260.1,331.6 345.8,232.2 297.4,232.4 322,217.1 126.3,254.9 251.4,328 349,230.4 174.4,300.5 355.9,217.4 423.3,202.4 379.3,147.9 121.4,258.7 414.2,205.4 243.9,329.5 468.1,212.4 476.9,182.4 592.4,354.5 137.3,265.1 447,226.1 428.4,207.3 310.6,214.9 377.5,146.7 118.6,259.1 590.1,333 139.4,262.3 601.9,407.3 172,296.8 338.3,239 529,186.5 474.4,188.5 205.2,300.7 161.6,284.3 511.3,135.4 267.2,322.6 167.1,292.9 397.5,184.3 292.4,242.9 531.6,198.9 568.9,260.4 476.1,187.8 167.9,293 274.3,321.9 346.1,226.9 520.7,156.6 590,332.3 314.9,213.3 382.3,142.4 411.8,198.1 484.3,162.4 158.7,284.5 353.1,223.4 575.2,278.2 577.9,291.2 474.9,188.9 399.2,171.5 513.4,134 252.9,328.5 416.8,215.3 482.2,172.8 420.3,205 283.6,289.4 381.3,142.4 266,328.9 189.2,306.6 446.1,225.9 322.8,214.5 290.8,248.2 435.7,222.6 283.9,282.2 139.3,261.8 540.3,208.5 595.2,371.2 564.1,260.2 558.8,259.2 580,300 314.5,209 549.2,232.4 560.2,257 543,214.2 253.1,329.6 469.8,216.2 229.2,334.4 563.2,258.8 159.5,279.5 604.2,408.2 347.3,225.7 332.7,232.1 162.6,284.6 553.4,248.5 188.8,304.2 430.9,220.2 557.8,261.8 169.6,289.7 455.5,223.4 528.3,180.4 153.7,273.3 417.8,213.1 172.6,299.7 494.2,148.3 524.3,159.3 561.7,261.7 497,137.6 522.7,152.1 405.1,168.1 478.4,190.2 355.6,217.1 611,403 524.1,158.7 544.7,220.4 502.1,135.4 124.3,262.3 608.4,407.4 219.3,312.4 247.7,329.6 252.8,328.7 473.6,198.1 288.6,259.3 587.3,318.9 548.2,232.1 161.4,286.3 272.3,326.9 515,136.2 287.8,265.9 191.2,307.1 255.3,325.4 319.3,220 314.5,209.9 599.7,398.6 347.1,228.7 573.5,278.1 555.3,255.4 309.7,219 437,223.7 437,220.9 431.8,224 550.9,240.1 235.8,335.8 377.1,143.6 269.9,325.9 269.6,326.8 558.6,259.2 510.9,128.7 399,173.3 194.6,308.4 396.3,195.4 528.8,189.5 572.9,272.8 484.1,166.6 506.8,137.9 123.2,256.3 177.6,302 211.4,293.5 300.9,218.4 573.8,274.1 308.6,220.2 315.4,214.6 233.5,334.6 382.3,141 383.9,142.5 450.5,218.4 207.9,292.7 260,332.1 125.3,260.9 208.8,293.6 398.4,174.1 488.8,156 273.1,321.4 295.7,235.8 369.5,159.4 615,423.6 372.9,156.4 368,166.5 336.2,237.1 390.9,159.6 471.4,198.1 367.6,163.6 542.8,217.3 384.3,138.9 601,397.7 384.9,140.9 396,193.1 533,203.8 174.6,300.1 196.1,309.9 515.6,145.1 322.8,214 265.2,330.3 426.5,214.5 594.4,366.7 246.7,330.2 276.8,315 527.7,176 555,257.7 521,152.1 362.4,181.8 407.5,172.3 286.1,270.5 171.2,293.4 121.5,262.9 280.2,302.3 521.2,153.6 420.6,201.1 284.5,279.3 205.6,299.1 404,161.8 515.7,145.9 153.6,277.3 326.9,209.9 225.4,327.9 445.1,227.4 461.9,225.8 379.9,148 417.5,213.2 305.5,213.2 345.2,231.2 269,321.9 476.2,187 548.2,232.6 604.6,412.1 367.1,162 418.5,212.2 406,169.4 209.6,290.1 473.8,198.8 443.9,224.9 532.9,193.1 282.7,287.8 130.7,256.5 529.9,193.8 218,305.8 281.3,295.7 456.4,233.2 301.4,224.3 527,174.2 526.7,172.2 220.7,318.5 360.2,185.6 482.1,172.1 566.2,259.3 481.7,168.6 367.1,164.7 574.2,273.7 356,216.2 208.6,298.3 161.4,283.6 125.5,258.2 523.2,158.8 192.6,306.6 273.6,325 146.5,269 423,199.9 410.5,176.4 366.8,161.2 614.7,420.7 541.1,210 528.7,187.8 603.8,411.5 428.1,205.8 154.5,276 169.2,292.4 307.9,223.7 201.8,295.6 597.4,384.2 460.6,224.9 227.2,331.5 421.8,194.3 502.9,141.7 216.9,306.9 504,139.7 498.2,137.6 247.3,331.4 429,207.8 373.4,152.2 598.2,391.9 305.7,214.6 465.8,218.7 361.4,185.2 400.1,160.9 553.8,246.7 122.1,258.5 432.8,223.8 222.7,320.6 452.6,222.7 483.6,169.3 566,264.2 427.6,204 620,413 331.7,228.4 135.6,260.7 263,330.1 582.7,309.6 200.6,300.8 405.8,166.4 162.6,282.8 220.1,311.4 569.3,262.3 486.5,162.8 452.7,222.8 361.7,183.2 176,295.6 471.5,202.2 152.4,269.8 358.1,211.1 440.3,223.2 256,331 304.5,212.3 261.6,326.8 204.5,301.8 232.2,333.5 191.6,303.8 263.1,329.4 232,337.1 405.6,167.8 423.7,210 250.6,328.8 542.1,213.8 454.1,222.3 257.1,326.6 320.3,215.4 133.2,262.4 126.9,260.3 251.3,328.2 138.6,260 482.6,167.2 143.7,266.5 519.8,148.8 505.3,134.7 287,269.1 252.4,326.3 277.8,310.9 207.4,297.8 377.5,139.3 296,233.9 168.1,291.4 538.1,210.3 456,220.8 244.3,325.3 591.3,334.9 323.9,219.1 148.5,267.6 288.2,258.1 153.2,277.9 402.4,163.3 563.8,263.7 237.8,329.9 268.4,328.5 522,149.9 132.9,255.5 439.5,223.9 443.6,225.3 172.2,295.6 308.1,222.5 477.7,190.2 508.7,142.7 200.4,299.8 587.6,319 546.1,224.4 513.3,134.9 148,270.3 284.3,282.7 249.5,330.6 444.8,227.6 339.7,240.8 406,169.6 267.9,322.5 205.8,300.3 336.1,238.9 530.8,186.5 479.7,174.1 543.5,217.9 474,182 287.9,265.7 130.9,255.1 586.5,319.4 575.1,279.3 406.3,170.9 289.7,251.8 542.1,214.9 396.2,191.5 315.8,217.8 115.2,255 462.2,224.4 311,214.9 607.4,406.2 161.9,285.5 579,297.6 172.7,293.2 366.8,160.8 164.2,288.4 534.9,203.3 490.9,149.6 570.2,270.4 546.9,230.1 252.2,327.6 163.9,289.2 340,240.4 297,229.7 436,218.9 437.5,222.7 214.3,299.9 315.8,218.1 149.6,266.3 186.2,302.5 245.8,326.5 500.3,137.2 581,301.7 543.3,215.3 553.4,246.2 511.5,138.5 383.1,140.5 400.7,165.7 526.5,180.1 512.1,133.2 567.4,260.5 345.8,230.2 537.4,208.9 378.6,146.3 297.1,231.5 242.8,329 285.7,275.5 243.5,329.5 195.8,309.9 215.6,304.7 344.8,233 472.7,186.2 396.8,192.8 410.8,179.4 218.2,307.1 224.7,324.7 151.5,270.9 197.9,304.6 218,307.6 350.6,227.7 229.1,333.3 176.1,296.2 601.7,402.4 214.6,295.5 330.2,214.9 178.6,306.7 351.9,221.8 149,271.2 385.9,134.1 384.7,142.8 321,215.9 256.7,329.8 474.8,189.8 205.6,297.7 507.2,134.1 424.7,210.4 437.9,223 173.1,293.4 481.3,183.5 157.9,281.5 397.7,180.7 456,220.3 303.6,220.5 574.4,274.3 349.5,225.6 522.1,155.4 221.1,319.6 134.2,264.7 347.6,225.6 272.1,324.5 265.2,325 284.8,278 571.2,268.6 587.5,320.5 216.9,305.9 332.9,232.8 333.1,232.9 404.3,160.9 505.6,138.3 349.1,228.4 437.2,225.1 299.8,224.3 223.8,323.1 437.4,223.6 462.3,227.5 401.6,166.8 303.3,220.9 215.3,300.3 429.6,216.7 593.1,358.5 308.7,221.1 454.5,221.6 125.4,259.1 283.5,290.9 530.6,185.2 326,213.9 602.3,405.9 160.8,286.7 237.4,328.1 381,143.6 349.9,222.4 134.2,261.1 445.6,222.4 512.5,142.9 456.8,229.9 196.2,309.8 563.8,260.5 195.3,311.6 469.2,209.7 568.3,260.4 607.5,405.5 130.3,257.3 496.9,136.9 362.2,185.4 281.7,294 353.6,220.1 163.9,290.2 462.2,225.6 484.1,169.2 429,210.7 438.5,221.9 600,402.2 539.7,210.2 578.3,296.8 213.7,295.8 467.2,214.6 210.7,289.9 588.7,320.2 286.1,271.5 452.3,218.8 146,266.1 186,301.2 262.4,331.2 431.3,221 593,356.3 601.8,406.7 178,300.2 515.4,143.2 209.9,291.3 380.9,149.1 366.6,160.3 460.8,222.3 414.7,214.8 260.4,327.9 506.1,138.5 354.3,219.2 519.1,150.3 455.7,221 479.5,180.7 234.8,331.4 257.3,326.8 438.1,227.3 399.6,164.8 317.3,215.7 207.3,298.9 300.5,225 551,239.3 193.7,304.8 481.8,167.7 201.7,295.4 116.1,256.7 302.6,218.2 197.6,304.2 400.5,163.4 613.4,416.7 373.6,151.3 296.8,230.9 149.8,266.4 606,411.8 548.7,229.6 535.6,210.7 418.7,211.6 144.1,262.8 470.6,207.9 215,302.3 574.7,276.5 490.7,147.2 415.7,210.7 241.5,325.9 385.8,133.7 247.6,329 134.5,261.1 304.2,215.4 333.8,239.1 198.9,304 380.8,148 360.1,192.1 121.3,259.2 477,186.8 316.1,218.8 496.3,141.9 557.6,257 290.1,248.3 299.8,220.8 258.5,331.9 311.2,214.9 613.5,416.6 560.9,263.5 350.9,220.4 297.3,230.8 543.7,220.5 285.4,272.2 406.9,169.7 439.1,228.2 222,316.7 604.8,412.2 419.7,204.1 411.8,196.6 586.1,317.4 423.4,210.2 129.5,256.9 293,237.3 234.6,334.3 358.4,199.7 130.6,253.4 403.1,161.4 183.1,305.1 571.8,269 608,404.4 458.6,228.5 538.7,210.8 225.6,330.1 449.2,221.4 341.4,237.6 591.7,344.1 245.2,326.6 202.7,297.9 412.5,202.8 330.5,218.4 246.6,326.2 292.7,244.1 266.4,329.2 280.1,301.2 604.1,409.5 549.2,232.4 407.4,170.1 434.5,222.3 156.3,279.2 268.9,322 272.8,321.7 489.6,158.7 472.5,194.5 225,327.6 172.7,299.1 209,295 311.5,216.5 188.9,306.4 356.6,218.1 577.3,294.2 475.2,187.5 516.7,145.8 611.6,402.8 470.1,213.5 293.8,239.3 609.1,405.7 513,133 537.7,203.3 515.8,135.6 190.2,303.7 290.1,247.2 465.9,211.2 441.2,225 223.2,320.9 546,221.1 291.1,247.6 215.9,305.2 228.7,336 359.4,194.5 117.2,254.8 343.4,233.7 577.2,286.4 186.8,302.3 495.1,146.2 293.8,236.3 350.3,221.9 335.4,242.7 451.4,216.6 570,270.7 273.6,324.5 556.1,257.4 199.2,304.5 336.4,242.2 395.4,185 158.2,284.4 583.2,305.2 388.8,137.3 418.4,211.9 125.9,254.5 140.3,264 303.2,221 201.5,298.2 462.8,228.1 289,257.7 367.6,165.8 566.5,260.8 337.6,240.8 176.8,298.8 483.2,163.8 300.8,218.7 257.7,328.3 444.5,224.6 174.9,299.9 417.2,213.6 159.1,285.3 550.8,235.2 485.9,162 126.5,254.8 255.1,325.6 554.9,257 314,212.8 407.5,172.3 534.5,207.7 148.3,268.6 165.1,286.8 479.3,178.6 505.3,138.2 215.7,297.9 520.7,153.2 497.4,138.8 242,326.1 469.9,215.7 576.8,288.4 369.7,164.2 306.5,217.4 618.9,416.4 373.8,147.1 488.8,159.5 393.6,172.9 158,284.2 262.3,327.5 519,150.9 592.1,347.2 330.6,220.7 591.1,334.1 337.9,234.6 300.7,224.4 408.9,175.4 140.4,262.1 562.9,261.8 375.6,143.8 561,259.6 185.9,301.2 276.1,315.4 547.7,231.7 250.7,327.9 272.9,321.5 336.8,241.2 335.7,242.2 422.4,203.2 316.5,216.9 138.8,264.3 212.2,295.2 217.6,306.7 346.5,230 403.9,161.5 226.7,329.3 168.4,294.2 604.1,410.7 337.8,232.6 535.8,208.7 458.7,228.8 431.1,218.7 274.9,320.4 615.5,426.7 259.4,328.7 214.6,295.4 434.7,217.2 369.9,159.3 612.7,409.1 311,215.1 497.8,137.4 365.9,158.8 564.9,262.2 279.5,305.5 527,178.2 489.6,158.5 262.5,328.2 173.3,295.7 329.9,213.8 424.3,209.2 596.9,382.9 351.4,227.3 146.9,269.3 466.5,212.9 146.1,266.6 555.7,255.2 576.4,289.7 377.5,139.7 131,254 444.2,226 275,322.6 571.4,268.5 132.5,254.5 391,154.1 397.8,178 263.2,332.3 445.7,226 545.4,222.3 503.3,142.7 163.5,285.2 199.6,303.9 246,326.4 599.4,392.4 388.3,142.4 349.2,224.8 422.5,200.8 595.3,372.9 233,334.3 504.9,142.3 603.3,407.3 579,300.3 150.9,274.4 159,285.2 396.7,189.1 485.4,159.8 504.1,137.7 198.4,304.4 416.2,218.6 338.3,241.2 238.2,332.7 443.1,225.5 336.7,241.6 506.5,145.3 449.6,219.2 321.3,214.2 185.9,304.1 260.7,327.4 323.1,215.4 307.7,222.7 463.2,220.9 494,151.2 534.5,203 567.1,257.9 417.5,213.8 538,205.2 173.7,300.3 203.3,294.8 238.8,331.6 475.4,190.7 199.4,303.9 485.6,158.3 573.9,276.3 331.2,222.5 596.8,386.3 388.9,138.7 414.6,214.1 419.3,208.5 609.5,402.3 537.8,203.6 237.9,331.6 187.6,301.9 461.5,219.2 133.9,263.2 125.9,260.5 203.4,295.9 543,218.9 325.4,217.3 373.7,147.1 177.3,301.1 241,329.6 544.5,219.2 421,201.5 501.1,141.4 360.6,184.4 466.3,213.6 217.4,302.9 317.5,219.4 356.7,213.9 601.9,409.7 221.2,318.9 158.3,284.1 561.3,261.6 210.4,292.1 224.4,328.4 554.7,253 165.5,291.8 528.6,185.9 464.2,223.3 413.9,210.4 587.8,316 566.4,261 376.8,141.6 462.6,224.6 269.1,322 163,285.4 604.6,410.7 188,302 166.2,286.3 428,206.2 208.3,296.8 573.2,273.8 266.9,324.7 374.7,147.9 361.3,182.1 370.9,155.8 300.3,225.7 399.6,165.7 540.9,214.7 576,283.6 296.1,231.3 607.1,410.3 192.9,307.4 373,149.4 414.1,208.8 450.3,217.3 619.4,415 484,166.3 254.8,329.7 179.7,300.3 364,170.5 539.1,207 330.2,218.4 297.6,227.1 399.8,167.7 155.9,280.5 165.5,290.2 512.5,136.9 506,137.4 599.6,393"/>
<polyline fill="none" stroke="none" marker-start="url(#mr)" marker-mid="url(#mr)" marker-end="url(#mr)" points="320.7,223.8 318.9,223.3 291.4,247.6 207.4,276.9 128.1,260.6 197.3,268.3 300.8,234.5 249.1,317.7 555.8,284.4 360.2,196.7 323.3,225.9 248,320.2 618.7,429.6 270.4,321.8 549.4,258.7 586.7,334.2 256.6,324 565.2,273.4 564.1,269.6 518.5,158.7 522.1,238.4 338,240.7 302.9,217.8 569,274.6 590.4,347.9 176.1,270.6 396.9,193.4 121.8,270.4 493.2,152.9 190.7,294.7 449.9,225.2 534.8,228.8 244.2,316.6 267,320.9 149.3,279.3 155.9,281.8 607.9,427.9 490.8,152.5 134.5,262.6 593.4,377.9 441,229.9 591.4,362.4 130.4,258.9 281.2,295.1 186.4,291.1 567.5,271.4 193.6,295 365.8,167.4 119,268.3 513.6,204 401.2,168.3 606.5,424.3 301.3,224.6 408.9,174.3 579.2,326.1 257.6,321.6 495.8,146.8 304.9,215.1 190.9,298.7 356.7,220 531.9,229.7 231.9,333.3 248.3,318.6 215,285.8 331,240.7 371.1,164.7 184.7,285.2 538.3,216.7 511.9,175.3 457.6,237.6 560.5,275.2 413.2,204.3 310.8,218.3 311.7,219.2 476.1,211.2 426.6,212.6 540.7,235.4 577.9,320.9 355.6,222.2 264.6,321.2 528.2,226.5 604.7,427.5 502.7,145.7 507.3,152.4 349.5,232.1 252.6,320.1 603.5,427.3 518.4,212.8 386.8,145.1 492.1,151 184.1,281.5 129.8,262.2 546.1,248.6 197.6,272.5 133.5,269.4 588.6,335.7 151.1,279.4 213,286.2 500.5,145.3 494,146.9 549.7,257.9 383.3,144.6 362.4,198.4 457,233.9 425.7,223.4 194.7,276.1 428.3,217.6 361.1,196.2 156.1,280.6 511.2,183.8 259.2,325.9 179.8,277 137.9,261.9 515.8,213.5 208.1,273.1 182.7,279.5 604.4,423 217.8,301.8 562.8,268.4 544.9,256.7 552.1,260.9 366.9,164.8 306.5,228.9 176.7,293.2 309.7,226.8 200.9,268.1 282.5,289.3 145.9,271 590.2,345.4 535.3,227.4 474,222.1 452.1,225.6 278.1,305.4 461.2,236 312.8,217.5 145.5,271.3 449.6,223.3 336.6,240.5 323.9,236.6 239.4,318.4 284.3,273.9 514.7,198.9 444.4,233.9 516.8,221.4 576.5,308.2 177.3,289.1 617.1,437.9 430.4,222.9 521,243.8 544,253.5 591,357.7 426.1,219.6 550.6,253.7 344.3,233.3 266,320.8 321.5,225.2 395.2,188.5 138.2,263.3 533.7,238.7 569.3,277.3 140.5,266.8 539.9,223.5 334.1,249.1 235.4,322 455.8,231.8 447.4,226.8 409,177.7 140.8,264.2 141.4,265.7 269.9,322.4 387.3,148.6 470.2,231.6 460.8,235.3 319.9,219.6 195.9,281.9 517.1,221.8 261.8,322.7 238.6,319.1 361.8,201.1 329.1,222.8 313.6,220.3 367.2,165.4 459.8,241.3 369.2,166.7 486.4,176.6 570.7,294.4 347.3,234.8 355.9,225.8 317.8,224 521.3,244.8 129,256.4 276,315.6 535.6,226.7 309.4,228.4 336.8,243.2 221.1,310.8 251.2,320 124.9,258.9 228.3,329.7 513.1,184.1 566.6,268.4 153.6,275.4 178.5,286.2 474.5,221.2 187.1,274.4 405.9,168.6 509.5,163.1 310.3,224.9 568.5,273.8 512.9,181.6 295.4,241.5 414.4,215.1 179.1,282.1 488.7,163.3 148,273.4 439.2,229 365.3,171.5 268.2,325.7 448.9,229.5 145.2,270.7 391.7,166.6 414.1,212.7 569.3,278.7 197.3,265.6 360.8,193.1 131.6,266.4 489.3,154.8 243.7,321.8 533.4,235.1 560.2,275.6 401.1,173.4 404.8,168.3 458.3,240 184.9,282.9 388.6,150.7 283.3,283.4 480.6,193.4 581,324.9 615,441.4 125.2,257.9 324,237.4 132.7,267.6 331.8,240.5 546,249.1 144.1,269 194.4,274.4 583.7,330.8 233.9,323.6 501.4,142.5 127.8,255.3 617.9,431.7 539.5,212.8 393.2,176.2 200.2,264.3 150.4,280.3 341,245.2 596.7,402.3 377.9,158.9 198.4,272.4 139.1,266.5 279,301.9 296.3,234.4 397.3,189.2 224.7,324.5 505.9,201.6 418.2,212.6 515.3,208.8 270.3,321.7 434.8,228.5 311.8,220.1 220.9,315.5 484.3,185 181.6,282.3 581.6,327.3 416.9,218.9 449.2,229.3 162.6,289.4 189.1,278.1 206.3,277.6 206,282.7 447.1,231.3 560.9,272.4 156.4,281.9 499.1,145.5 619,430.7 405.2,166.1 611.5,424.2 282.6,286 547.1,248.6 413.5,207.9 211,272.7 372.9,153.5 193.6,298.8 185.9,277.6 532.8,239.1 158.2,280.6 481.9,188.8 214.3,284.2 251,322 281,296.8 300.1,232.6 433.2,221.1 218.2,301.7 400.6,164.5 483.9,181.6 597.8,404.6 351.9,228.2 332.2,238.6 185.6,284.5 206.4,276.1 441,231.4 323.8,230 396.2,199.5 582.7,326.2 115.4,261.2 402.7,169.4 612.2,422.9 282.2,285.6 151.8,280.8 619.8,422 598.8,410.1 170.3,302.2 335.2,245.3 412.8,206.7 178,284.2 335.1,247.6 529.6,222.7 187.6,277.2 328.6,219.5 200.4,265.5 366.1,166.5 529.9,223.1 574.1,309.1 615.3,437.6 462,234.8 485,177.9 379.8,155.1 526.1,234.3 167.9,308.5 227.4,334.4 618.2,434.7 305.9,226.6 182.3,277.8 526.9,231.2 413.1,203.3 199,269.9 421.7,205.8 602.9,427.1 221,315.2 428.8,214 326,222.7 318.4,224.7 403.7,172.1 251.8,323.1 584.9,329.8 550,253.9 170.1,304.8 381.2,152.7 281.6,288.5 523.7,237.8 144.3,275.1 255.7,323 510.7,171.7 489.2,162.9 579.4,326 124.8,261.1 173.1,300.7 382.3,145.4 609.2,423.7 339.2,250.5 135.6,261.8 147.9,273.4 316.8,222.4 321.6,227.1 179.3,278.1 521,246.5 485.6,179.6 322.9,229.3 132.1,266.6 600.7,417.6 323.1,230.5 169,301.5 138.6,262.7 528.9,225.4 217.7,299.3 149.6,276.6 249.2,315.9 156.4,283.1 446.6,232.9 126.1,260 230.5,331.4 545,255.5 278.9,304 558.7,275.7 354.5,225.7 607.8,425.1 477.1,202.1 454.4,229.3 615.4,450.1 526.2,235.1 422.5,208.9 177.8,285.2 490.5,153.6 447.2,228.9 200.2,264.7 507,155.1 424.1,221.9 250.1,322 502.3,147.1 340.3,247.3 393.6,182.8 501.8,147.7 142.7,265.4 433.9,230.4 284.5,280.5 249.9,321.5 516,220.9 405.4,167 476,212.8 184.4,279.5 125.3,257.7 156.8,284 176.1,288.9 512.2,183.1 145.1,273.9 338,240.3 478,192 189.9,286.9 176.2,280.4 202.1,270.5 215.1,284.9 302.7,220.1 226.3,330.7 386.1,143.9 467.7,230.9 274.1,319.8 422.3,206.5 580.3,327.2 232.5,326.9 213.4,282.4 246,318.9 260.7,324.5 542.9,249 325.6,216.9 594,382.2 481.4,189.7 440.8,230.3 348.1,235.7 480.3,190.4 229.3,329 432.7,226.9 601.6,418.2 359.7,200.7 188.4,276.1 257.8,324.2 129,256.8 267.7,322.4 341.8,248.1 132.6,267.2 302.7,220.5 229.8,330.8 132.5,264.7 282,287.6 441.3,232.1 483.5,187.2 329.8,225.5 271.5,321.3 220,310 335,256.4 162.7,287.9 413.4,210.2 528.6,226.6 424.4,222.9 137.9,263 513.5,193.2 146.7,274 189.3,285.5 295.3,241.4 262.8,322.8 357.2,228.9 397.2,191.3 142,268.9 398.2,183.8 325.5,219 375.4,153.8 242.2,319 576.7,309 511.9,176.6 297.4,231.5 273.8,324.5 604.7,424 195.1,299.6 128.3,255.5 257.8,324.5 182.9,279.4 277.2,307.9 600,418.4 436.3,225.4 320.5,222.7 577.7,321 280.8,296.9 392.2,179.7 491.2,150.3 604.1,423.1 142.2,266.4 453.1,220.8 150.3,278.6 518.1,209 556.1,282.2 544,249.5 257,324.7 451.2,222 246.1,320.4 383.5,144.1 286.4,277.2 231.9,331.6 181.5,282.3 199.1,265.9 124.9,260.7 164.1,291.5 160.6,289.8 222.9,319.2 215.9,284.1 165.2,300.7 592.5,375.8 292.1,242.7 462.9,235.9 560.4,273.1 300.6,231.7 213.5,284.3 138.1,262.6 348.8,234.6 250.9,322.2 481.7,191.1 219.1,304.5 552.3,257.5 434,230.4 191.1,290.5 421.2,206.7 172,307.8 481.6,189 261.8,321.8 280.5,295.2 210.8,275.1 354.1,227.1 551.8,254.9 292.5,241.4 444.7,237.3 320,220 243,317.9 588.7,338 605.8,423.4 616.3,440.1 442.4,235.9 577.5,320.9 443.4,233.9 505.9,152.8 588.9,338.6 323.6,231.2 339.7,248.4 135.7,262.2 350.3,231.4 606.7,425.1 425.3,220.2 371.5,165 347.3,241.6 166,299.6 237.6,321.4 203.4,276.7 131,263.5 164.4,292.4 610.2,417.3 175.3,290.8 516.7,221.4 348.9,231.1 293,243 127.9,257.6 599.8,416.8 587.3,333.6 466.6,233.2 269,324.9 402.6,169.6 575.6,314 547,248.5 264.3,325.4 512.3,182.4 353.5,233 456.9,233.7 392.9,172.7 585.3,331.8 307.4,225.4 115.1,265.5 195,291.7 541.1,230.3 205.1,280.8 216.3,284.5 357.7,228.6 510.8,166.4 472.3,233.5 176.7,290.7 507.4,154.4 214.3,284.1 210.6,280.4 482.3,185.5 121.1,270.2 586.4,328.9 166.5,303.3 410.8,189.9 553.3,269.4 399.1,174.2 500.8,145.5 573.9,304.5 557.1,274.1 189.2,277.4 267.9,322 432.9,224.3 131.3,265.7 611.8,424.5 201.6,276.9 363.5,203.1 435.1,227.6 165.9,304.1 375.6,152.8 425.1,219.1 403.8,172.7 227.6,332.1 592.2,371.5 567.8,270.9 464.5,234.4 380.2,148.6 196.5,270.2 473,232.2 222.4,316.5 579.1,322.7 601.4,422.5 236.9,325.9 436,225.8 172.5,308.3 166.4,301 381.1,155.1 209,278.7 190.8,292 484.8,179.6 420.8,206.1 508.2,156.8 342.7,248.6 602.4,426.7 614,428 376.4,149.5 612.6,423 575.7,314 468.5,228.5 396.6,209.6 542.8,250.2 212.5,273.6 119.3,267.7 205.7,275.6 140.9,264.9 342.4,247.3 550.8,259.1 115.8,267.7 520.8,243.5 506.1,151.2 407.7,170.9 452.5,225.3 559.3,275.4 187.7,275.5 298.6,229.3 459.2,239.6 498.6,147.7 269.3,322.1 189.4,279.5 570.4,281 396.7,215.6 225.4,329.1 376,153.8 216,282.4 572.3,295.1 175.1,294.5 489.1,162.6 216.6,287.1 432.2,223.1 447.7,231.8 284.4,279.2 236.1,325.9 232.4,332.3 472.3,234.7 536.8,220.3 543.7,248.7 130.6,262.1 418.8,219.1 577,314.5 616,442.3 389.6,150.7 492.8,149.5 164.8,300.2 315.4,221.4 616.6,434.8 171.2,303.4 387.6,142.1 414.3,216.5 239.5,324.4 546.2,254.9 177,290.3 355.9,219.5 574.8,306.1 405.2,165.6 191,301.1 356.3,219.6 367.4,167 510.1,164.9 181.1,275.8 201.2,260.5 389.1,146.8 295.9,232.6 458,242.4 287.6,271.3 362.8,204.3 409.8,176.3 372.5,157.6 605,423.3 422.6,208.4 503.1,144.7 354.2,224.7 593.5,380.7 227.1,327.9 218.2,302 304,219 336.2,245.4 591.2,359.3 474.9,222.2 165,300.3 444.5,235.6 364.1,202.7 280.4,297.2 127.6,253.9 303.9,219 143.1,272.3 462.5,233.3 296.4,241.7 141.9,265.9 347.7,243.2 305.4,225.1 290.6,249.5 389,144.3 438.7,230 181.8,278.8 411.3,198.1 519.1,194.9 202.9,280.1 383.8,146.9 531.7,233.8 496.3,144.9 160.3,290 520.7,248.9 554.9,279.1 196.8,268.8 568.5,275 192.6,283.9 339.5,245.2 315.3,222.5 581.9,321.8 366.8,164.5 469.3,230 509.7,159.7 169.4,309 246.3,322.3 164.2,292.2 379,158.7 448,224 173.7,302.6 242.1,319 529,225.3 580.1,324.7 130.2,256.1 434.6,225.4 173,301.1 343.5,239.1 499.3,143.5 172.7,306.5 462,234 581.2,324.1 412.6,208.6 528.6,229.3 286.1,277.1 174.7,295.8 332.3,240.5 338.3,244.8 567,271.8 210.5,281.3 294.1,241.7 197.3,264.1 119.3,270 481.9,186.8 221.8,313.6 136.7,266.9 298.3,230.3 171.2,304.7 566.3,270 234.8,323.1 135,262.7 352.6,231 557.2,275.5 496.2,147.7 225.2,326.2 302.9,217.5 566.2,272.5 586,328.1 177.8,290.3 421.9,207.2 512.6,180.9 609.5,420.8 123.7,263.9 517.3,183.4 118.8,269.3 501.3,146.7 327.5,223 219.2,308 429.1,216.5 348.6,229.5 422.2,204.9 237.6,323.1 259.2,326.5 513.5,191.7 597.9,407.1 121.6,270 391.1,166.4 224,322.8 203.5,273.4 311.3,221.2 231.7,334.7 251.5,319.3 259.5,321.9 277.8,308.8 399.6,174 397,192.8 161.2,286.5 390,157.6 380.9,151.8 610.3,415.5 372.6,157.4 263.2,325.8 504.8,151.4 127.7,254.1 591.4,365.6 203.6,272.2 429.4,222.5 528,230.4 617.3,436.7 339.9,250.5 526.3,223.1 289.6,253.4 368,174 351.1,231.2 175.9,284.2 135.1,263.9 552.6,260 168.6,303.2 288.2,264.2 155.3,277.6 446.4,228.6 502.7,144.2 530.3,223.3 176.1,287.1 499.9,142 386.9,146 505.2,145.4 459.7,240.5 197.6,273.1 581.7,321 309.5,231.6 357.2,228.2 479.7,196.6 587,334.8 193.8,297.5 352.2,228.3 431.1,226.6 133.8,264.2 506.3,151.3 345.1,239.9 596.5,402.1 587.5,334.2 477.7,199.4 167.3,305.2 310.4,220.4 202.5,278.2 404.3,168.2 258.9,327.3 491.8,148.6 541.6,239 330.2,230.8 163.7,292.2 348,239.9 528.3,228.6 144.6,273.2 430.6,222.2 407.5,168.7 394.2,188.7 366.5,168.3 258,324.9 479.2,193.8 184.3,295.5 475.8,211 574.3,312.9 553.2,274 428.8,214.8 255.8,320.9 396.6,205.3 139.9,267.8 351.5,225.9 139.3,267.7 501.1,145.9 258,324.6 170.8,303.6 542.8,251.4 559.7,271.6 184.1,287.9 598.1,412 534.5,230.2 408.3,173.8 615.8,447.9 248.3,317 305,214.7 569.4,280.4 152,273.7 444.9,236.2 616.7,438.9 389.3,147.8 445.3,233.6 471.1,230 327.4,222.2 363.6,200.6 312.4,221.1 594.4,391.9 326.9,213.1 498.2,144.5 176.8,295.6 278.4,307.2 133.5,263.4 248.4,318.7 614.6,437.7 317.5,226.1 355.9,219.2 595.5,395.6 461.4,238.7 347.5,239.8 367.8,173.8 193.9,288.3 239.3,323.2 361.9,200.4 534.4,232.7 597.6,402.3 245,321.3 315.3,219.9 283.5,283.2 596.4,397.1 438.1,230.5 539.3,212.1 400.4,163.3 375.1,148.9 396.4,211.2 190.6,291.1 618.7,430.7 209.9,281.6 307.9,228.7 556.5,276.4 578.5,327 453.3,229.3 324.9,220.7 167.7,308.4 325.7,221.4 468.2,230 132.6,263.2 607.4,427 317.5,223.9 166,305.5 460.9,235.5 597.9,405.4 342,256 419,216.9 182.6,282.1 294.6,239.2 266.3,320.7 152,280.4 324,239.9 265.8,320.2 241.8,320.1 372.8,154.2 410.1,182.6 615.7,442.1 442,232.1 477.4,199 548.6,252.3 347.4,242 178.2,286.6 290.9,247.1 515.7,209.8 580.8,326.3 317.1,225.3 330.9,233 582.4,326.2 170.8,306.6 149.4,279 415,219 285.8,273.5 373.2,155 156.3,277.8 423.6,212.6 214.6,284.1 610,416.5 522.4,236.5 469.1,232.8 432.5,222.7 372,163.8 385.4,142.7 252.3,321.2 380.8,149.1 434.2,223.7 487.2,166.2 161.4,290.7 116,261 319.6,221.8 569.1,272.7 155.7,276.6 411.5,194 419.2,215.4 438.9,227.9 543.6,257.1 507.9,154 275.6,313.8 445.4,233.4 212.5,284 358.6,218 450.6,224.6 419.1,215.5 589.1,344.1 249.8,321.3 235.6,324.6 123.3,261.7 193.4,291.5 378.6,154.5 404.7,172 208.3,279.9 138.9,264.2 557.8,273.5 139.6,270.6 307.1,224.5 287.9,266.9 378.4,150.7 619.6,422 216.6,287.1 544.7,259.1 349.8,235.6 462.3,234.1 513.1,184.7 470.9,235.9 614.5,435.7 517.8,221 561.8,276.7 338.6,248.3 602.9,423.2 300.2,231.3 224.2,321.8 259.9,325.1 419.7,209.6 357.5,223.8 195.8,282.2 475.1,220.9 215.2,282.5 522.4,240.1 573.2,306.2 165.8,302.5 318.5,223.6 139.2,263 389,146.1 371.5,160.7 147.4,279.6 568.3,276.7 405.3,165.7 156,281.6 363.3,203.5 567.3,272.6 593.7,383.4 559.1,277.8 126.7,258.7 284.8,275.7 435.7,225.7 590.1,346.8 590.4,347.3 241,319.6 467.5,232.7 490.5,150.3 398.4,182.9 507.4,189.8 187.2,276.7 260.3,327 493.4,150.3 525.5,237.4 274.6,316.2 243.1,318.9 455.4,229.6 222.2,316.1 189.2,282.2 484.8,183.2 192.3,283.4 382.9,147.8 375.4,154.8 305.7,225.7 389.5,146.2 567.8,274.4 526.8,233.9 240,321.4 347.2,240 196.3,271.7 227.8,331.5 186.9,276 323.2,228.9 521.2,247.7 188.3,278 146.4,275.4 442.7,234.5 448.3,226.2 434.7,227.1 273.7,324.4 274.7,318.1 531.3,229.9 423,213.6 327,215.6 535,227.8 143,266.9 252.9,320.8 296.5,239 595.4,392 554.9,272 385.9,146 159.7,290.3 186.8,276.8 195.5,284.4 172.1,303.5 193.2,287.1 589.6,344.6 394.6,185.5 284,279.7 169.9,304.8 224.7,324.1 343.1,238.9 263.5,323.7 373.8,158.2 519.5,229.7 526.7,233.2 572.7,302.4 578.4,324.2 250.2,317.9 614.1,428.4 465.8,235.9 554.3,270.9 423.5,214.6 481.3,188.6 602,421.4 375.4,155 363.2,201.3 416.8,217.3 553.4,274.2 325.8,221.3 173.1,301.6 137.1,262.7 324.2,226.9 529.8,225.1 182.2,279.8 601.8,421.8 424.4,221.4 553.8,272 408.4,174.5 208.6,282.6 392.7,171.5 585.9,329.4 374,155 243.3,319.5 303.9,218.2 115.7,267.2 540.8,231.9 235.1,326.3 491.3,154.4 238.6,325.4 124.4,263.3 264.9,321.3 338.9,250.2 216.3,287.8 513.8,195.5 130.4,263.1 604.3,423.1 343.1,238.8 248,319.2 506.3,150.1 192.5,283.7 376.8,151.3 515.7,214.7 456.1,233.7 118.6,270.9 601.7,424.1 422.9,210.5 615.7,444.5 379.4,159.7 324.1,229.1 558.9,272.1 121.9,265.4 251.5,319.4 246,317.4 595.5,397.4 470.8,233.9 121.7,268.4 558,273.4 492.4,147.9 194.3,285 508.9,156.6 147.8,273.3 278.5,309.2 402.1,164.8 356.9,228.3 533.5,233 170.4,305.2 226.7,332.2 186.1,286.7 199.8,262.4 128.6,252.9 293.5,248.8 560.8,272.6 123.9,265.2 418.5,220.6 420.7,202.8 426.6,214.1 332.5,240.5 606,424.9 160.4,288.4 251.1,323.3 301.1,229.1 270.3,320.8 322.3,225.2 186.9,281.1 543.7,249.4 180.4,280.7 531.5,227.6 496.2,144.4 238.1,324.7 485.6,179.6 479.1,192.6 317.1,227.5 577.2,318.6 258.7,323.8 522.6,238.3 470.3,230.5 462.8,233.8 239.3,322.1 306.8,223.6 529.1,220.4 527.2,239.6 608.9,422.8 489.5,154.2 594.9,392.8 546.6,250.8 514.4,202.9 168.1,308.6 162.2,288.9 332.6,242 378.3,153.4 382.3,151.8 575.9,312.2 443.2,230.1 182.6,281 371.3,167.9 509,155.9 279.7,301 617.4,433.3 566.4,274.6 385.2,144.2 608,424.1 166.8,302 605.4,429.5 390.3,159.6 586.4,329.5 458.9,240.9 281.9,290.8 216.1,281.5 518.7,221.4 263,321.9 598.5,406.9 521.1,252 399.8,174.6 514,223.3 446.4,232.2 467.4,229.5 383.2,144 611.1,422.9 166.4,306.1 253,325.1 337.6,253.1 172.9,303.7 245.6,317.2 379.3,159.1 463.1,238 133.3,267.5 194.6,280.1 342.9,240.4 214.2,280.2 238.2,324.9 393.3,178.2 538,216.6 162.5,289.1 143.8,270.7 349.2,234.4 230.9,331 212,273.3 559.9,275.4 129.4,255.8 372.3,164.1 495.2,150.2 452.1,224 299.8,225.5 521.2,240.3 314.8,219 552.6,258.7 218,300.6 577.1,317.7 271.8,322.5 476.3,209.1 548,252.8 130,262 136.3,267.9 151.7,281.3 388.3,148.7 183.4,285.5 508,156.5 289.7,259.5 360.7,196.3 144.9,274.4 532.4,231.8 591,358.2 570.2,282.5 619.5,423.5 456.7,235.1 546.8,255.9 405.6,169.1 396.4,213.1 501.8,145.5 521.7,238.3 608.2,422.8 266.5,324 231.5,332.4 389.6,149.9 511.1,173.3 386.6,144.8 609.6,418.6 321.9,225 139.2,262.9 420.3,208.7 213.8,281.5 205.6,281.7 522.2,236.5 523.1,242.3 382.2,149.6 242.8,315.6 355.9,220.3 373,158.9 611.1,427.1 310.6,220.7 610,418 174.1,302.3 367.3,165.4 317.8,223.6 398.1,184.2 356.8,221.4 228.6,331.8 445.5,234.7 349.7,233.6 209,277.1 517.6,195.9 309.7,226.4 151.2,279 331.7,241.2 450.7,225.4 600.8,415.8 596,397 276.5,314.1 256.1,321.3 601.5,417.9 395.7,194.7 282,286.8 316.4,227.6 454.2,229.7 438.1,227.7 268,325.7 457.7,244.8 437.2,226 329.6,222.8 584.3,329.1 470.3,236.6 295.9,232.5 301.5,222.6 502,143.4 416.3,222.4 349,235.7 244.8,316 533.7,233 498.9,147.8 499.2,143 194.9,290 520.1,234.3 595.6,398.1 187.2,261 473.8,229.8 335.4,261.5 518.7,217.2 143.7,266.8 144.1,269.6 242.1,316.7 133.1,267.3 120.2,267.8 334.3,255.7 567.2,271.3 165.7,303.9 237,323.5 373.8,155.9 156.9,283.4 220.5,314.1 144.2,272.5 228.9,330.3 433.1,221.1 530.8,224.1 493.4,150.6 588.1,338.6 371.4,160.6 156.9,278.7 360.9,198.1 594,384.1 562.3,272.6 389.5,151.3 314.1,214.8 305.7,226.3 561,275 163.1,288.4 569.7,283.7 462.2,233.8 269.3,322.6 362.1,199.2 292.6,246 237.3,323.1 171.6,305 180.2,279.1 496.6,144.6 333.2,250.9 189.3,281.7 137.3,263.9 519.3,226.8 171.6,302.4 491.1,153.6 249.8,321.1 352.3,232.3 446.4,228.9 297.1,238.1 368.1,172.8 320.3,222 424,221 255.6,325.3 482.3,187.5 286.3,276.9 123.9,262 175.1,297.5 146.3,273.4 118.1,268 146.9,273.8 451.9,224.9 412.2,205.2 530,222.3 370.4,170.4 351.4,228.3 524,232.7 347,239 464.1,232.1 235.8,323.1 154.5,275.4 503.8,149 371.9,166.2 346.7,240.8 298.8,228.6 269.8,321.1 440.6,229 166.6,299.1 182.3,278 159.1,282.7 486.6,175.8 490.6,149.6 145.3,270.2 239.6,324.3 492.8,151 503.7,144.3 304.6,215.5 417.4,214.5 534.5,232.9 224,322.4 121.7,265.5 123.6,264.1 157,278.5 271.9,322.4 299.2,233.2 433.1,221.4 315.5,219.6 241.2,317.3 475.9,211.2 228.6,331.9 465.2,230.9 246.7,321.8 287,276.3 204.7,272.4 367.3,165.8 603.8,429.7 248.1,319.5 402.2,163.7 313,215 479.7,196.4 127,262.5 387.7,141.9 549.2,259.3 616.8,442.2 544.7,259 119.9,267.8 584.7,324.8 374.2,155.1 554.9,278.6 591.7,368.1 226.2,329.4 180.7,274.9 256.7,326.3 530.2,223.5 359.5,202.4 407.1,170.9 559.6,279.1 513.2,190.9 455.3,229.6 226.3,327.9 370,165.6 507.3,149.7 204.3,275.4 524.8,230.7 221.4,311.9 335.8,255 517.8,225.5 245.2,317.1 535.8,230.4 171.2,307.9 445.9,228.7 528,231.3 184.4,280.5 231.7,333.9 342.2,258.2 255,320.9 562.8,269.4 214.8,279.6 329.3,224.3 583,322.4 548.8,253.5 329.9,222.9 489.9,152.6 282.6,288.4 234.2,323.8 427.9,216 526,236.8 522.6,235.9 241.3,317.6 569.8,282 351.7,227.6 599.6,412.1 177.9,288.1 226.4,328.7 489.1,162.8 273.2,320.5 463.6,238.8 216.8,288.2 500.3,141.5 197,272.3 123.7,264.8 392.3,179.4 342.6,247.9 332,237.6 395.3,189.2 192.8,287.1 505.6,152.1 536,231.2 152.6,279.2 305.3,216.3 261.4,324.8 545.3,257.4 269.3,320.8 185.1,282.2 307.2,232 276.6,312.9 458.4,243.6 384.5,141.9 191.7,289.2 215.9,277.2 288.4,262.6 598.1,403.9 398.8,179.5 189.8,290.5 384.8,139.8 602.5,426.6 513.5,191.2 178.6,283.9 458.1,243.6 606,423.6 219.5,308.1 243.5,319.2 203.9,272.7 126.3,262 553.5,274.3 327.3,217.5 135.4,265.3 421.2,206.2 313.2,217.8 160.3,292.5 411.9,201.1 283.5,280.1 357,226 402.5,168.5 318.6,224.8 260.5,326.9 254.7,327.1 190.7,288.6 492.7,150.9 358.4,217.9 470.7,232.9 488.6,163.9 286.8,273.4 126.8,259.6 177.6,286.7 209.5,281.3 290.3,253.4 548.6,255.7 165.3,300.3 263.2,321.6 469.8,235.6 414.6,215.4 158,286.9 385.8,142.7 179.1,283.8 281.5,291.4 427.8,216.1 254.4,327.2 378.2,156.5 173.6,303.7 474.9,223.2 126.4,262.2 603.8,423 299.5,228 299.7,230 137.6,265.4 149.8,278 162.6,288.3 148.7,280.1 323.5,231.6 455.9,230.8 590.6,353.6 460.1,242.3 488.7,163.6 297.5,232.1 243.6,321.5 209.9,278.7 234.5,323.4 613.5,430.6 388.3,141.4 347,238.8 406,173.9 536,226.5 598.4,408.8 604.5,426.3 537,225.1 385.4,140.4 263.9,320.2 403.9,163.3 351.2,228.9 420.1,208.6 411.9,201.4 382.7,146.4 160.8,291.4 583.4,327 615.1,440.5 287,278.2 330.3,232.8 508,156.2 529.4,226.6 590,347.3 527.6,232.4 175.5,284.6 454.6,227 511.1,191.5 150.4,278.9 157.2,284.2 414.6,217.9 567.6,277.8 187.1,272.1 442.5,234.2 441.5,231.6 174.8,299.2 448.7,227.1 507.5,184.4 543.2,252.3 181.3,282.8 552.5,258.7 551.2,257.3 157.9,287.2 507.5,153.9 446.8,232.8 542,248.7 344.9,235.8 409.1,171.5 487.9,164.5 419.5,211.1 199.5,263.1 131.8,260.9 501.5,141.7 579.3,327.9 136.7,268.2 488.1,162.8 272.8,322.8 280,303.2 396.8,219.5 566.1,269.5 517.2,225 154.2,270 364.6,180.3 521.4,241.8 338.1,249.2 270,322.3 299.1,232.9 486.7,172.8 429,213.9 605.1,427.6 573.7,308.5 379.2,159.7 190.8,289.3 519.4,228.9 509.3,155.1 562.7,282 212.1,276.4 297.7,236.5 151.3,276.5 488,161.7 263.7,323.1 183.9,284.3 583.7,328.6 163.1,291.6 260.1,324.8 529,225.7 603.3,425.5 283.5,284 150.9,282.3 253.1,324.1 336.8,241.6 138.6,266.8 333.2,251.7 262.6,323 336.2,248.1 201.3,272.9 114.8,263.1 394,188.1 587.6,339 120.3,267.2 140,270.7 323,233 503.2,143.7 435.3,229.8 558.3,274.6 470.3,232.4 252.2,320.4 290,254.8 348.9,236.9 189.9,289.4 596.2,400.5 250.6,319.8 210,281.6 571,292.7 594.5,391.8 466,235.5 144.9,273.2 376.1,151.3 315.3,224.9 513.8,192.3 526.5,232.2 494.1,145.7 405.5,172.4 467.7,231.1 386.3,141.7 280.3,298.9 304.8,215 274.4,315.9 549.6,259.4 538.2,216.4 339.5,250.1 527,231.5 476.3,210.6 150.6,281.5 181,273.9 381,153.7 400.7,163.7 400.1,167.6 487.4,167.3 415,219.9 388,143.2 479.4,196.9 258.4,322.2 520.5,234.4 316.3,224.9 476.4,208.9 576.9,312.2 480.7,192.4 434,227.4 470.6,237.8 520.8,250.3 176,269.8 535.4,227.4 189.4,281.6 187.1,270 155.6,281.3 210.2,280.2 451,220.6 582.4,325.8 360.2,196.7 549.2,258.5 525.6,236.9 437.8,231.4 319.4,221.5 508.8,157 457.1,236.3 410.6,183.2 240.1,322.5 571.2,296.2 568.1,275.5 525.1,230.5 527.4,227.4 490.9,149.5 249.4,320.2 227.4,334.1 364.3,196.5 160.2,292.6 353.4,224.2 523.8,230.8 334.4,259.8 180.7,271.3 583.6,323.8 341.2,245.6 228.1,329.7 291.8,248.6 333.9,248.6 534.8,227.4 134.3,263.6 242.6,319.5 359.9,197.7 367.7,166.6 244.7,316.1 620.1,423.8 453.5,227.9 466.5,234.6 489.8,156.4 276.9,308.6 127.4,254.3 594.2,387.1 610.7,417.9 142.5,265.1 511.1,194.4 601.1,418.6 375,147.8 205.3,279.6 445.3,233.5 294.2,241.1 123.1,261.9 536.3,223.2 524.9,230.2 183.7,283.5 207,272.1 266.1,320.7 604.1,423 166.7,300 366.2,169.1 475.3,214.6 204.4,275.2 560.2,277.5 151.8,274.6 537.5,232.4 511.2,171.7 368,173.7 122.4,271.2 165.3,299.7 599.5,416.3 446.8,232.3 289.6,260.1 191.4,292.6 556,281.8 290.3,250.4 557.1,274.8 202,273.5 516.5,219.3 176.1,266.9 276,313 483.9,182.6 610.9,423.8 341.1,252.4 280.1,301.6 212.3,283.5 179.5,279.1 569.5,274.5 121.6,268.7 559.6,272.7 201.3,274.4 239.3,321.2 511.4,172.7 565.3,267.7 115,263 263,323.4 439.3,228.6 117.1,268.2 509.1,155.8 541.3,232.3 377.1,147 147.2,276 479.8,194.3 191.4,286.9 428,215.8 254.2,323.7 613.7,431.9 146.5,273.7 485.6,179.2 191.1,289.4 488.4,162.9 185.5,283.7 175.4,290.8 514.8,198.1 425.7,221.4 424.8,221.5 533.4,240.2 202.1,270.3 290.9,246.2 200.7,269.7 555.6,282.2 616.3,438.4 228.1,330 439,227.3 395.7,193.7 497.2,147.4 380.3,148.1 534,234.4 461.8,237.9 187.3,262.3 157.5,285 319.9,219.5 183.8,289.4 491.1,152.3 302.5,221 134.2,262.5 362.2,198.3 496.2,145 236.1,326.1 148.7,280.9 528,217.7 151.4,277 384.2,143.4 363.3,204 497.9,149.6 229.9,332.2 226.2,327 146.5,272.5 207.2,277.7 395.7,192.2 187.3,267.2 132.3,262.5 419.2,212.4 574.7,308.6 521.1,253.2 275.1,314.3 344.1,232.5 328.8,218.9 580.1,324.1 451.7,224.2 226.7,330.7 611.8,424.7 380.6,148 284.2,276.2 494.9,149.8 487.5,169.9 424.9,219.6 434.8,230 175.7,287.9 232.3,330.3 424.7,219.3 431.2,229 498.2,149.6 616.3,437 189.1,285.7 245.7,317.4 523.5,236.3 447.2,227.6 116.3,264.4 291.7,246.2 134.6,263.8 188.1,278.1 302.2,220 441.8,228.8 214,280.8 196.1,271.3 281.3,293 224.3,323.4 463,238 480.8,189.2 293.7,240.7 304.9,214.9 126.3,262.3 216.9,287.8 212.2,283.5 433.8,226 492.4,149.5 285,272 203.3,274.3 305.9,228.4 465.7,232.6 201.2,261.6 338.8,249 177,290.7 315.6,219 349.3,235.2 431.1,229.3 504.7,147.1 505.5,150.4 391.4,164.3 390.1,151.6 609.2,425.6 285.4,277.8 334,253.6 552,259.8 515.2,215 463.1,235.7 391.9,178.2 452.9,225.2 467.1,235.3 418.4,218.9 460.9,236.7 173.6,301.8 121.4,271.7 254,323.9 255.6,324.2 518.1,218 201.1,275 267,324.6 198.3,264.8 538,216.8 269.7,320.4 135,265 174.1,302.4 128.6,259.5 357.6,228.1 374.6,152.5 592.2,367.1 408.1,172.5 180.6,281.4 114.7,265.7 384.4,145.5 147.6,273.6 591.1,364.2 250.2,322.8 193.8,289.3 355.4,224.1 570.1,282.4 461.3,237.6 163.4,290.9 295.1,241 380.4,150.4 514.3,199.6 149.5,281.2 439.8,230.1 186.1,291 352.5,229.7 531.2,230.2 270.7,323.7 412.7,206.6 520.7,238.5 465.4,233.7 298.9,232.5 329.9,224.4 545.4,253.7 193.7,291 512.1,177.1 548.6,251 323.8,234.5 122.7,270.1 196.9,266.2 318,223.4 396.8,196.2 353.7,235.4 404.5,169.5 272.5,322.7 396.3,221 418.1,213.3 261.9,322.5 290,251.1 137.9,261.8 126.3,262.5 530.6,231.3 245.7,317.4 584.7,326.9 358.1,215.4 184.1,281.8 471.7,236.7 126,256.5 503.4,143.8 199.5,269.2 534.9,228.4 604,422.7 275.3,316.3 436,225.4 602.3,426.3 608.2,425.2 427,216.4 189,275.8 189.3,283.5 442.4,233.1 391.3,166.7 189.4,284.4 589.2,344.3 283.1,284.2 353.5,223.4 237.7,325.4 513.7,173.7 149.2,279.3 445,230.4 126.2,262.9 205.5,277 164.1,291.9 333.7,248.6 260.3,328.4 293.9,238 319.1,222.4 585.2,328.6 193,287.5 277.9,306.2 499.4,142.2 444.1,235.3 392.8,173.2 282.4,286.1 599,412.3 225.6,327.8 465.5,232.6 284.1,278.3 401.3,170.2 396.3,198.9 361.3,201.2 318.6,221.3 366.6,170.9 248.5,319.6 517.1,224.1 477.2,197.9 391.9,176.1 359.3,207.6 330.7,231.3 286.3,278.4 155.4,274.8 379.7,154.2 370.3,167.3 548.2,257.2 537.8,231.1 597.9,410.7 204.6,277 334.4,261.7 518.9,219.2 348.1,235.5 504.6,146.7 378.9,158.7 221.1,315.6 551.2,256.6 538.7,229.5 291.9,243.7 180.8,267.4 184.1,279.7 356.6,224.4 549.5,260.6 340.7,246.9 443.7,236.6 270.5,322 230.2,331.3 398.1,183.1 573.5,307.2 288.1,265.5 265.8,322.1 368.8,168 586.1,328.5 211,283.9 551.4,252 424.3,219.3 610.4,415.9 116.9,270.5 195,297.1 457.8,241 450.1,224.2 398.8,180.1 504.7,150.7 543.3,250.5 415.7,217.5 186.3,288.6 380.7,155.2 399.9,171.5 434.3,222 220.6,314.4 205.9,284.5 519.3,193.7 346.4,237.2 463.7,233.3 213.1,284.2 560,276.4 477.4,200 222.6,319 271,325.7 294.7,235.2 337.3,251.7 322.2,224 316.4,228.3 333.9,251.6 510.3,163.1 161.8,288.5 545.4,254.4 195.1,292 400.1,164.4 342.9,242.2 420.6,206.5 194.6,274.1 381.9,146.8 565.2,268.1 613.9,426.9 615.6,443.4 455.9,232.4 463.5,232.7 448.1,228.3 275.6,315.1 390.7,155.5 537.3,228.6 255.8,321.3 187.8,280.3 487.3,165.2 235.4,322.1 317.6,225.2 303.8,218.2 313.8,220.1 502.7,147.2 505.8,154.8 590.9,356.3 269.4,321.1 139.5,267.9 321.9,224.3 271.7,320.4 552.8,270.9 157,279.3 212,277.6 119.3,269.6 361.2,197.5 430.5,224 134.4,261 386.3,141.8 315,221.6 174.5,301.4 160.8,288.5 334.1,249.8 296.2,232.8 377.1,149.3 283.6,280.9 205.9,282.2 474.7,219.4 247.6,316.9 403.2,170.1 236.8,325.2 345.9,237.8 523.2,214.8 581.2,324.1 516,215.7 467.2,232.9 165.5,299.3 408.7,176.3 526.6,234.8 188.7,287 476.7,206.3 169.3,302.8 378.5,151.3 337.1,241.9 582.9,322.4 307.6,229.7 175.8,289.7 514.6,199.8 154,272.7 456.6,234.2 346.2,238 200.1,265.3 609.5,424.8 598.5,407.8 584.1,328.9 328.5,219.8 401.5,169.8 427.2,211.8 287.2,272.8 424.7,218.8 458.5,243.2 204.6,273.9 192.3,283.2 573.4,308.5 483.6,186.5 158.5,285.1 376,149.8 508.5,157.4 562.3,274.5 553.7,268 227.2,333.9 485.2,176.8 242.4,320.5 286.6,276.3 341.5,244.4 453.6,229 615.9,442.9 348.1,233.1 416.1,224.2 535.7,233.5 603,423.8 290.4,250.8 506.5,153.9 585.7,329.7 523.6,229.1 473.6,229.7 512.1,177.8 497.4,149.6 388,147.1 188.2,278.8 184.2,291.3 506,155.8 473.7,231 314.1,220.3 378.6,154.1 578.7,326.3 541.3,240.1 155.7,276.9 584.1,324.3 334.7,261.8 584.9,325.7 352.5,231.9 413.8,215 510.6,168.3 385.4,140.8 145.4,270.7 453.7,229 512.8,180.8 363.9,201.6 371.8,159.8 237.4,324.6 488.2,162.9 532.1,234.8 227.4,333.2 245.4,316.6 255.5,324.9 296.7,240.2 322.6,231.8 133.4,269.5 170.5,305.8 390.7,158.8 279.5,301.8 610.8,423.4 326.6,215.3 388.5,146.1 116.1,263.8 494.3,146.1 540.3,230.6 290.8,251.4 523,236.3 611.1,421.6 467.6,233.7 423.4,212 521.6,233.7 542.5,248.1 410.6,186.4 116.5,270.1 350.5,231.6 606.8,424.2 607.7,425.5 323.2,224.5 261.1,323.3 246.6,322.1 241.2,317.3 197.2,264.8 325.9,221.4 264.4,325.3 432.6,224.5 440.4,228.5 139.8,271.2 485.3,176.3 126.7,256.4 133.9,266.2 174.7,296.8 615.6,442 543.1,248.2 443.1,230.6 450,223.8 437.1,227.2 501.8,144.3 345.5,240.1 272.5,319.8 206.6,274.6 519.4,234.7 498.2,144.5 548.5,252.4 217.2,294.5 429.8,226.2 167.3,303.7 353.8,224.8 585.8,330.3 311.9,219.5 295.6,237.8 338.5,247.9 155,277.9 230.8,329.9 195.2,298.9 114.7,265.2 441.1,234.4 584.3,325.5 240.9,322.8 416.6,222.5 234.7,323.2 572.2,298.2 247.4,316.3 493.4,148.4 163.4,290.8 494.4,147.8 189.4,282.8 169,308.8 478.5,192.5 326.3,220.4 408,175.3 582.2,322.9 188.7,286.5 165.5,301.3 588.1,335.4 352.9,224.9 125.4,260.5 143.3,268.2 406.5,172.8 181,268.8 252.1,321.6 382.9,143.6 281.7,289.7 158.6,283.2 393.4,183.9 476.4,210.1 179.5,277.4 541.2,233.2 619,430.3 476.5,207.9 619.5,424.3 143.2,267.8 230.2,334 127.9,260.2 166.7,302.7 253.8,324.6 134.7,265.8 320.1,223.7 459.4,244.6 539.5,217 295.8,236.6 606.5,425.6 168.4,301.6 555.6,285 520.6,235.8 198.4,270.9 149.4,280.7 426.7,212.5 593.1,375.7 575.1,309.7 552.7,263.6 615.3,437.6 203.2,281.6 557.7,273.9 487,168.3 539,226.9 223,321 563.4,272 608,423.7 417.7,217.9 287.3,275 437.2,225.5 349.5,235.3 346.2,238.7 127.1,259.8 170.3,302.7 586.5,329.2 270.7,325 547.1,250.3 316.6,229.3 220.1,310.2 340.6,251.7 572.5,297.7 299.4,226.7 497.9,150.7 370.8,169.3 434.5,226.7 406.5,174.6 428.5,212 485.1,177.1 197.2,261.5 369.2,168 431.5,229.8 560.6,273.2 178.9,284.2 277.9,306.2 368.9,172 521.7,238.5 515.9,231.5 383.2,150.3 607.5,426.6 188.7,287.2 332.8,247.3 354.8,222.5 211.7,274.8 240.7,321.7 201.6,265.7 456.4,235 163.8,291.3 325,218.5 452.7,224 167,301.9 190.9,293 476.9,204.3 462.9,233.7 164.4,296.2 294.4,240.4 541.7,243.5 328.8,221.8 591.4,363.8 318.5,220.8 513.2,180.4 480.7,191.7 472.3,233.6 137,260.8 297.2,234.3 408.4,172.1 303.2,217.9 285.7,277.5 537.8,229 536.1,229.3 247.4,317.5 366,170.1 262.1,324.5 535.4,227.3 346.8,240.7 476.8,206.7 543.4,252.3 570,281.6 410.8,195.3 351,232.3 439.8,229.2 186.7,276.4 295.7,241 306.1,225 396.8,206.9 597.2,402.5 440.1,228.3 166.9,301.2 369.6,166.3 395.7,194.4 185.4,285.6 247,316.9 253.6,323.6 615.5,443.8 426.5,215.8 529.7,223.7 546.5,252.7 592.7,375.5 500.1,141.7 444.5,237 522.1,238.3 466.7,235.8 240.3,321.4 288.1,268.7 326.4,217.2 347.8,242.1 238.4,325.4 530.6,227.3 393.7,180.7 559.1,274.2 382.5,151.6 451.5,224.9 300.3,232 186.8,263.2 119.6,267.9 299.7,226.3 520.1,232.1 397.1,192.1 374.6,152 155,274.7 399.7,175.5 169.4,309 377.4,147.7 350.5,234.8 458.9,239.2 605.4,427.1 141.5,269.4 467.3,235.4 355.8,223 142.3,266 560.7,275.5 207.9,271.4 610.2,418.4 565.8,267.8 337.2,243.6 215.6,279.3 451.1,224.2 195,286.1 583.4,324.1 140.7,264 528,217.7 265.9,320 616.3,435.1 173.3,305.3 540.8,231.4 116.7,268.8 122.9,262.1 422.3,206.9 472.6,231.6 220.5,312.4 430.9,230 118.1,270.6 536.4,224.6 511.6,175.3 176,283 308.3,228.6 238.7,323.2 619.9,430.9 578.5,323.9 120.1,267.6 436.3,226.3 493.6,150.4 394.8,186.5 324.4,221.6 455.1,226.4 426.9,212.6 406.8,173.5 491.8,148.1 517.7,217.5 297.8,235.5 409.9,174.4 339.3,245.9 305.7,224.6 384.4,145.3 230.3,335 463.9,234.4 309.6,229.9 417.6,218.4 403.6,174 259.3,325 240.6,323.7 162.1,288.6 309.2,230.4 329.7,221.9 265.5,323.7 530.9,229.2 189.9,290.6 235.2,326.3 438.4,229.1 190.9,286.3 471.3,230.1 274.8,319.5 567.4,271.5 508.4,163.9 293.4,249 524.2,231 540.2,237.3 416.2,222.3 423.7,212.6 324.7,220 381.8,145.6 401.7,169.1 538.9,224.8 313.5,217.9 150,282.2 327,215.3 550.1,253.7 384.7,140.1 350.9,230.5 172.4,306.1 475.7,210.7 337.6,252.7 420.6,204.3 178.1,288.7 278.6,305.1 495.3,150 279.6,303.4 187.3,266 439.6,231.3 218.6,298.6 556.3,275.6 349.7,232.6 346.1,235.7 314.3,215.8 118,265.2 295.3,242.5 461.3,238.3 275.4,313.7 514.9,201.4 491.5,154 169.8,307.6 453.7,228.5 578.7,326.7 437.5,228.8 584.4,324.6 532.3,231.7 322.8,233.2 187.4,278.3 256.4,325 199.3,267.1 580.6,326.5 153.2,270.2 277,308.8 175.8,279.5 530.3,228 308.9,228.1 406.3,170.3 202.6,276.2 466.8,235.7 422.3,206 195.6,285.8 261.1,323.1 453.6,227.3 463.5,238.4 234.3,323.1 421.5,205.7 184.1,286.9 333.4,248 477.9,196.9 212.7,280.1 218.7,298.8 296.1,234.7 603,426.3 273.1,318.1 221.7,316.5 465.7,236.1 181,269.7 529.5,223.7 308.2,233 558.5,276.1 159.6,290.3 435,229.4 183.8,281.3 562.6,281.6 563.8,273.1 267.4,324.9 281.1,298.3 327.2,214.2 574.5,309 453.4,227.7 334.5,250 270.3,321.5 167.2,300.5 544.5,259.1 201.4,274.8 581.3,327.7 375,150.7 387.2,142.5 226.8,331.3 427.3,210.8 362.9,204.1 449.3,228.9 381.9,145.3 221.7,315.4 321.3,229 430.1,225.2 196.8,268.6 576.3,308.2 127.3,255 555.5,273.4 439.9,228 534.7,233.4 429.2,219.9 280.2,300.1 564.3,269 450.3,226 339,246 336.5,245.3 207,272.7 189.1,268.6 555.1,274.5 315.1,216 120.5,267 307.2,231.5 322.5,230 143.1,267.1 160.9,290.5 186.9,270.8 141.8,268.4 153.8,275.2 150.6,284 321.2,227.3 619.4,423.6 257,323.4 571.6,299.1 286.7,276.7 319.6,220.6 343.8,233.6 144.7,274.4 210.5,279.8 493,150.1 259.6,322.8 117.2,263.5 606.1,423.3 163.8,293.3 418.7,216.9 407.8,176.8 521.8,232.6 447.1,231.5 297.4,232 358.6,212 409.6,178.3 349.1,236.6 147.6,274.7 325.1,220.4 519.8,204.4 519.1,229.1 316.6,226.8 232.7,326.9 236.5,323.2 385.2,141.2 116.6,270.2 252.5,321.9 571.6,291.2 555.8,282.3 194.6,279.3 588.8,335.9 193.2,286.9 267.3,324.8 490.3,153.7 450.2,228.2 120.3,269.2 413.6,214.4 469.5,231.3 302.4,219 547.5,256.5 292.9,244.6 500.7,141.3 446.1,230.6 519.7,233.6 435.4,228.6 471,235 517.4,220.3 290.4,250.1 330,230.4 272.9,321.4 611.8,424.3 312.2,219.2 125.6,257.8 249,314.6 607.1,420.3 527.8,229.6 595,393.1 175.8,272.2 377.8,158.9 369.2,168.5 398,187.8 275.3,313.8 495.1,146.3 498.2,146.4 154.9,275.2 181.5,287.4 620.4,428.2 503,143.1 259.4,325.3 571,295.7 333.5,251.4 180.8,276 379.5,158.4 472.6,232.6 364.4,190.1 289,258.1 374.2,155.2 187.7,277.5 447.8,231.7 331.5,243.4 154.4,273.7 379.1,156.7 547.4,252.6 430.9,222.6 261.9,324.6 211.4,278.8 481.5,191.5 190.8,295.6 376.5,149 350.8,234.5 591.7,364.4 435,228 337.8,243.2 185.5,282.5 451.5,225 324,225.7 371.8,158.4 169.2,304.8 431.7,226.3 132.1,266.2 474.2,221.4 519,221.8 419.6,208.6 503,159.7 177.3,290.2 154.1,272.5 222.3,315.8 134.7,265.9 337.2,253.5 405.8,171.4 466.1,235.9 323.9,225.5 553,268.6 580,329.2 244,318.4 190.9,289.1 115.9,266.6 373.4,159.5 584.1,329 297.9,229.8 501.9,145.5 319.7,219.1 484.7,182.3 180.9,275 310.9,220.3 262.5,326.7 254.3,324.1 399.4,177.5 538.5,230.4 307.8,229 331.3,235.9 603.4,427.2 281,297.2 458.9,237.8 547.6,252.9 574.6,306.5 373.7,159.6 533.7,237.3 273.6,319.7 547.9,249.2 456.8,234.6 211.4,277.5 413.2,205.5 600,417.7 413,210 556,282.3 537.5,228.3 307.9,229.4 486,174.6 369.6,166.3 248.2,319.8 404.2,168.2 350.8,234.4 540.4,232.7 554.6,274 417.4,216.3 138.6,270.3 416.2,222.3 406.2,172 305.2,215.6 344.9,238.5 184.2,285.4 615.8,441.6 379.9,153.3 462.5,233.3 288.8,260.5 476.7,206.3 585.6,329 612.9,428.9 488.3,163.2 312.8,220.3 483.2,187.4 151.1,281.3 468.5,229 495.8,150.6 493.8,150.3 487.2,169.1 292.2,240.6 436.8,227.1 263.1,326.4 211.4,280.1 271.4,324.2 441.9,232.2 619.3,427.2 417.6,216.2 258.2,323.2 293.5,248 612.4,422.1 572,294.2 482.1,190 404.7,172.1 610.6,420.5 120.9,273.3 395.4,190.8 602.4,422.1 146,270.5 605.3,429.7 523.5,236.6 233.5,325.6 241.6,317.2 187.2,283.7 170.9,304.4 540,225 520.1,230.1 319,221.3 249,320.3 285.6,277.6 576.5,310.1 168.5,303.8 612.9,422.7 441.8,229.8 563.2,273.4 493.9,150.3 603.2,422.2 118.6,268.7 333.5,247.6 364.6,182 589.1,342.9 396.7,223 386.5,141.9 349.7,235.7 487,169.3 288.1,263.9 397.6,183 327.7,222.9 180.9,278.2 268.6,324.8 463.4,234.2 274,322.3 518.4,209.1 311.6,225 471.8,236.9 465.2,232.1 568.9,275.9 546.1,249.3 129.1,256.3 227.2,328.7 340.9,252.3 586.8,334.7 129.5,261.7 222.5,316.9 393.8,184.9 512.8,184.1 257.5,325.1 177.5,295.7 380,153.1 378.4,152.2 397.3,187.1 331.2,237.7 277.6,310 615.8,439.1 403.4,170.3 159.4,284.7 566.6,270.8 198,271.6 197.2,266 180,282.9 508.2,156.4 273.6,320.8 174.3,300.2 432,225.3 379.6,156.2 372.5,157.2 281.1,297.9 601.1,423.6 159.3,283.1 256.8,324.8 514.7,199.6 271.9,321 511.3,173.8 415.5,215.2 181.7,286.2 469.9,237.3 264.4,325.9 228.1,329.8 175.4,288.8 176,288.1 183.7,280.6 464.8,234.5 595.9,398.6 282.3,287.5 182.3,277.8 490.3,152.6 300.7,228 268.9,325 153.2,271.3 538.5,220.3 191.1,297.1 371.7,161.9 125.7,256.6 377.1,147 565.6,266.6 584.6,325.9 507.9,155.8 517.3,218.8 184.6,285.5 119.2,268.7 519.5,219.6 264.2,325.6 385.5,141.2 129.8,262.7 148.4,281.3 277.7,312.3 252.5,320.2 565.9,268.6 480.9,194 575.2,310.4 254.3,323.2 116.3,264.6 526.2,235.2 234.2,325 410.1,173.6 370.5,166.1 451.7,225.7 605.2,429.9 225.1,327.2 133.8,263.3 474.3,221.5 377.6,155 289.2,256.2 477.5,200.3 613.2,429.6 539.7,217.4 184.1,292.5 173.7,300.6 360.9,196.1 508.5,159.6 224.9,326.5 465.1,233.6 229.7,329.1 550.2,254.9 415.5,219 362.7,200.1 442.6,236.4 520.3,231.7 491.9,153.3 589.9,341.9 264.8,321.2 398.3,182.4 269.6,320.2 168.2,306.9 415,220.5 593.4,376.8 243.7,320.3 334.7,261.5 252.9,320.2 350,232 417.2,217.9 208.1,277.6 469.4,234.3 225.6,327.8 250.3,317.6 478,193.3 486.2,176.9 412,197.4 461.8,241 352.8,231.2 216.3,289 181.6,284.1 595.1,394.1 400.9,164.6 317,225 265,321.2 322.2,228.5 475.6,216.9 172.2,307.3 449.2,229.1 318.6,225.6 516.7,221.5 271,325.7 480.4,192.4 234.3,327.4 486.2,176.2 406,171.3 219.7,310.1 509.6,157.1 186.7,277.3 360.5,198.9 381.3,151.1 237.8,320.9 466.4,234.7 294.6,236.8 469.9,234.5 347.9,241.5 340,250.1 222.2,314.9 542.2,253.3 205.2,278.1 484.8,178.1 428.2,213.7 524.5,230.8 478.2,191.6 356.5,223 353.7,229.3 312.2,219.6 176.3,274.5 391.6,164.8 171.7,302.5 229.3,332.2 592,368.1 418.6,217.3 366.7,164.7 415.4,219.1 588.6,338.3 512.2,178.3 364.8,179 173.8,301.9 431.8,225.8 304.3,215.6 506.6,149.8 146.8,273 517.6,215.2 557.7,273.7 300.6,229.9 562.9,267.2 391.2,164.5 329.9,223.8 464.9,232.1 207.7,280.6 328.1,217.5 309.2,229.5 575,311.3 606.5,422.8 311,218.5 564.8,270.3 542.1,247.4 596.4,397.7 574.3,310 576.3,316.5 120.7,266.3 500.7,143.7 209.7,272.2 368.6,168.8 597.6,405.4 291.7,247.8 372.5,164.1 358.9,210.9 116.5,268.1 404,166.3 503.8,144.7 550.9,260.6 574.6,305.4 578,323.6 189.7,287.8 388.5,146.4 213.7,279.9 209.6,278.2 454.9,225.4 159.4,287.4 140.6,266.1 389.9,152.5 390.9,161.9 351.6,226.7 510.3,164 382.6,149.6 597.3,400.3 296.4,234.3 142.5,266.6 257.3,322.2 588.4,339.9 326.7,213.3 384,144.8 196.2,272.6 279.6,303.9 493.2,151.4 241.6,316.8 260.9,324.4 250.8,322.1 242.6,317.7 561.6,277.3 475.4,214.9 241.5,317.9 516.1,217.6 192.8,290.3 365.4,167.2 587.8,339 461.5,239.2 312.8,223 142,268.4 494.8,147 224.1,322.8 505.8,158.7 457,235.8 278.5,304.5 148,281.9 354.3,227.6 312.8,220.9 449.3,227.4 276.9,308.3 467.9,234.5 222.6,319.4 353.9,228.4 508.3,156.8 198.9,266.7 485.7,174.3 159.3,286.8 230.8,330 353.2,224.5 287.8,267.7 189.6,269.6 537.4,223.4 239.1,322.4 517.3,219.5 402.5,169.2 393.6,181.7 483.6,184.1 316.6,228.5 364.2,195.1 519.5,233.9 372.1,160.3 564.1,271.9 141.1,268.6 555.1,273.1 178.8,286.5 451.1,221 238.5,324.5 492.7,150 297.9,233.4 614.7,436.6 523.8,235.5 452.9,223.7 288.6,261.5 224.6,325.7 392,178.7 268.6,324.7 607.5,423.1 194,287.1 567.7,273.6 415.1,216.5 571.5,297 445.7,230.5 221.9,315.1 295.6,242.6 311.3,225.2 474.2,220.6 264.1,325.7 187.2,283.6 438.2,227.1 595.2,394.4 324.2,228.7 185.2,284.9 234.8,322.9 116.9,269.9 516,212.6 463.2,236.1 594.5,392.2 617.6,431.9 473.6,225.6 180.9,266.2 435.5,227 495.2,147.4 484.4,182.9 618.2,432 413.9,214.3 483,185.4 364.8,179.3 457.4,241.6 350.1,235.5 306.4,225.7 354.4,226.2 481,190.3 319.3,219.9 172.6,302.7 131,262.1 544,249.7 399.4,174.8 368.4,165.7 365.2,174 258.8,325.9 617.1,433.7 167.9,308.5 436.5,227.3 509.8,162.3 441.9,231.2 354.8,222.9 252.3,321.2 415.5,217.2 320.5,224.3 284,283.6 442.8,232.8 224.8,326.5 497.3,146.1 388.1,147.1 446,227.3 411.8,196.5 376.4,152.9 556.8,273.4 179.7,279 265.9,323.3 417,216.4 383.7,144.5 427,217.7 316.8,226.9 528.4,226.8 140.9,264.7 159.1,285.2 469.2,233.4 425.8,219.9 253.3,324 504.3,147.4 293.2,241.1 616.5,434.9 551.3,258.8 261.5,325.5 279.1,301.1 498.5,144.2 607.4,422.7 567.4,273.9 359.1,208.3 585.4,333.2 137.4,265.3 573.9,302.8 243.2,320.2 359.6,202.2 312.8,219.9 265.4,320.9 130.6,263.8 452.4,223.2 121,270.4 131.8,260.4 472,236.5 546.8,251.4 506.5,186.6 145.7,270.3 175.8,276 325.5,219.1 330.8,229.4 420.4,209 311.7,222.7 373.8,156 294.8,237 153.3,269.9 250.5,323.1 440.2,228.9 617.8,432.1 614.3,435.4 175.9,268.2 302.2,219.9 190.3,289.8 328.5,218.5 265.2,321.2 120.3,267.8 523.9,231.4 456,231.6 550.4,254.2 193.7,292.4 421.1,202.6 253.4,325.7 532.9,237 555.5,282.3 599.4,410.7 304.6,215.3 172,305.4 136.3,267.8 494.7,146.8 128.3,256.6 171.3,304.1 342,263.3 180.2,279.1 137.3,261 165.8,303.5 486.8,167.3 525.2,231 171.5,302.6 310.4,227.2 427.5,212 209.4,278.9 152.5,280.3 614,427.8 195.4,292.6 568.8,276 494.6,147.1 341.6,243.7 590.5,351.6 178.4,289.9 186.3,288.9 448.9,227.3 301.5,223.1 203.1,280.7 280.5,300.4 545.5,257.7 482.7,184.1 266.4,320.6 545,255.4 562.1,270.7 157.5,286 140,269.9 566.1,267.9 274,322.5 429.5,223.8 582.1,322.8 235.8,325.4 124.1,261.3 381.9,146.3 289.4,254.5 448.7,227 615,435.2 612,425.7 176.3,291.2 457.4,236 201.9,275.3 468.8,233.6 546.1,249.7 150.6,282 301.2,224.6 576.3,315.3 368.2,171.9 133.7,267 399.1,177.2 441.2,233.4 433,224.1 169.9,307.7 211,278.1 572.7,296.5 480.4,193.2 572.6,301.9 426.2,218.7 508.5,159.4 124.4,263.5 414.1,212.5 158.6,282.6 610.4,419.3 560.8,273.9 516.9,185.7 471.6,230 383.2,147.3 509.6,189.8 340.9,248 244.5,316.5 518.9,209.8 119.5,271.4 390.5,156.6 328.3,217.2 301.9,221.6 396.8,202.8 117,266.4 510.5,166.3 171.5,306 225.7,327.3 124.8,264.3 233.7,325.2 431.7,230.5 223.6,324.4 325.4,217.8 464.2,234.9 236.3,325.6 599.3,408.5 599.8,417 438.5,229.2 146.3,272.3 601.3,417.7 118.9,274.2 272.2,321.1 199.2,268.9 194.2,284.2 599.4,413.1 254.7,327.1 184.8,287.9 505,148.7 536.3,222.6 449.9,224.2 233.3,325.4 607.1,425.3 484.1,185.2 139.8,267.1 615.6,447.1 423.2,211.9 541.8,246.3 201.1,273.2 174.4,299.3 558.3,272.8 261.3,322.6 156.6,282.7 317.3,225.2 282.8,284.3 436.8,226.8 375.2,147.6 217.2,298.2 527.9,233.6 410.4,182.2 505.4,154.6 152.7,278.9 551.7,255 208.7,275.7 405.3,168.1 232.4,331.5 525.6,239 596.3,396.7 273.2,320.2 122.8,262.6 182.8,282.6 274.4,315.6 320.5,224.1 540.4,230.2 203.8,274.6 420.3,208.5 236.7,323.9 213.3,278.2 190.4,285.4 207.1,278 115.4,261.9 330.6,230.9 433.6,222.5 298.4,227.8 593.5,379.3 505.1,147.1 344.2,233.3 581.6,322 413.6,211.1 566.4,268.9 150,282.1 367.6,171.1 359,214.1 429.1,220.1 545.3,257.2 215.1,286.5 217,289.8 447.9,230.6 377,146.9 131.5,266.1 499.5,143.6 148,280.6 245.2,320 464.2,233.8 589.4,344.3 276.7,310 612.4,422.8 490,157.2 429.8,226.2 370.4,170.4 202.4,275 241.5,319.3 210.6,274.1 328.1,216.7 510.2,165.2 549.1,252.2 144.5,274 179.1,288.4 129,256.7 193.5,300.2 587.1,336 579.1,325.1 392.4,176.8 494.4,145.3 114.8,258.8 494.1,146.9 482.9,184.6 285.1,272.2 448.6,225.4 345.1,236.5 129.2,257.4 341.4,243.5 505.3,153 124.6,264.7 374.5,156.6 360.6,196.6 308.8,230.4 522.2,246 558.4,272.7 381.6,145.9 276,314 420.1,207.5 455.5,231.2 394.3,184.9 255.2,324.5 124.2,259.8 561.6,274.1 259.9,325.1 446.6,233 160,292.2 253.4,325.1 563.3,274.4 522.8,235.8 468.7,232 143.6,269.5 471,230.6 538.7,224.6 496.9,145.7 573.9,306.6 223.3,321.3 303.6,216.5 316,223.1 411.4,193.9 172.8,305.9 334.5,265 201.6,277.3 472.1,235.4 497.1,148.1 267.8,324.9 321.1,226.3 369.4,166.3 512.4,179.8 201.1,264.7 506.7,193 335.5,257 524.6,230.6 159,284.1 368.4,166.3 389.2,145.6 205.1,283.1 213.1,275.7 170.4,304.6 204.2,273.3 511.6,175.8 369.7,165.9 275.8,312.6 460.5,240 274,320.9 600.5,420.7 209.2,282.9 131.3,266 445.3,230.7 275.3,316.3 231,334.9 161.9,288.5 396.6,198.1 239.7,318.6 141.7,267.1 138.3,262.9 336,250.7 495.5,151.5 190.8,289.1 327.4,219.6 602.2,418.8 268.4,325 329,223.8 428.5,212.1 139.4,268.8 229,330.3 357.9,214.9 190.9,299.9 431.8,228.2 259.2,325.1 440.2,230.3 252.8,321.2 154.8,270.4 429.2,221.7 551.5,253.9 131.9,261.2 136.9,265 309,228.2 484.9,176.7 243.5,319.3 525.3,236.1 514.4,196.3 131.1,261.5 193.9,289.7 521,244.9 468.2,228.3 437.7,230.5 122.7,263.8 432.7,226.3 137.2,261.1 473.4,227.7 490,152.7 565.6,266.7 568.1,271.8 292.3,241.4 557.5,273.8 407,181.8 187.4,275.6 180,281.7 207.8,275.6 294.1,242.5 574.9,308.7 561.1,272.7 183.1,284.9 143.6,272.7 389.9,154.6 260.7,325 201.2,263.5 154.2,273 571.3,299.3 524.9,230.6 454.6,227.5 490.9,153.7 515,200.8 442.1,231.8 530.3,222.8 200.9,269.7 473.4,225.9 359.1,206.7 489.7,156.2 514.5,200.6 415,218.2 531.3,229.3 200.2,264.7 561.5,270.1 562,277.8 152.3,273.4 436.6,226.2 375,152.1 592.7,373.3 548.3,250.6 369.9,169.1 309.8,224 502.5,147.9 407.2,170.8 230.9,335 516.3,227.8 149.8,279.7 597.2,399 304.8,217.6 199.7,265 483.4,187.6 253.9,325.1 272.2,322.5 449.6,225.2 421.4,205.1 136.5,264.9 608.1,427.8 503.3,145.6 382.4,152.2 218.5,298.8 609.6,417.4 470.4,238 153.3,269.2 426,223.6 579,321 366.3,166.9 256.4,323.5 392.8,171.4 266.3,320.2 439.2,227.3 247.5,319.1 256.7,324 401.9,166.7 401.6,169.8 600.3,420.2 409.7,174.1 213.7,279 532.4,236.7 416.6,216.5 442.8,232.5 271.2,325.8 419.4,213.1 190.3,285.7 587,334.8 579.7,327.8 366.1,166.7 452.6,227.1 232.7,326.2 532.4,231.6 554,270.6 144.8,274.6 558.3,273.6 383,146 482.5,185 289,257.7 287.7,275.8 608.7,423.9 244.1,316.9 518.3,212.8 359.4,201.6 369.8,166.5 449.5,227.3 244.8,317.9 413.1,203.3 542.3,252.6 567,273.7 134.3,264.1 279.3,303.5 132,264.2 336,249.9 350.7,233.5 180.4,282.1 561.9,274.1 341.6,246.6 223.9,323.6 514.8,163 299.8,229.6 196.6,271.2 230.4,332.2 193.5,293.5 244.8,316 306.8,226.7 472.6,230.3 376.6,148.4 437.7,230.9 417.8,213.1 371,163.5 200.5,265.6 377.5,149.6 615.6,445.6 314.6,216.1 544.4,259.1 496.8,145.1 564.8,271.9 157.4,286.4 306.6,226.7 403.7,172.8 340.2,248.2 521.8,235 137.7,263.9 495.9,150.3 560.2,274.3 301.8,223.2 504.1,148.4 526.3,234 261,326.7 249.2,317.8 223.1,322 272.1,322.9 492,151.4 575.4,314 500.5,144.9 341.8,245.7 612.4,421.9 344.6,232.2 529.2,221.8 601,423.5 500.5,141.1 564.7,268.2 563.8,268.8 358.1,215.9 615.3,437.5 551,259.5 354.8,222 464.5,233.5 263.3,323.8 576.1,313.9 242.2,316.3 217.7,301.7 197.1,271.7 516.7,219.5 274.7,316.5 618.5,432.2 577.2,315.1 502.2,146 173.6,302.5 339.1,251.8 592.6,373.5 473,229.4 326.7,221.2 507.6,151.6 130.9,262.9 402.4,161.9 120.9,267.1 469.6,237.1 430,224 313.5,218.9 478.5,197.2 573.6,309.9 120.7,265.9 216.5,285.9 530.9,226 620.2,421.5 576.3,315.4 118.4,270 467.7,230.2 266.6,323.5 207.6,277.4 245.5,317.1 344.7,236 115.6,267.7 577.3,318.7 472,232.2 471.6,234 231.2,333.1 564.3,274.8 288.7,258.8 314.6,220.5 513.9,192 224.3,325.7 503.6,199.2 527.7,234.9 605.7,424.8 233.6,326.3 516,213.7 199.6,267.9 239.2,324.1 177.8,287.3 422.8,210.5 598.7,406 503.5,145.3 402.9,169.6 497.6,147.6 587.3,331.5 612.1,424.9 211.6,280.2 363.5,201.2 334.5,260.2 332.6,244.5 277.4,307.1 436,229.2 578.1,318.6 551.9,257.8 570.4,282.2 195,288.4 331.3,243.7 344.1,234.4 419.4,211.5 219.9,309.7 580.9,323.4 218.1,299.6 221.6,315.2 395.9,196.6 394.9,191.3 228.5,330.1 371.2,167.6 355.2,221.6 189.6,272.9 465.5,231.5 128.3,256.7 149,279.6 380.1,149.9 200.8,271.1 123.9,262.9 554.3,272.8 153.6,275.4 247.1,316.7 254.1,324.8 588.8,336 126.7,256.4 193,286.5 159.4,284.2 527.3,241 565.3,268.9 153,276.3 285.3,278 402,165.9 524.6,235 393.1,176.5 176.6,292 539,212.5 239.9,322.8 344.4,233.2 523.7,236.9 122.7,270.5 506.9,155.7 326.4,218.5 571.5,294.4 497.3,149.5 344.6,231.2 219.2,306.2 263.4,323.5 582.5,323.9 452.9,223.7 368.4,171.7 482.2,189.9 505.8,177.5 220.7,315.3 272.7,322.8 135.4,266.8 441.6,231.5 192.7,281.9 206.9,272.5 219.2,306.6 579.8,325.6 425.6,222.6 197.4,273.3 152.8,279.6 229.4,329 399.7,174.6 503.5,149.8 136.2,267.6 572.9,304 562.7,279 606.6,426.9 167.4,304.7 456.5,234.8 154.7,274.2 471.6,233.9 164.8,298.9 185.8,292.5 368.9,167.4 620,426 515.2,206 411.2,193.5 384.7,144.5 214.9,283.4 136.9,268.4 351.8,228.3 254.9,320.2 244.5,315.9 333.9,254.7 468.7,230.5 196.3,276.3 194.8,273.5 390.3,157.4 262.3,325.2 262.4,321.3 214.8,277.1 185.1,284.1 213.6,280.2 360.4,194.1 412.4,203.1 425.2,217.8 408.5,170.6 285.8,276.8 617.9,433.5 411.5,196.4 405,167.2 180.6,277.2 355.5,222.4 562.2,272.4 542.3,249.5 516.5,217.3 334.7,254.5 602.6,424.9 262.7,322.6 444,232.7 187.5,278.2 600.5,421.5 163.7,290.8 502.6,144.5 448,223.3 195.9,271.5 558.7,272.5 153.4,270.9 414.3,218.2 406.2,171.1 361.2,196.5 181.6,289.2 570.5,285.5 285.8,277.6 331.5,240.8 247.6,317.4 602.1,421.6 324.6,220.9 548.1,257.2 311.2,218 517.8,205.7 337.1,249.3 177.4,287.6 361.7,198.1 358.8,210.8 577.9,322.5 596.2,400.3 250,321.1 204.5,272.1 362.6,199.4 230.7,329.2 570.9,293.4 542.1,251.9 163,288.2 553.6,263.6 181.7,290.3 432.3,224.9 209.3,281.6 330.5,227.8 281.5,289.7 527.3,234.2 445.6,230 492.1,148.8 125.3,259.2 425.4,220.7 161.6,293.2 249.6,320.7 161.7,291.9 290.6,250.7 549.6,259.4 433.5,221.9 312.6,219.9 425.1,224.2 556.7,273 189.1,271.2 460.3,240 197.6,273.3 284.8,272.3 555.6,283.1 492.9,149.4 561.4,273.1 403.2,171 285.3,277.7 125,258.4 193.1,286.9 195.4,294.5 400.1,171.7 246.8,320.7 528.6,229.4 187.4,264.9 478.9,197.5 162.9,288.7 180.8,278 496.1,150.3 388.4,147.1 186,286.2 188.1,277.2 433.5,225.3 506.8,150 204,272.8 583.3,322.5 187.2,273 395.4,191.1 510.9,171.8 606.9,422.5 206.7,278.6 495.5,151.1 483.1,183.7 176,278.4 145.6,270.6 516.3,212 258.7,325 525.8,234.1 519.1,226.3 261.6,324 618.8,429 288.9,260.5 292,248.9 169,305.1 192.3,286.1 235.9,326.8 249.4,320.5 559,274.7 577.5,316.2 458.4,241.4 303.4,216.8 610.2,419.4 544.6,259.1 482.9,183.5 189,283.3 440.8,230.7 268.7,324.8 533.3,240.1 246.4,320.4 398.4,181.4 334.8,257.4 152.5,279.7 427.7,216.8 597.1,400.3 373.7,153.4 383.5,148.3 385.2,145.4 332.9,250.6 298.5,229 181.2,277.6 367.9,175.1 250.9,323.1 230.2,333.7 601.4,421.4 487.3,165.4 434.3,221.9 208.8,282.6 306.9,223.6 365,176.5 444.6,235.4 292.7,244.2 458.6,239.8 236.4,322.2 162.2,289 305.5,225.8 237.3,324.8 294.2,241.5 491.6,152 219,304.4 618.6,430.2 310.2,222.2 408.8,177.6 317.3,226.6 318.1,226.6 582.6,328.6 520.1,234.1 409.2,174.1 559.6,272.2 357,221.6 271.4,325.2 183.5,285.5 172.5,305.9 543.4,253 439.9,228.6 549,256.2 557.2,273.8 454.7,228.6 352.1,232 298,232.9 443.6,233.7 332.1,238.6 536.5,224 486.8,167.9 603.5,425.3 533.2,235.4 431.2,229.1 258.3,321.4 547.4,248.6 159.9,292.6 527.5,232.8 340.3,252.2 376.9,148 265,321.2 417.1,217 558,273.3 394.5,186 519.3,230.6 303.4,219.2 183.2,287 360.1,195.7 504.3,200.7 186.5,276.5 402.9,168.8 514.1,193.3 263.9,320.2 440.4,228.8 620,427.8 157.3,286.5 190.6,288.3 546.9,250.5 387.2,142.2 581.2,328.6 338,246.2 336.7,244.4 177.3,291.8 483.9,183 269,324.8 128.6,252.8 315.1,218.8 197.9,270 573.5,308 519,219.9 572,293.4 386.9,146.7 345.4,241.6 226,331 158.2,284.5 355.1,222.6 411.9,198.3 596.6,400 467.4,233.2 532.6,238.7 616.9,440 234.6,323.2 312.2,221.5 197.4,266.9 431.4,229.6 348.6,231.9 273.3,319.7 450.5,226.4 614.7,432.2 611.3,421.9 444.7,236.7 123.3,265.1 360,197.9 336.1,250.9 617.5,432.9 226,330.3 512.7,185.5 595.3,395.1 240.8,317.4 181.9,280.6 189.1,285.6 502.9,143.6 592.4,370.8 407.4,171.6 223.6,323.8 189.7,290.1 299,232 443,233.2 487.8,168.1 400.6,163.6 183.8,281.2 144.1,273 613.4,431 419.7,208.4 220.1,312.7 214.8,282.6 505.4,149.6 506.7,150.1 516.3,212 124.1,259.9 217.3,294.9 248.7,319.5 363.8,202.6 240.6,321.1 375.9,149.1 600.6,422.3 119.8,268.1 206.6,273.5 226.1,332.7 575.4,313.8 404.6,169.4 204.8,272.6 504.2,148 576.1,316.6 189.4,283.8 175.6,282.2 323.7,227.9 616.7,439.7 152.8,278.6 191.9,284.4 537,222.9 334.6,264.8 592.2,370 534.2,230.6 180.5,273.6 211.8,280.9 518.2,209.5 291.2,247.4 155.9,281.9 329.1,224.8 174.2,300 161.3,293.3 154.7,275.8 155.3,277.6 314.5,218.4 568.4,276 121.4,271.4 260.1,326 454.1,227.6 232.2,330.7 516.1,209.8 613.2,429.5 237.4,323.2 343.6,238.2 138.5,263.1 293.1,240.1 215.4,280.1 514.8,218.8 491.8,152.9 600,419 327.8,223.3 248.8,319.9 228.8,330.2 500.3,142.5 310,223.6 158.7,283.9 344,234.3 563.5,276.6 338.7,249.9 580.5,327.6 589.6,345.1 580.3,327.3 410.6,191.2 302.1,223.8 456.2,232.5 274.3,316 391.5,165 245,317.6 569.5,282 480.3,194.3 122,267.6 534.4,234.4 325.4,218 263.6,323.5 484.5,184.3 181.2,293.3 313.5,220.7 613.1,428.6 133.5,264.3 402.9,168.9 573.2,300.7 358.2,221.1 308.5,229.2 459.4,239.4 459,239.5 540.1,232.7 214.2,283.8 220.2,311.8 515.2,205.6 130,262.6 130.6,260.8 177.4,284.4 402.2,165 223.2,325.6 321.1,229.2 454.2,227.3 510.1,164.7 571.6,296.8 600.2,419 480,191.4 420.9,204.3 569.7,283.7 149.3,277.6 438.5,230.7 233.1,325.6 160,286.9 552.2,260.8 464.2,233 229.4,333.3 591.4,360.5 615.7,449 393.9,183.5 314.7,218.5 151.3,277.5 151,277.3 148.1,281.9 516.9,203.2 276.2,314 613.6,425.9 135.1,264.1 381.3,146.7 267.8,322 288.3,261.3 443.2,232.1 294.9,239.8 220.4,313.4 164.5,293.6 469.9,236 199.8,269.5 217.6,299.6 460.7,241.2 618,432.5 288.6,258.9 332.6,240.8 270.9,322.6 322.8,231.6 346.6,234.3 482.5,184.5 278.2,305.6 234,324.8 511.2,171.3 404.1,167.9 284.3,275.7 229.6,331.4 596.9,401.3 307.5,227.2 478.8,198 285.9,276.8 321.4,224.6 135.9,265.7 387.4,146.9 292.2,241.7 277.1,307.9 468.7,230.3 233.3,324.6 534,234.7 384.2,147.1 495,146.5 581.6,322.1 363.8,201.2 176.3,291.3 343.5,240.7 564.2,268.4 188.4,282.9 208.6,280.2 276.2,313.5 251.5,320.8 447.8,223.9 604.8,425.3 550.4,254.3 391.8,173.2 202.8,278.5 430.1,227.3 509.4,161.1 386.7,142 344.7,233.5 486.5,174.2 181.6,281 148.5,282 451,223 488.7,164.7 619,429.3 556.5,274.7 592.8,377.3 293.9,244.4 207.2,276.1 247.3,316.4 212.7,274.3 427.5,213.8 478.8,194.8 348.3,229.9 225,328.9 392.4,171.9 334.7,262.8 556.8,274.8 537.4,222.1 335.2,262 392.3,172.3 478.4,191.5 296.9,239 311.9,224.6 409.7,174.5 530,223.9 590.9,357.2 558.6,275.6 396,197.6 499.1,144.7 546.9,248.5 579.7,324.8 300.9,229.7 459.2,237.7 162.9,289.3 133.2,268.2 578.2,320.5 206.1,284.2 364.6,184.3 313.7,220 298.4,227.5 605.5,424.7 450.5,228.1 611.5,424.7 308.9,228.7 477.8,199.5 517.8,220.4 523.3,241.9 510,164.3 339.8,248.9 177.1,286.4 328.8,225.5 140.5,263.9 526.9,227.2 191.7,283.9 540.2,238.5 303,217.1 355.2,221.2 357.8,215.3 117.4,264.7 499,146.8 135.1,264.6 408.7,172.4 365.1,174.4 561.4,274.6 596,396.5 414.7,219.5 498.5,145.2 238.8,320.8 361.8,198.8 181.2,294.8 338.8,247.3 236.1,326.4 346.5,236.3 550.4,253.9 208.4,281.7 301.2,228.9 396.6,198.7 117.6,271.9 355.1,222 335.8,257.9 236.4,320.5 315.8,218.9 279.7,300.1 545.9,257.7 352.5,231.5 275.2,317.5 436.9,225 460.4,242 395,187.4 265.6,324.4 550.9,258.6 428.7,213.5 399.3,174.3 252.1,321.4 121.9,270.7 499.6,143 246.2,322.3 175.9,266.2 193.7,301 157.8,287.2 181.2,292.2 246.9,316.8 554.7,275.2 544.2,252.4 161.8,288.3 481.2,189.5 256.6,326.8 394.9,187.9 582.3,324.3 358.2,219.7 400.4,163.2 175.8,282 463.9,237.4 279.2,301.2 140,267.3 528.7,229.2 257,323 193.4,294 475.6,209.9 277.5,309 356.1,218.7 422.1,207.5 328,223.3 388.7,148.5 603.5,428.8 445,230.3 506.9,157.1 122.2,271 177.6,283.2 119.5,267.9 361.4,198.6 429.8,224.1 350.3,232.3 339.2,246.1 608.8,422.5 218.9,302.1 198.2,264.8 187.1,282.7 439.3,227.6 409.3,175.4 455.5,232.3 390.7,163.6 432,228.9 202.2,272.7 452.1,227 315.8,221.6 594,385.1 243,316.8 209.9,277.6 319.4,221.4 158,286.8 122.8,264.1 259.9,328.1 605.8,425.7 466.4,233.2 377.7,155.9 479.6,195.8 386,145.1 296.8,238.7 161.2,287.5 215.7,276.4 298.3,231.4 465.1,232.8 181.3,283.8 320.9,222.3 541.5,236.1 426.6,214.2 437.4,230.7 452.3,224.7 598.9,414.1 363.1,205.5 276.4,314.6 597.5,402.9 128.8,254.8 460,241 401.1,173.3 353.2,224.7 322.7,232.7 156.4,281.1 152.4,280.2 203.5,272.2 167.4,307.8 326.3,221.7 271.1,326 132.6,265.9 233,324.6 362.2,200.3 408.3,175 536.9,223.5 586,328.5 129.4,258.3 304.4,217 447.6,229.5 187.4,268.3 201.5,262.2 164.8,300.1 320.8,223.6 430.4,223.6 291.4,245.3 422.9,208.3 370.3,170.7 235,327.3 314,220.6 292.8,241.7 478,193.8 473.3,227.1 563.7,270.1 176.1,273.2 397.6,181.9 524.2,217.2 342.2,252.7 233,325.8 575.4,314.3 220.7,314.8 127.4,253.7 255.2,324 490.4,152.9 523.1,242.7 424.5,222.6 241.9,318.1 300,228.2 501,144.5 401.5,168.7 118.2,267.1 409.2,172.5 184.5,279.4 367,165.7 423.8,216 516.1,165.6 208.7,277.9 469.1,232.3 225.1,327.8 545.7,248.9 146.7,271.9 370.8,165.6 229,330.2 553.1,273.8 439.6,231.8 176.1,276.8 587.1,335.7 468.4,229.5 345.8,242.1 396.6,201.1 189.5,274.3 453.8,229.1 203.1,280.1 160.9,286.6 460.5,240.8 593.2,378.3 195.6,288.3 118.8,273.5 589.3,343.5 202.8,276 380.6,155.9 241.9,317.8 331,238.7 556.4,277.2 259.6,325.6 536.5,224.7 364.3,194.1 583.1,323.8 282.9,284.5 415.8,221.7 334.3,257.3 265.3,321.2 298.7,233.4 406.7,170.1 179.9,282.7 537.9,228.7 227.8,329.4 365.5,167.5 293.4,250.9 258.3,323.5 504.4,147.5 532.7,239.3 268.4,326.8 366.7,166.7 407.7,175.3 267.3,323.6 515.8,212.8 302,223.1 329.6,224.9 416.4,218.1 422.7,211.6 232.2,330.9 592,369.6 348.3,232 426.2,216 130.4,263 264.1,320.1 178.4,288.8 211.4,275.1 441.4,230 229,331.7 571,295.9 459.5,243.3 361.5,199.1 497.2,145.2 532.1,230 612.8,423 204.1,273.4 432.9,226.8 504.4,150.2 345.7,240.8 342.8,241.9 255.5,324.6 548,256.2 301.6,223.1 568.5,272.7 176.5,292.4 247.9,320.5 253.4,325.2 331.9,239.8 579.9,326.5 455.4,234.2 529.4,222.6 362.6,200.9 523.7,233.3 373.3,155.7 593.6,381.8 115.3,264.9 481.8,189.6 198.7,268.6 353.2,224.6 327.4,221 278.9,301.8 169.7,309 178.3,289 150.2,279.7 136.2,265.3 179.2,279.1 535.7,228.2 580.7,323.9 287.4,265.9 334.4,252.6 443.8,233.2 573.2,304.5 338.1,240.5 228.8,330.3 322,223.8 335.2,255 398.8,180 169.9,305.7 244,321 164.7,295.3 373.2,156.2 564.9,272.5 411,194 525.1,234.2 222.1,316 251.8,320.6 475,222.1 223.8,321.7 501.7,145.1 498.8,147.4 257.4,323.6 198.1,263.6 310.1,222.9 489.4,159.7 496.9,145.5 572.4,299.7 277.4,308.3 198.5,272.2 142.8,265.4 578.9,321.8 594.6,393.7 406.9,176.2 286,277 507.6,162.4 586.3,329.1 420.6,207.1 302.6,221.1 527.6,233 353,225.1 141.5,264.5 474.5,221.6 587.8,340.3 588.5,340.5 415.7,223.9 181.7,281.8 562.6,271.3 421.4,204.6 291.2,249.6 410.2,184.5 345.5,240.2 511.7,174.6 500,143.6 374.6,152.8 553.8,267.9 448.5,227.3 140.9,267.5 284.6,279.2 466.7,233.7 148.6,279.5 333.3,250.6 458.1,241.6 147.2,273.5 455,228.1 397.6,185.2 439,230.1 314.3,216.7 117.6,270 450.5,224.2 582.3,323.6 454.1,228.5 473.7,230.6 269,324.9 416.9,222.7 206.4,272 354.3,228.4 531.6,229.1 147.3,278.8 604.4,422.8 300.3,234.2 184,294.3 477.5,195.7 532,227.1 566.7,272.8 128,259.5 209.5,283 542.1,249.4 520.6,238.9 122.4,271.2 236.9,322 343.2,241.4 132.1,265.8 237.1,325.9 583.7,323.3 251.3,319.8 180.6,271.9 410.9,196.6 205.2,279.3 375.5,154.1 258.3,325.1 191.2,288.7 191.2,286.7 609.4,423.1 455.1,228 278.6,302.3 384,143.2 437.7,230.6 397.9,180.9 443.6,231.6 618.6,430.9 462.1,233.6 303.3,219.6 118.2,270.9 117.8,266.2 212.8,285.5 390.4,161 542.8,252.9 393.3,175.5 195.5,291.1 260.8,326.8 533,234.8 436.5,229.5 370.2,170.8 332.1,239.1 544.2,256.5 192,280.8 183.1,284.7 193.5,294.8 272.2,322.1 563.2,269.3 306.2,220.1 254.3,326.3 148.3,281.5 425.9,223.4 343.8,237 346.7,237.7 266.6,325.9 317.8,223.2 177.5,293.3 310.1,223 489.3,158.5 195,295.6 598.7,405.6 421.8,203.1 423.6,212.4 457,235.9 267.5,324.1 305.4,220.6 325.1,219.6 153.9,270.5 351.9,228.9 549.9,256.1 396.8,194.8 570.6,285 232.2,331.1 459.7,242.1 515.4,211.2 438.2,229.2 485.9,178.6 267.1,322.8 218.8,303.3 207.6,274.8 378.1,158 376.8,148.1 524.4,229.3 608.7,421.8 125.8,256.9 525.9,235.3 613.9,426 428.2,216.7 373.4,154.9 139,266.1 282.4,285.2 461.4,237.7 192.1,285.8 306.8,224.3 531.2,231.8 193.3,296.3 324.1,232.4 474.7,220 223.3,326 564.9,271.1 256.2,321.1 510.8,166.6 608.6,426.9 404.1,163.4 457.6,241.9 554,272.2 219.4,308.1 217.5,294.2 168.1,308.5 385.8,140.9 168.9,308.8 397.8,182.5 283.7,284.8 345.7,241.8 136,264.2 452.1,224.4 608.6,426.8 295.2,241.3 435.4,227 587.8,338.1 482.5,185.1 427.9,216.3 614.2,434.2 554,270.9 308.2,232.5 240.1,322.8 197.9,264.2 340.3,247.8 219.7,309.3 412.5,206.1 588.3,339 177.7,284.7 135.9,264.1 238.2,326.1 539.3,211.6 417.9,215.8 509,159.6 240.3,319.9 594,382 290.2,253.5 448.2,226.4 387.1,144 584.8,329.5 340.6,251.1 564.5,270.5 194.9,291.7 336.5,249 145.8,270.2 227,333.8 218.3,302 254.9,320.1 381.2,150.6 552.3,258 418.2,212.4 418.4,220.9 557.8,273.5 141.3,268.6 547.3,252.3 401.1,172.5 466.1,230.4 177.6,294.3 290.8,248.9 500.9,144.1 435.9,224.7 311.3,218.4 174.9,294.8 356.8,220.8 608.7,424.3 387.6,140.9 423.9,213 394,186.2 435.2,229.3 612.5,424.8 479.8,196.7 287.3,273.6 267.8,322.3 189.5,287.4 215.6,276.9 540.9,228.7 272.9,320.3 443.8,234.7 168.3,308.2 308.9,227.8 499.7,143.4 572.4,298.5 394.6,185.4 307.9,228.2 488,164.4 474.2,219.9 464.6,233.4 506.4,153.5 370.9,166.5 430.3,221.6 445.8,229.1 197.2,262.5 280.6,300.5 198.8,269.8 565.6,270.5 283.3,280.1 412.5,207.8 163.4,294.2 549.9,257.5 484.2,184.8 223.1,322.7 496.6,145.9 554.7,273.9 365.5,169.2 325,219.3 196.6,267.8 147.1,277 377.7,156.3 514,191.7 498.1,147.2 233.5,323.9 536.8,226.1 599.1,410.2 342.3,250.4 210.2,278.7 297.6,236.6 385.1,140.6 594.7,392.8 158.2,288.2 117.5,265.1 528.4,223.9 539.1,210.3 233.5,323.6 142.2,267.4 289.2,254.2 245.9,319.6 321.9,226.2 143.8,270.1 308.5,227.6 161.4,290.1 201.9,269.9 167.6,306.6 365.8,169.9 520.6,235.6 307.7,229.4 395.9,196.5 407.1,178.9 460.8,243 396.3,217 231.3,333.3 479.1,194.4 578.3,321.5 142.7,265.2 304,217.7 473,227.5 301.7,223.5 585.4,330 195.2,287.5 479.4,195 115.9,260.7 359.4,203.8 589.9,343.5 539.6,221.5 318.9,225.6 357.6,215.5"/>
<polyline fill="none" stroke="#0000ff" stroke-width="1.45" stroke-linejoin="round" points="114.3,240 116.4,247.9 118.6,243.6 120.7,250.7 123.6,247.9 125.7,253.6 127.9,260.7 130,272 132.9,285 135,272 136.4,266.4 138.6,273.6 140.7,280.7 142.9,276.4 145,282 147.9,306 150,292 151.4,286.4 152.9,292 154.3,285 156.4,290.7 159.3,293.6 161.4,290.7 163.6,296.4 165,305.5 167,300 168.6,295 170.7,299.3 173,298.5 175,304.5 177,318.6 178.6,317 180.7,321.4 182.9,324.3 185,314.3 187.1,315.7 189.3,330 191.4,327 193.6,328.6 195,315.7 197,322.9 199.3,340 201.4,322.9 203.6,307 205,305.7 207,311.4 210,307 212,305.7 214.3,302.9 216.4,304.3 218.6,308.6 221.4,314.3 224.3,320 226.4,325.5 228.6,328.6 230.7,327 232.9,331.4 235,348.6 237,337 239.3,332.9 241.4,334.3 242.9,337 245,332 247,337 249.3,345.7 250.7,337 252,350 254.3,331.4 255.7,335.7 257,328.6 260.7,327.9 264.3,329.3 266.4,331.4 268.6,325.7 270.7,321.4 272.9,314.3 275,305.7 277,297 279.3,290 282,276.4 284.3,262 286.4,247.9 288.6,237.9 291.4,233.6 293.6,227.9 296.4,223.6 298.6,222 300.7,216.4 303.6,212 305.7,209.3 308.6,217.9 310.7,210.7 313.6,206.4 316.4,212 319.3,213.6 322,209.3 324.3,212 326.4,205.7 328.6,206.4 330.7,213.6 332,226.4 334.3,237.9 336.4,235 337.9,233.6 340,239.3 342,236.4 344.3,224.3 346.4,225.7 348.6,226.4 351.4,221.4 354.3,217 356.4,213.6 357.9,208.6 359.3,191.4 360.7,182.9 362.1,184.5 363.6,170 365.7,157 367.9,160 370,158.6 372,151.4 374.3,147 377,139.3 379.3,145.7 381.4,142.9 383.6,140 386.4,133.6 388.6,137 390,144.3 391.4,157 393.6,167 395,178.6 396.4,193 397.9,172.9 400,162.9 402,161.4 404.3,162.9 406.4,167 408.6,170 410.7,172.9 412,194.3 414.3,211.4 416.4,215.7 418.6,211.4 421.4,197 423.6,211.4 425.7,218.6 427.9,204.3 430,221.4 431.4,227 434.3,221.4 437,225.7 440,229.3 442.9,230 446.4,227 448.6,220 450.7,204.3 452.9,201.4 454.3,194.3 455.7,185 457,182.9 458.6,188.6 460.7,197.9 462.9,187 465,168.6 467,158.6 469.3,151.4 470.7,142.9 472.9,151.4 474.3,150 476.4,142.9 478.6,150 481.4,142.9 483.6,146.4 485.7,147 487.9,154.3 490,158.6 492,155.7 494.3,162.9 496.4,155.7 499.3,151.4 501.4,147 503.6,141.4 505.7,142 507.9,147 510,151.4 512,161.4 514.3,152.9 516.4,145 518.6,152.9 520.7,165.7 522,175.7 524.3,168.6 526.4,165.7 528.6,157 530,158.6 532,174.3 534.3,172.9 537,174.3 539.3,180 541.4,191.4 542.6,201.5 543.6,206 545.7,203 547.9,208.6 550,218.6 552,229.5 553.6,225 555.7,237.5 557.9,247.5 560,244 561.4,247.9 563.3,233.8 565,239.3 567,242 569.3,243.6 571.4,252 572.9,256.4 575,265 577,262 578.6,260.7 580,255 581.4,265 582.9,280.7 585,287.9 587,297.9 589.3,306.4 591,315 592,328.6 593.6,341.4 594.3,352.9 595.7,362.9 597.9,374 600,383.6 602,392 603.6,400.7 605,407.9 607,405 608.6,400.7 610,397.9 611.4,400.7 613.6,402 615,412 616.4,425 617.4,424"/>
<polyline fill="none" stroke="#00ff00" stroke-width="1.45" stroke-linejoin="round" points="113.6,248.6 117,255 120.7,262.9 124.3,259.3 127.9,256.4 131.4,255.7 134.3,261.4 138.6,263.6 143.6,262.9 147,267 151.4,272 154.3,277 158.6,281.4 162.9,285 167,290 171.4,295 175,297.9 177.9,302.9 181.4,304.3 185.7,304.6 190,306.4 195.7,308 199.3,307.5 201.4,297.5 204.3,298.3 208.6,294 211.4,293.2 213.6,295.4 216,303 219.3,311.4 222,320 224.3,327 227.9,335 231.4,336.4 234.3,335 237,331.4 240.7,329.3 245,327.9 249.3,328.6 253.6,328.6 257.9,328.6 262,330 265,327.9 267.9,325 270.7,325 273.6,323.6 275.7,318.6 277.9,311.4 280,302 282.9,290 285.7,275 288.6,257.9 291.4,243.6 293.6,237.9 296.4,230.7 299.3,225 302,219.3 305,215 308.6,223.6 310.7,217.9 314.3,210.7 317,219.3 320,217.9 322.9,215 325,216.4 327,209.3 329.3,212 331.4,225 332.9,236.4 334.3,242 336.4,239.3 337.9,236.4 340,241.5 342,240 344.3,228.6 346.4,228.6 348.6,228.6 351.4,223.6 354.3,220 356.4,216.4 357.9,210 359.3,194.3 361,184.3 362.3,187 363.6,172.9 365.7,161.4 367.9,164.3 370,162.9 372,154.3 374.3,150 377,142 379.3,149.3 381.4,145.7 383.6,142 386.4,137 388.6,139.3 390,148.6 391.4,160 393.6,171.4 395,184.3 396.4,194.3 397.9,177 400,165 402,163.6 404.3,164.3 406.4,169.3 408.6,171.4 410.7,173.6 412,195.7 414.3,210 416.4,215.7 418.6,212 421.4,195.7 423.6,208.6 425.7,217 427.9,205.7 429.3,211.4 431.4,222.9 434.3,218.6 437,222.9 440,227 442.9,227.9 446.4,225.7 449.3,221.4 451.4,220 453.6,219.3 455,219.5 456.4,228.6 458.6,234.3 460.7,228.6 463.6,222.9 466.4,215.7 468.6,210 469.8,212.5 471.4,204.3 472,188.6 474.3,194.3 476.4,187 478.6,184.3 480.7,180 482.9,167 485,164.3 487,160 489.3,155.7 492,150 495,145.7 497.9,141.4 500.7,137.9 503.6,137 506.4,140 509.3,138.6 511.4,135 513.6,140 516.4,141.4 518.6,144.3 520.7,151.4 522.9,158.6 525,167 527,177 529.3,185.7 531.4,194.3 533.6,203 536.4,211.4 539.3,208.6 542,214.3 545,221.4 547.9,231.5 550.7,238.5 553.6,248.5 555.7,256.7 557.9,259.6 560.7,261 563.6,261.8 566.4,260 568.6,263.6 570.7,268.5 572.9,272.3 575,278 577,289.3 579.3,297.9 582,305.7 585,312.9 587.9,320 590,328.6 591.4,340 592.9,355.7 594.3,366 595.7,376 597,386 598.6,393.6 600.7,400.7 602.9,409.3 605,411.4 607,410 609.3,405.7 610.7,407 612,406.4 613.6,413.6 615,423.6 616.4,430 617.4,427"/>
<polyline fill="none" stroke="#ff0000" stroke-width="1.45" stroke-linejoin="round" points="113.6,258.6 116.5,266 119.3,271.4 122,268 125,262 128.6,255.7 130.5,261 132.9,267.9 135.4,262.9 138.6,266.4 142.9,269.3 147.1,276.4 150.7,280.7 152.5,276 154.3,270.7 156.4,280.7 160,287.9 164.3,295 167,304.3 171.4,305.7 174.3,302 175.7,286.4 177.9,287.9 180.7,277.9 183.6,285 187.9,279.3 190,287.9 193.6,290.7 195.5,280 197,269.3 200,266.4 202.9,277.9 208.6,277 212.9,279.3 215.7,282 217.9,299 220.7,311.4 222.9,321.4 225,328.6 227.9,332 231.4,332 233.6,326.4 237,322.9 240.7,320.7 242.9,318.6 246.4,319.3 248.6,316.4 250.7,322 253.6,324.3 257.9,323.6 260.7,325.7 264.3,322.9 267.9,322.9 270.7,322.9 273.6,320.7 275.7,315.7 277.9,308.6 280,300 282,290 284.3,276.4 286.4,273.6 288.6,260.7 291.4,247.9 293.6,240.7 296.4,235 299.3,230.7 302,222 305,217.9 307.9,230.7 309.5,229 311.4,220.7 314.3,216.4 317,226.4 320,222 322.9,229.3 325,222 327,216.4 329.3,223.6 331.4,236.4 332.9,246.4 334.3,250.7 337,242 339.3,246.4 342,247 344.3,234.3 346.4,237 348.6,232.9 351.4,229.3 354.3,225.7 357,221.4 358.6,215.7 360,198.6 361,195.7 362.6,204.3 364,198.6 365,171.4 366.4,166.4 368.6,167.9 370.7,165.7 372.9,157 375,151.4 377,147.9 379.3,155.7 381.4,150 383.6,145 386.4,142 388.6,142.9 390,152.9 391.4,167 393.6,181.4 395,187 396.4,200 398,187 397.9,181.4 400,167 402,165 404.3,167 406.4,171.4 408.6,172.9 410,174.3 410.7,192.9 412.9,205.7 415,217 417,218.6 419.3,212.9 421.4,201.4 423.6,215.7 425.4,221.4 427.9,211.4 429.7,221.4 431.4,227 434.3,222.9 437,228.6 440,231.4 443.6,232.9 446.4,230 449.3,225 451.4,223.6 453.6,224.3 455.4,230 456.4,237 458.6,241.4 460.7,240 462.9,235.7 465,234.3 467.9,231.4 470.7,234.3 472.9,231.4 475,218.6 476.4,207 477.9,195.7 480,192.9 482,188.6 484.3,181.4 486.4,172.9 488.6,161.4 490.7,152.9 492.9,150.7 495,147.9 497,148.6 499.3,145.7 501.4,143.6 503.6,147.9 505.7,154.3 507.9,152.9 509.3,157 510.7,168.6 512,180 513.6,191.4 514.6,202 515.7,210 517,220 518.3,212.9 519.6,231.4 521,244.3 522.9,238.6 525,234.3 526.4,240 527.9,231.4 529.3,224.3 531.4,230 533.6,235.7 535.7,228.6 537.9,221.4 539.3,218.6 540.7,232.9 542,247 544.3,253.6 547,252.9 548.6,253.6 550,257.9 551.4,255 553.6,267.9 555.7,279.3 557.9,277.9 560.7,274.3 563.6,272 566.4,270.7 568.6,275 570,282 571.4,293.6 572.9,302 574.3,308.6 576.4,314.3 578.6,324.3 580.7,326.4 583.6,327 585.7,332 587.9,337 590,342.9 590.7,354.3 591.4,364.3 592.9,375 594.3,389.3 596.4,399.3 598.6,409.3 600.7,417.9 602.9,425 605,425.7 607,422.9 608.5,424 610,417.9 611.4,423.6 612.9,425 614.3,432 615.7,440.5 617,437.5"/>
<g stroke="#000" fill="none">
<rect x="113.4" y="84.9" width="510.1" height="396.60" stroke-width="1.45"/>
<line x1="113.40" y1="481.5" x2="113.40" y2="487.0" stroke-width="0.85"/><line x1="113.40" y1="84.9" x2="113.40" y2="79.4" stroke-width="0.85"/><line x1="134.65" y1="481.5" x2="134.65" y2="484.8" stroke-width="0.85"/><line x1="134.65" y1="84.9" x2="134.65" y2="81.60000000000001" stroke-width="0.85"/><line x1="155.91" y1="481.5" x2="155.91" y2="484.8" stroke-width="0.85"/><line x1="155.91" y1="84.9" x2="155.91" y2="81.60000000000001" stroke-width="0.85"/><line x1="177.16" y1="481.5" x2="177.16" y2="484.8" stroke-width="0.85"/><line x1="177.16" y1="84.9" x2="177.16" y2="81.60000000000001" stroke-width="0.85"/><line x1="198.42" y1="481.5" x2="198.42" y2="484.8" stroke-width="0.85"/><line x1="198.42" y1="84.9" x2="198.42" y2="81.60000000000001" stroke-width="0.85"/><line x1="219.67" y1="481.5" x2="219.67" y2="484.8" stroke-width="0.85"/><line x1="219.67" y1="84.9" x2="219.67" y2="81.60000000000001" stroke-width="0.85"/><line x1="240.93" y1="481.5" x2="240.93" y2="487.0" stroke-width="0.85"/><line x1="240.93" y1="84.9" x2="240.93" y2="79.4" stroke-width="0.85"/><line x1="262.18" y1="481.5" x2="262.18" y2="484.8" stroke-width="0.85"/><line x1="262.18" y1="84.9" x2="262.18" y2="81.60000000000001" stroke-width="0.85"/><line x1="283.43" y1="481.5" x2="283.43" y2="484.8" stroke-width="0.85"/><line x1="283.43" y1="84.9" x2="283.43" y2="81.60000000000001" stroke-width="0.85"/><line x1="304.69" y1="481.5" x2="304.69" y2="484.8" stroke-width="0.85"/><line x1="304.69" y1="84.9" x2="304.69" y2="81.60000000000001" stroke-width="0.85"/><line x1="325.94" y1="481.5" x2="325.94" y2="484.8" stroke-width="0.85"/><line x1="325.94" y1="84.9" x2="325.94" y2="81.60000000000001" stroke-width="0.85"/><line x1="347.20" y1="481.5" x2="347.20" y2="484.8" stroke-width="0.85"/><line x1="347.20" y1="84.9" x2="347.20" y2="81.60000000000001" stroke-width="0.85"/><line x1="368.45" y1="481.5" x2="368.45" y2="487.0" stroke-width="0.85"/><line x1="368.45" y1="84.9" x2="368.45" y2="79.4" stroke-width="0.85"/><line x1="389.70" y1="481.5" x2="389.70" y2="484.8" stroke-width="0.85"/><line x1="389.70" y1="84.9" x2="389.70" y2="81.60000000000001" stroke-width="0.85"/><line x1="410.96" y1="481.5" x2="410.96" y2="484.8" stroke-width="0.85"/><line x1="410.96" y1="84.9" x2="410.96" y2="81.60000000000001" stroke-width="0.85"/><line x1="432.21" y1="481.5" x2="432.21" y2="484.8" stroke-width="0.85"/><line x1="432.21" y1="84.9" x2="432.21" y2="81.60000000000001" stroke-width="0.85"/><line x1="453.47" y1="481.5" x2="453.47" y2="484.8" stroke-width="0.85"/><line x1="453.47" y1="84.9" x2="453.47" y2="81.60000000000001" stroke-width="0.85"/><line x1="474.72" y1="481.5" x2="474.72" y2="484.8" stroke-width="0.85"/><line x1="474.72" y1="84.9" x2="474.72" y2="81.60000000000001" stroke-width="0.85"/><line x1="495.98" y1="481.5" x2="495.98" y2="487.0" stroke-width="0.85"/><line x1="495.98" y1="84.9" x2="495.98" y2="79.4" stroke-width="0.85"/><line x1="517.23" y1="481.5" x2="517.23" y2="484.8" stroke-width="0.85"/><line x1="517.23" y1="84.9" x2="517.23" y2="81.60000000000001" stroke-width="0.85"/><line x1="538.48" y1="481.5" x2="538.48" y2="484.8" stroke-width="0.85"/><line x1="538.48" y1="84.9" x2="538.48" y2="81.60000000000001" stroke-width="0.85"/><line x1="559.74" y1="481.5" x2="559.74" y2="484.8" stroke-width="0.85"/><line x1="559.74" y1="84.9" x2="559.74" y2="81.60000000000001" stroke-width="0.85"/><line x1="580.99" y1="481.5" x2="580.99" y2="484.8" stroke-width="0.85"/><line x1="580.99" y1="84.9" x2="580.99" y2="81.60000000000001" stroke-width="0.85"/><line x1="602.25" y1="481.5" x2="602.25" y2="484.8" stroke-width="0.85"/><line x1="602.25" y1="84.9" x2="602.25" y2="81.60000000000001" stroke-width="0.85"/><line x1="113.4" y1="481.50" x2="107.4" y2="481.50" stroke-width="0.85"/><line x1="623.5" y1="481.50" x2="629.5" y2="481.50" stroke-width="0.85"/><line x1="113.4" y1="441.84" x2="110.2" y2="441.84" stroke-width="0.85"/><line x1="623.5" y1="441.84" x2="626.7" y2="441.84" stroke-width="0.85"/><line x1="113.4" y1="402.18" x2="110.2" y2="402.18" stroke-width="0.85"/><line x1="623.5" y1="402.18" x2="626.7" y2="402.18" stroke-width="0.85"/><line x1="113.4" y1="362.52" x2="110.2" y2="362.52" stroke-width="0.85"/><line x1="623.5" y1="362.52" x2="626.7" y2="362.52" stroke-width="0.85"/><line x1="113.4" y1="322.86" x2="110.2" y2="322.86" stroke-width="0.85"/><line x1="623.5" y1="322.86" x2="626.7" y2="322.86" stroke-width="0.85"/><line x1="113.4" y1="283.20" x2="107.4" y2="283.20" stroke-width="0.85"/><line x1="623.5" y1="283.20" x2="629.5" y2="283.20" stroke-width="0.85"/><line x1="113.4" y1="243.54" x2="110.2" y2="243.54" stroke-width="0.85"/><line x1="623.5" y1="243.54" x2="626.7" y2="243.54" stroke-width="0.85"/><line x1="113.4" y1="203.88" x2="110.2" y2="203.88" stroke-width="0.85"/><line x1="623.5" y1="203.88" x2="626.7" y2="203.88" stroke-width="0.85"/><line x1="113.4" y1="164.22" x2="110.2" y2="164.22" stroke-width="0.85"/><line x1="623.5" y1="164.22" x2="626.7" y2="164.22" stroke-width="0.85"/><line x1="113.4" y1="124.56" x2="110.2" y2="124.56" stroke-width="0.85"/><line x1="623.5" y1="124.56" x2="626.7" y2="124.56" stroke-width="0.85"/><line x1="113.4" y1="84.90" x2="107.4" y2="84.90" stroke-width="0.85"/><line x1="623.5" y1="84.90" x2="629.5" y2="84.90" stroke-width="0.85"/>
</g>
<text x="194.6" y="46.0" font-size="36">Dew Point / 2007-02-06</text>
<text x="100.3" y="70.4" font-size="17.6">[<tspan font-size="14" dy="-3.6">°</tspan><tspan dy="3.6">C]</tspan></text>
<text x="94.6" y="92.1" font-size="19.6">5</text>
<text x="93.2" y="290.4" font-size="20" textLength="10.6" lengthAdjust="spacingAndGlyphs">0</text>
<text x="87.3" y="488.7" font-size="20" textLength="16.8" lengthAdjust="spacingAndGlyphs">-5</text>
<text x="90.5" y="507.0" font-size="19.3" textLength="46.4" lengthAdjust="spacingAndGlyphs">00:00</text>
<text x="218.0" y="507.0" font-size="19.3" textLength="46.4" lengthAdjust="spacingAndGlyphs">06:00</text>
<text x="347.5" y="507.0" font-size="19.3" textLength="46.4" lengthAdjust="spacingAndGlyphs">12:00</text>
<text x="475.0" y="507.0" font-size="19.3" textLength="46.4" lengthAdjust="spacingAndGlyphs">18:00</text>
<text x="340.3" y="526.5" font-size="19.3" textLength="57" lengthAdjust="spacingAndGlyphs">Feb-06</text>
<text x="340.4" y="550.2" font-size="23.4" textLength="58.6" lengthAdjust="spacingAndGlyphs">(LST)</text>
<rect x="637.6" y="396.6" width="184.7" height="84.8" fill="#fff" stroke="#000" stroke-width="1.2"/>
<line x1="643.3" y1="411.0" x2="654.7" y2="411.0" stroke="#ff0000" stroke-width="1.2"/><circle cx="649" cy="411.0" r="1.3" fill="#fff" stroke="#ff8080" stroke-width="0.8"/>
<text x="659.4" y="416.7" font-size="17.4" textLength="68.3" lengthAdjust="spacingAndGlyphs">at 29.5 m</text>
<line x1="643.3" y1="439.3" x2="654.7" y2="439.3" stroke="#00ff00" stroke-width="1.2"/><circle cx="649" cy="439.3" r="1.3" fill="#fff" stroke="#80ff80" stroke-width="0.8"/>
<text x="659.4" y="445.0" font-size="17.4" textLength="68.3" lengthAdjust="spacingAndGlyphs">at 12.3 m</text>
<line x1="643.3" y1="467.6" x2="654.7" y2="467.6" stroke="#0000ff" stroke-width="1.2"/><circle cx="649" cy="467.6" r="1.3" fill="#fff" stroke="#8080ff" stroke-width="0.8"/>
<text x="659.4" y="473.3" font-size="17.4" textLength="59.2" lengthAdjust="spacingAndGlyphs">at 1.6 m</text>
<text x="661.8" y="533.0" font-size="11.9" textLength="118.2" lengthAdjust="spacing" style="stroke:none">©TERC, Univ. Tsukuba</text>
<text x="655.3" y="549.7" font-size="13" textLength="167.3" lengthAdjust="spacing" style="stroke:none">Observed at TERC Tower site</text>
<text x="561.0" y="566.5" font-size="13" textLength="261.3" lengthAdjust="spacing" style="stroke:none">Created Automatically at 2007-02-06/23:55:23</text>
<text x="436.3" y="583.3" font-size="13" textLength="386.3" lengthAdjust="spacing" style="stroke:none">Data source : /home/hojyo/new/TERC-data/sorted_data/MET.10s.dat</text>
<g>
<rect x="785" y="504" width="34" height="34" rx="1" fill="#0055ff"/>
<path d="M795.6 503.5 C796.6 506.5 797.2 509.9 799.6 509.9 L804.9 509.9 C807.2 509.9 807.6 506.5 808.4 503.5 Z" fill="#fff"/>
<path d="M802.4 511.8 C802 515 798.9 516.6 798.9 519.3 C798.9 521.2 800.4 522.3 802.2 522.3 C804.1 522.3 805.4 521.2 805.4 519.3 C805.4 516.6 803 515 802.4 511.8 Z" fill="#fff"/>
<g fill="none" stroke="#fff" stroke-width="1">
<path d="M785 514.8 Q802 534.6 819 514.8"/>
<path d="M785 519.6 Q802 533.8 819 519.6"/>
<path d="M785 524 Q802 533 819 524"/>
</g>
<text x="786.2 794.8 804.3 813.4" y="536.9" font-size="7.8" font-weight="bold" style="font-family:'Liberation Sans',sans-serif;fill:#fff;stroke:none">TERC</text>
</g>

</svg></body></html>
